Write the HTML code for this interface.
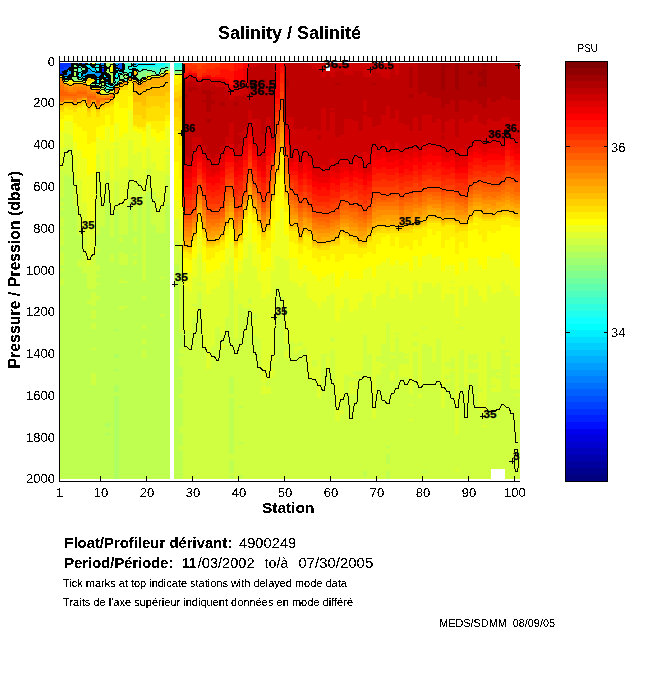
<!DOCTYPE html>
<html><head><meta charset="utf-8"><style>
html,body{margin:0;padding:0;background:#fff;width:650px;height:680px;overflow:hidden}
svg{display:block}
text{font-family:"Liberation Sans",sans-serif}
</style></head><body>
<svg width="650" height="680" viewBox="0 0 650 680">
<defs><filter id="cr" filterUnits="userSpaceOnUse" x="0" y="0" width="650" height="680"><feComponentTransfer><feFuncA type="discrete" tableValues="0 0 0 0 0 0 0 0 0 1 1 1 1 1 1 1 1 1 1 1"/></feComponentTransfer></filter></defs>
<rect width="650" height="680" fill="#fff"/>
<g shape-rendering="crispEdges"><path fill="#0010ff" d="M100.4 68.75h4.6v2.08h-4.6z"/><path fill="#0020ff" d="M59.0 72.91h4.6v2.08h-4.6z"/><path fill="#0030ff" d="M59.0 62.50h4.6v6.25h-4.6zM63.6 62.50h4.6v4.17h-4.6zM68.2 62.50h4.6v2.08h-4.6zM100.4 70.83h4.6v2.08h-4.6z"/><path fill="#0040ff" d="M59.0 68.75h4.6v4.16h-4.6zM63.6 66.67h4.6v4.16h-4.6zM68.2 64.58h4.6v4.17h-4.6zM100.4 66.67h4.6v2.08h-4.6z"/><path fill="#0050ff" d="M82.0 62.50h4.6v2.08h-4.6zM118.8 64.58h4.6v4.17h-4.6z"/><path fill="#0060ff" d="M118.8 62.50h4.6v2.08h-4.6z"/><path fill="#0070ff" d="M114.2 64.58h4.6v4.17h-4.6z"/><path fill="#0080ff" d="M63.6 72.91h4.6v2.08h-4.6zM77.4 62.50h4.6v2.08h-4.6zM100.4 64.58h4.6v2.08h-4.6zM105.0 79.16h4.6v2.08h-4.6z"/><path fill="#008fff" d="M63.6 75.00h4.6v2.08h-4.6zM68.2 70.83h4.6v2.08h-4.6zM86.6 70.83h4.6v2.08h-4.6zM95.8 72.91h4.6v4.17h-4.6zM100.4 62.50h4.6v2.08h-4.6zM100.4 72.91h4.6v2.08h-4.6zM105.0 77.08h4.6v2.08h-4.6z"/><path fill="#009fff" d="M68.2 72.91h4.6v2.08h-4.6zM91.2 72.91h4.6v2.08h-4.6zM118.8 68.75h4.6v2.08h-4.6zM132.6 62.50h4.6v2.08h-4.6z"/><path fill="#00afff" d="M82.0 72.91h4.6v4.17h-4.6zM86.6 68.75h4.6v2.08h-4.6zM86.6 72.91h4.6v2.08h-4.6zM114.2 62.50h4.6v2.08h-4.6z"/><path fill="#00bfff" d="M63.6 70.83h4.6v2.08h-4.6zM91.2 70.83h4.6v2.08h-4.6z"/><path fill="#00cfff" d="M68.2 68.75h4.6v2.08h-4.6zM86.6 66.67h4.6v2.08h-4.6zM91.2 68.75h4.6v2.08h-4.6zM105.0 81.24h4.6v2.08h-4.6zM132.6 64.58h4.6v2.08h-4.6z"/><path fill="#00dfff" d="M82.0 64.58h4.6v2.08h-4.6zM91.2 66.67h4.6v2.08h-4.6zM95.8 62.50h4.6v2.08h-4.6zM95.8 77.08h4.6v2.08h-4.6zM114.2 68.75h4.6v2.08h-4.6zM137.2 62.50h4.6v2.08h-4.6zM141.8 62.50h4.6v2.08h-4.6zM151.0 62.50h4.6v2.08h-4.6z"/><path fill="#00efff" d="M63.6 77.08h4.6v2.08h-4.6zM77.4 64.58h4.6v2.08h-4.6zM82.0 77.08h4.6v2.08h-4.6zM86.6 64.58h4.6v2.08h-4.6zM95.8 70.83h4.6v2.08h-4.6zM128.0 75.00h4.6v2.08h-4.6zM146.4 62.50h4.6v2.08h-4.6z"/><path fill="#00ffff" d="M68.2 75.00h4.6v2.08h-4.6zM77.4 72.91h4.6v4.17h-4.6zM82.0 70.83h4.6v2.08h-4.6zM91.2 75.00h4.6v2.08h-4.6zM114.2 75.00h4.6v2.08h-4.6zM118.8 70.83h4.6v2.08h-4.6zM137.2 64.58h4.6v2.08h-4.6zM160.2 62.50h4.6v2.08h-4.6z"/><path fill="#10ffff" d="M86.6 62.50h4.6v2.08h-4.6zM95.8 64.58h4.6v2.08h-4.6zM95.8 79.16h4.6v4.17h-4.6zM100.4 75.00h4.6v2.08h-4.6zM105.0 75.00h4.6v2.08h-4.6zM105.0 83.33h4.6v2.08h-4.6zM109.6 85.41h4.6v2.08h-4.6zM114.2 72.91h4.6v2.08h-4.6zM128.0 72.91h4.6v2.08h-4.6zM141.8 64.58h4.6v2.08h-4.6zM146.4 64.58h4.6v2.08h-4.6zM151.0 64.58h4.6v2.08h-4.6z"/><path fill="#20ffef" d="M72.8 62.50h4.6v2.08h-4.6zM95.8 68.75h4.6v2.08h-4.6zM105.0 85.41h4.6v2.08h-4.6zM114.2 77.08h4.6v2.08h-4.6zM128.0 66.67h4.6v2.08h-4.6zM132.6 66.67h4.6v2.08h-4.6zM137.2 66.67h4.6v2.08h-4.6zM155.6 62.50h4.6v4.17h-4.6zM160.2 64.58h4.6v2.08h-4.6zM174.0 62.50h4.6v2.08h-4.6z"/><path fill="#30ffdf" d="M77.4 70.83h4.6v2.08h-4.6zM95.8 66.67h4.6v2.08h-4.6zM114.2 70.83h4.6v2.08h-4.6zM128.0 64.58h4.6v2.08h-4.6zM128.0 68.75h4.6v4.16h-4.6zM146.4 66.67h4.6v2.08h-4.6zM155.6 66.67h4.6v2.08h-4.6zM164.8 62.50h5.4v2.08h-5.4zM174.0 64.58h4.6v2.08h-4.6zM178.6 62.50h4.6v4.17h-4.6z"/><path fill="#40ffcf" d="M77.4 77.08h4.6v2.08h-4.6zM86.6 75.00h4.6v2.08h-4.6zM95.8 83.33h4.6v2.08h-4.6zM105.0 87.49h4.6v2.08h-4.6zM109.6 87.49h4.6v2.08h-4.6zM114.2 79.16h4.6v2.08h-4.6zM123.4 62.50h4.6v2.08h-4.6zM123.4 68.75h4.6v2.08h-4.6zM132.6 77.08h4.6v2.08h-4.6zM141.8 66.67h4.6v2.08h-4.6zM151.0 66.67h4.6v2.08h-4.6zM155.6 68.75h4.6v4.16h-4.6zM164.8 64.58h5.4v2.08h-5.4zM174.0 66.67h4.6v2.08h-4.6zM178.6 66.67h4.6v2.08h-4.6z"/><path fill="#50ffbf" d="M77.4 66.67h4.6v4.16h-4.6zM82.0 79.16h4.6v2.08h-4.6zM114.2 81.24h4.6v4.16h-4.6zM118.8 72.91h4.6v2.08h-4.6zM118.8 79.16h4.6v2.08h-4.6zM123.4 64.58h4.6v4.17h-4.6zM123.4 70.83h4.6v2.08h-4.6zM128.0 62.50h4.6v2.08h-4.6zM137.2 68.75h4.6v2.08h-4.6zM141.8 77.08h4.6v2.08h-4.6zM151.0 68.75h4.6v2.08h-4.6zM155.6 72.91h4.6v2.08h-4.6zM160.2 66.67h4.6v2.08h-4.6zM174.0 68.75h4.6v2.08h-4.6zM178.6 68.75h4.6v2.08h-4.6z"/><path fill="#60ffaf" d="M91.2 64.58h4.6v2.08h-4.6zM91.2 85.41h4.6v2.08h-4.6zM109.6 83.33h4.6v2.08h-4.6zM123.4 79.16h4.6v2.08h-4.6zM137.2 79.16h4.6v2.08h-4.6zM141.8 68.75h4.6v2.08h-4.6zM146.4 68.75h4.6v2.08h-4.6zM164.8 66.67h5.4v2.08h-5.4z"/><path fill="#70ff9f" d="M137.2 70.83h4.6v2.08h-4.6zM151.0 70.83h4.6v2.08h-4.6z"/><path fill="#80ff8f" d="M72.8 64.58h4.6v2.08h-4.6zM82.0 66.67h4.6v4.16h-4.6zM100.4 77.08h4.6v2.08h-4.6zM105.0 89.57h4.6v2.08h-4.6zM118.8 75.00h4.6v2.08h-4.6zM137.2 77.08h4.6v2.08h-4.6zM141.8 75.00h4.6v2.08h-4.6zM146.4 70.83h4.6v2.08h-4.6zM160.2 68.75h4.6v2.08h-4.6zM174.0 70.83h4.6v2.08h-4.6z"/><path fill="#8fff80" d="M63.6 79.16h4.6v2.08h-4.6zM68.2 77.08h4.6v2.08h-4.6zM72.8 68.75h4.6v2.08h-4.6zM72.8 77.08h4.6v4.17h-4.6zM91.2 83.33h4.6v2.08h-4.6zM100.4 85.41h4.6v2.08h-4.6zM105.0 66.67h4.6v2.08h-4.6zM105.0 72.91h4.6v2.08h-4.6zM118.8 77.08h4.6v2.08h-4.6zM123.4 72.91h4.6v2.08h-4.6zM132.6 68.75h4.6v2.08h-4.6zM137.2 72.91h4.6v4.17h-4.6zM141.8 70.83h4.6v4.17h-4.6zM151.0 72.91h4.6v2.08h-4.6zM164.8 68.75h5.4v2.08h-5.4zM178.6 70.83h4.6v2.08h-4.6z"/><path fill="#9fff70" d="M72.8 66.67h4.6v2.08h-4.6zM72.8 70.83h4.6v2.08h-4.6zM77.4 79.16h4.6v2.08h-4.6zM105.0 64.58h4.6v2.08h-4.6zM105.0 68.75h4.6v2.08h-4.6zM123.4 77.08h4.6v2.08h-4.6zM160.2 70.83h4.6v2.08h-4.6z"/><path fill="#afff60" d="M72.8 75.00h4.6v2.08h-4.6zM91.2 77.08h4.6v2.08h-4.6zM100.4 83.33h4.6v2.08h-4.6zM100.4 87.49h4.6v2.08h-4.6zM105.0 62.50h4.6v2.08h-4.6zM105.0 70.83h4.6v2.08h-4.6zM105.0 422.77h4.6v4.17h-4.6zM105.0 433.19h4.6v2.08h-4.6zM109.6 75.00h4.6v4.16h-4.6zM114.2 329.06h4.6v2.08h-4.6zM114.2 354.05h4.6v4.16h-4.6zM114.2 368.63h4.6v2.08h-4.6zM114.2 385.29h4.6v6.25h-4.6zM114.2 395.70h4.6v83.30h-4.6zM123.4 75.00h4.6v2.08h-4.6zM132.6 75.00h4.6v2.08h-4.6zM146.4 72.91h4.6v2.08h-4.6z"/><path fill="#bfff50" d="M59.0 197.86h4.6v4.16h-4.6zM59.0 206.19h4.6v2.08h-4.6zM59.0 210.36h4.6v6.25h-4.6zM59.0 227.02h4.6v2.08h-4.6zM59.0 245.76h4.6v6.25h-4.6zM59.0 264.50h4.6v4.17h-4.6zM59.0 270.75h4.6v8.33h-4.6zM59.0 285.33h4.6v193.67h-4.6zM63.6 174.95h4.6v304.05h-4.6zM68.2 177.04h4.6v301.96h-4.6zM72.8 72.91h4.6v2.08h-4.6zM72.8 206.19h4.6v272.81h-4.6zM77.4 235.35h4.6v24.99h-4.6zM77.4 266.59h4.6v212.41h-4.6zM82.0 272.83h4.6v206.17h-4.6zM86.6 289.49h4.6v10.41h-4.6zM86.6 304.07h4.6v174.93h-4.6zM91.2 289.49h4.6v2.08h-4.6zM91.2 306.15h4.6v4.16h-4.6zM91.2 318.65h4.6v4.17h-4.6zM91.2 329.06h4.6v18.74h-4.6zM91.2 349.88h4.6v22.91h-4.6zM91.2 385.29h4.6v93.71h-4.6zM95.8 85.41h4.6v2.08h-4.6zM95.8 235.35h4.6v12.50h-4.6zM95.8 252.01h4.6v12.50h-4.6zM95.8 270.75h4.6v4.16h-4.6zM95.8 277.00h4.6v6.25h-4.6zM95.8 285.33h4.6v10.41h-4.6zM95.8 299.90h4.6v179.10h-4.6zM100.4 227.02h4.6v251.98h-4.6zM105.0 199.94h4.6v222.83h-4.6zM105.0 426.94h4.6v6.25h-4.6zM105.0 435.27h4.6v43.73h-4.6zM109.6 62.50h4.6v2.08h-4.6zM109.6 72.91h4.6v2.08h-4.6zM109.6 81.24h4.6v2.08h-4.6zM109.6 237.43h4.6v16.66h-4.6zM109.6 262.42h4.6v216.58h-4.6zM114.2 212.44h4.6v116.62h-4.6zM114.2 331.14h4.6v22.91h-4.6zM114.2 358.21h4.6v10.41h-4.6zM114.2 370.71h4.6v14.58h-4.6zM114.2 391.54h4.6v4.16h-4.6zM118.8 235.35h4.6v2.08h-4.6zM118.8 241.59h4.6v10.41h-4.6zM118.8 264.50h4.6v14.58h-4.6zM118.8 283.25h4.6v22.91h-4.6zM118.8 310.32h4.6v168.68h-4.6zM123.4 235.35h4.6v18.74h-4.6zM123.4 264.50h4.6v16.66h-4.6zM123.4 283.25h4.6v22.91h-4.6zM123.4 308.24h4.6v170.76h-4.6zM128.0 199.94h4.6v279.06h-4.6zM132.6 231.18h4.6v6.25h-4.6zM132.6 243.68h4.6v10.41h-4.6zM132.6 256.17h4.6v4.16h-4.6zM132.6 264.50h4.6v214.50h-4.6zM137.2 206.19h4.6v272.81h-4.6zM141.8 281.16h4.6v14.58h-4.6zM141.8 299.90h4.6v24.99h-4.6zM141.8 329.06h4.6v10.41h-4.6zM141.8 343.64h4.6v6.25h-4.6zM141.8 358.21h4.6v120.79h-4.6zM146.4 75.00h4.6v2.08h-4.6zM146.4 191.62h4.6v287.38h-4.6zM151.0 224.94h4.6v254.06h-4.6zM155.6 233.27h4.6v245.73h-4.6zM160.2 233.27h4.6v43.73h-4.6zM160.2 279.08h4.6v35.40h-4.6zM160.2 316.56h4.6v162.44h-4.6zM164.8 204.11h5.4v274.89h-5.4zM174.0 72.91h4.6v2.08h-4.6zM174.0 264.50h4.6v214.50h-4.6zM178.6 333.23h4.6v14.58h-4.6zM178.6 354.05h4.6v2.08h-4.6zM178.6 366.55h4.6v10.41h-4.6zM178.6 379.04h4.6v14.58h-4.6zM178.6 397.78h4.6v29.15h-4.6zM178.6 433.19h4.6v12.50h-4.6zM178.6 449.85h4.6v29.15h-4.6zM229.2 376.96h4.6v16.66h-4.6zM229.2 397.78h4.6v56.23h-4.6zM229.2 460.26h4.6v12.50h-4.6zM229.2 474.83h4.6v4.17h-4.6zM238.4 406.11h4.6v2.08h-4.6zM238.4 441.51h4.6v2.08h-4.6zM238.4 474.83h4.6v4.17h-4.6zM362.6 470.67h4.6v6.25h-4.6zM385.6 445.68h4.6v2.08h-4.6zM385.6 454.01h4.6v10.41h-4.6zM385.6 470.67h4.6v8.33h-4.6zM422.4 470.67h4.6v2.08h-4.6z"/><path fill="#cfff40" d="M59.0 168.71h4.6v29.16h-4.6zM59.0 202.03h4.6v4.16h-4.6zM59.0 208.28h4.6v2.08h-4.6zM59.0 216.60h4.6v10.41h-4.6zM59.0 229.10h4.6v16.66h-4.6zM59.0 252.01h4.6v12.50h-4.6zM59.0 268.67h4.6v2.08h-4.6zM59.0 279.08h4.6v6.25h-4.6zM63.6 147.88h4.6v27.07h-4.6zM68.2 147.88h4.6v29.16h-4.6zM72.8 181.20h4.6v24.99h-4.6zM77.4 210.36h4.6v24.99h-4.6zM77.4 260.34h4.6v6.25h-4.6zM82.0 237.43h4.6v8.33h-4.6zM82.0 247.84h4.6v24.99h-4.6zM86.6 264.50h4.6v24.99h-4.6zM86.6 299.90h4.6v4.17h-4.6zM91.2 256.17h4.6v33.32h-4.6zM91.2 291.57h4.6v14.58h-4.6zM91.2 310.32h4.6v8.33h-4.6zM91.2 322.81h4.6v6.25h-4.6zM91.2 347.80h4.6v2.08h-4.6zM91.2 372.79h4.6v12.50h-4.6zM95.8 172.87h4.6v62.47h-4.6zM95.8 247.84h4.6v4.16h-4.6zM95.8 264.50h4.6v6.25h-4.6zM95.8 274.91h4.6v2.08h-4.6zM95.8 283.25h4.6v2.08h-4.6zM95.8 295.74h4.6v4.16h-4.6zM100.4 79.16h4.6v2.08h-4.6zM100.4 202.03h4.6v24.99h-4.6zM105.0 170.79h4.6v29.15h-4.6zM109.6 79.16h4.6v2.08h-4.6zM109.6 208.28h4.6v29.16h-4.6zM109.6 254.09h4.6v8.33h-4.6zM114.2 181.20h4.6v31.24h-4.6zM118.8 206.19h4.6v29.16h-4.6zM118.8 237.43h4.6v4.16h-4.6zM118.8 252.01h4.6v12.50h-4.6zM118.8 279.08h4.6v4.16h-4.6zM118.8 306.15h4.6v4.16h-4.6zM123.4 204.11h4.6v31.24h-4.6zM123.4 254.09h4.6v10.41h-4.6zM123.4 281.16h4.6v2.08h-4.6zM123.4 306.15h4.6v2.08h-4.6zM128.0 168.71h4.6v31.24h-4.6zM132.6 183.28h4.6v47.90h-4.6zM132.6 237.43h4.6v6.25h-4.6zM132.6 254.09h4.6v2.08h-4.6zM132.6 260.34h4.6v4.17h-4.6zM137.2 179.12h4.6v27.07h-4.6zM141.8 193.70h4.6v87.47h-4.6zM141.8 295.74h4.6v4.16h-4.6zM141.8 324.89h4.6v4.17h-4.6zM141.8 339.47h4.6v4.16h-4.6zM141.8 349.88h4.6v8.33h-4.6zM146.4 168.71h4.6v22.91h-4.6zM151.0 191.62h4.6v33.32h-4.6zM155.6 197.86h4.6v4.16h-4.6zM155.6 208.28h4.6v24.99h-4.6zM160.2 208.28h4.6v24.99h-4.6zM160.2 277.00h4.6v2.08h-4.6zM160.2 314.48h4.6v2.08h-4.6zM164.8 174.95h5.4v29.16h-5.4zM174.0 241.59h4.6v22.91h-4.6zM178.6 72.91h4.6v2.08h-4.6zM178.6 252.01h4.6v81.22h-4.6zM178.6 347.80h4.6v6.25h-4.6zM178.6 356.13h4.6v10.41h-4.6zM178.6 376.96h4.6v2.08h-4.6zM178.6 393.62h4.6v4.17h-4.6zM178.6 426.94h4.6v6.25h-4.6zM178.6 445.68h4.6v4.17h-4.6zM183.2 331.14h4.6v147.86h-4.6zM187.8 331.14h4.6v147.86h-4.6zM192.4 304.07h4.6v2.08h-4.6zM192.4 316.56h4.6v162.44h-4.6zM197.0 283.25h4.6v2.08h-4.6zM197.0 291.57h4.6v187.43h-4.6zM201.6 347.80h4.6v131.20h-4.6zM206.2 368.63h4.6v110.37h-4.6zM210.8 345.72h4.6v133.28h-4.6zM215.4 326.98h4.6v152.02h-4.6zM220.0 335.31h4.6v8.33h-4.6zM220.0 347.80h4.6v131.20h-4.6zM224.6 316.56h4.6v162.44h-4.6zM229.2 281.16h4.6v95.79h-4.6zM229.2 393.62h4.6v4.17h-4.6zM229.2 454.01h4.6v6.25h-4.6zM229.2 472.75h4.6v2.08h-4.6zM233.8 339.47h4.6v139.53h-4.6zM238.4 304.07h4.6v102.04h-4.6zM238.4 408.19h4.6v33.32h-4.6zM238.4 443.60h4.6v31.24h-4.6zM243.0 308.24h4.6v22.91h-4.6zM243.0 333.23h4.6v145.77h-4.6zM247.6 297.82h4.6v6.25h-4.6zM247.6 308.24h4.6v170.76h-4.6zM252.2 314.48h4.6v4.16h-4.6zM252.2 335.31h4.6v143.69h-4.6zM256.8 339.47h4.6v139.53h-4.6zM261.4 383.20h4.6v2.08h-4.6zM261.4 393.62h4.6v85.38h-4.6zM266.0 379.04h4.6v8.33h-4.6zM266.0 393.62h4.6v85.38h-4.6zM270.6 362.38h4.6v6.25h-4.6zM270.6 376.96h4.6v102.04h-4.6zM275.2 287.41h4.6v191.59h-4.6zM279.8 295.74h4.6v183.26h-4.6zM284.4 343.64h4.6v6.25h-4.6zM284.4 358.21h4.6v120.79h-4.6zM289.0 341.56h4.6v137.44h-4.6zM293.6 343.64h4.6v2.08h-4.6zM293.6 354.05h4.6v124.95h-4.6zM298.2 341.56h4.6v4.17h-4.6zM298.2 349.88h4.6v129.12h-4.6zM302.8 347.80h4.6v131.20h-4.6zM307.4 379.04h4.6v99.96h-4.6zM312.0 360.30h4.6v6.25h-4.6zM312.0 379.04h4.6v99.96h-4.6zM316.6 397.78h4.6v81.22h-4.6zM321.2 354.05h4.6v124.95h-4.6zM325.8 354.05h4.6v2.08h-4.6zM325.8 370.71h4.6v108.29h-4.6zM330.4 337.39h4.6v4.17h-4.6zM330.4 349.88h4.6v129.12h-4.6zM335.0 420.69h4.6v58.31h-4.6zM339.6 399.87h4.6v10.41h-4.6zM339.6 414.44h4.6v64.56h-4.6zM344.2 374.88h4.6v104.12h-4.6zM348.8 376.96h4.6v4.17h-4.6zM348.8 393.62h4.6v85.38h-4.6zM353.4 370.71h4.6v4.17h-4.6zM353.4 376.96h4.6v4.17h-4.6zM353.4 385.29h4.6v2.08h-4.6zM353.4 393.62h4.6v85.38h-4.6zM358.0 370.71h4.6v108.29h-4.6zM362.6 335.31h4.6v135.36h-4.6zM362.6 476.92h4.6v2.08h-4.6zM367.2 354.05h4.6v124.95h-4.6zM371.8 397.78h4.6v4.16h-4.6zM371.8 418.61h4.6v60.39h-4.6zM376.4 356.13h4.6v6.25h-4.6zM376.4 374.88h4.6v104.12h-4.6zM381.0 343.64h4.6v20.82h-4.6zM381.0 366.55h4.6v112.45h-4.6zM385.6 322.81h4.6v122.87h-4.6zM385.6 447.76h4.6v6.25h-4.6zM385.6 464.42h4.6v6.25h-4.6zM390.2 351.97h4.6v4.16h-4.6zM390.2 358.21h4.6v12.50h-4.6zM390.2 381.12h4.6v97.88h-4.6zM394.8 333.23h4.6v2.08h-4.6zM394.8 337.39h4.6v141.61h-4.6zM399.4 351.97h4.6v12.49h-4.6zM399.4 376.96h4.6v102.04h-4.6zM404.0 354.05h4.6v2.08h-4.6zM404.0 358.21h4.6v6.25h-4.6zM404.0 376.96h4.6v102.04h-4.6zM408.6 393.62h4.6v10.41h-4.6zM408.6 406.11h4.6v12.50h-4.6zM408.6 420.69h4.6v58.31h-4.6zM413.2 333.23h4.6v2.08h-4.6zM413.2 341.56h4.6v4.17h-4.6zM413.2 351.97h4.6v127.03h-4.6zM417.8 385.29h4.6v8.33h-4.6zM417.8 397.78h4.6v81.22h-4.6zM422.4 326.98h4.6v2.08h-4.6zM422.4 343.64h4.6v127.03h-4.6zM422.4 472.75h4.6v6.25h-4.6zM427.0 345.72h4.6v133.28h-4.6zM431.6 362.38h4.6v116.62h-4.6zM436.2 339.47h4.6v139.53h-4.6zM440.8 408.19h4.6v70.81h-4.6zM445.4 362.38h4.6v4.17h-4.6zM445.4 374.88h4.6v4.17h-4.6zM445.4 383.20h4.6v95.80h-4.6zM450.0 358.21h4.6v10.41h-4.6zM450.0 370.71h4.6v108.29h-4.6zM454.6 435.27h4.6v33.32h-4.6zM454.6 470.67h4.6v8.33h-4.6zM459.2 326.98h4.6v2.08h-4.6zM459.2 349.88h4.6v129.12h-4.6zM463.8 387.37h4.6v10.41h-4.6zM463.8 401.95h4.6v77.05h-4.6zM468.4 354.05h4.6v14.58h-4.6zM468.4 372.79h4.6v106.21h-4.6zM473.0 354.05h4.6v6.25h-4.6zM473.0 362.38h4.6v6.25h-4.6zM473.0 372.79h4.6v106.21h-4.6zM477.6 389.45h4.6v2.08h-4.6zM477.6 410.28h4.6v68.72h-4.6zM482.2 412.36h4.6v12.50h-4.6zM482.2 426.94h4.6v52.06h-4.6zM486.8 351.97h4.6v127.03h-4.6zM491.4 368.63h4.6v8.33h-4.6zM491.4 385.29h4.6v2.08h-4.6zM491.4 391.54h4.6v77.05h-4.6zM496.0 368.63h4.6v4.17h-4.6zM496.0 374.88h4.6v4.17h-4.6zM496.0 391.54h4.6v77.05h-4.6zM500.6 337.39h4.6v6.25h-4.6zM500.6 349.88h4.6v118.70h-4.6zM505.2 349.88h4.6v2.08h-4.6zM505.2 356.13h4.6v122.87h-4.6zM509.8 389.45h4.6v89.55h-4.6zM514.4 364.46h5.4v2.08h-5.4zM514.4 374.88h5.4v2.08h-5.4zM514.4 389.45h5.4v4.17h-5.4zM514.4 395.70h5.4v83.30h-5.4z"/><path fill="#dfff30" d="M59.0 147.88h4.6v20.82h-4.6zM63.6 133.31h4.6v14.58h-4.6zM68.2 135.39h4.6v12.50h-4.6zM72.8 160.38h4.6v20.82h-4.6zM77.4 179.12h4.6v31.24h-4.6zM82.0 81.24h4.6v2.08h-4.6zM82.0 202.03h4.6v35.40h-4.6zM82.0 245.76h4.6v2.08h-4.6zM86.6 220.77h4.6v43.73h-4.6zM91.2 62.50h4.6v2.08h-4.6zM91.2 220.77h4.6v35.40h-4.6zM95.8 154.13h4.6v18.74h-4.6zM100.4 81.24h4.6v2.08h-4.6zM100.4 91.66h4.6v2.08h-4.6zM100.4 170.79h4.6v31.24h-4.6zM105.0 91.66h4.6v2.08h-4.6zM105.0 149.97h4.6v20.83h-4.6zM109.6 64.58h4.6v2.08h-4.6zM109.6 89.57h4.6v2.08h-4.6zM109.6 179.12h4.6v29.16h-4.6zM114.2 141.63h4.6v4.17h-4.6zM114.2 147.88h4.6v33.32h-4.6zM118.8 168.71h4.6v37.49h-4.6zM123.4 166.62h4.6v37.49h-4.6zM128.0 139.55h4.6v29.15h-4.6zM132.6 154.13h4.6v29.16h-4.6zM137.2 152.05h4.6v27.07h-4.6zM141.8 168.71h4.6v24.99h-4.6zM146.4 147.88h4.6v20.82h-4.6zM151.0 162.46h4.6v29.16h-4.6zM155.6 170.79h4.6v27.07h-4.6zM155.6 202.03h4.6v6.25h-4.6zM160.2 72.91h4.6v2.08h-4.6zM160.2 170.79h4.6v37.48h-4.6zM164.8 147.88h5.4v4.17h-5.4zM164.8 154.13h5.4v20.82h-5.4zM174.0 218.69h4.6v22.91h-4.6zM178.6 231.18h4.6v20.82h-4.6zM183.2 287.41h4.6v43.73h-4.6zM187.8 291.57h4.6v39.57h-4.6zM192.4 277.00h4.6v27.07h-4.6zM192.4 306.15h4.6v10.41h-4.6zM197.0 254.09h4.6v29.16h-4.6zM197.0 285.33h4.6v6.25h-4.6zM201.6 281.16h4.6v66.64h-4.6zM206.2 293.66h4.6v74.97h-4.6zM210.8 289.49h4.6v56.23h-4.6zM215.4 287.41h4.6v39.57h-4.6zM220.0 279.08h4.6v56.23h-4.6zM220.0 343.64h4.6v4.17h-4.6zM224.6 264.50h4.6v52.06h-4.6zM229.2 258.25h4.6v22.91h-4.6zM233.8 289.49h4.6v49.98h-4.6zM238.4 272.83h4.6v31.24h-4.6zM243.0 258.25h4.6v49.98h-4.6zM243.0 331.14h4.6v2.08h-4.6zM247.6 243.68h4.6v54.14h-4.6zM247.6 304.07h4.6v4.17h-4.6zM252.2 266.59h4.6v47.90h-4.6zM252.2 318.65h4.6v16.66h-4.6zM256.8 281.16h4.6v58.31h-4.6zM261.4 297.82h4.6v85.38h-4.6zM261.4 385.29h4.6v8.33h-4.6zM266.0 293.66h4.6v85.38h-4.6zM266.0 387.37h4.6v6.25h-4.6zM270.6 270.75h4.6v91.63h-4.6zM270.6 368.63h4.6v8.33h-4.6zM275.2 256.17h4.6v31.24h-4.6zM279.8 258.25h4.6v37.49h-4.6zM284.4 260.34h4.6v83.30h-4.6zM284.4 349.88h4.6v8.33h-4.6zM289.0 281.16h4.6v60.39h-4.6zM293.6 283.25h4.6v60.39h-4.6zM293.6 345.72h4.6v8.33h-4.6zM298.2 287.41h4.6v54.15h-4.6zM298.2 345.72h4.6v4.16h-4.6zM302.8 283.25h4.6v64.56h-4.6zM307.4 297.82h4.6v81.22h-4.6zM312.0 301.99h4.6v58.31h-4.6zM312.0 366.55h4.6v12.50h-4.6zM316.6 308.24h4.6v89.55h-4.6zM321.2 301.99h4.6v52.06h-4.6zM325.8 295.74h4.6v58.31h-4.6zM325.8 356.13h4.6v14.58h-4.6zM330.4 293.66h4.6v43.73h-4.6zM330.4 341.56h4.6v8.33h-4.6zM335.0 320.73h4.6v99.96h-4.6zM339.6 308.24h4.6v91.63h-4.6zM339.6 410.28h4.6v4.17h-4.6zM344.2 297.82h4.6v77.05h-4.6zM348.8 312.40h4.6v64.56h-4.6zM348.8 381.12h4.6v12.50h-4.6zM353.4 310.32h4.6v60.39h-4.6zM353.4 374.88h4.6v2.08h-4.6zM353.4 381.12h4.6v4.17h-4.6zM353.4 387.37h4.6v6.25h-4.6zM358.0 301.99h4.6v68.72h-4.6zM362.6 293.66h4.6v41.65h-4.6zM367.2 291.57h4.6v62.48h-4.6zM371.8 308.24h4.6v89.55h-4.6zM371.8 401.95h4.6v16.66h-4.6zM376.4 295.74h4.6v60.39h-4.6zM376.4 362.38h4.6v12.50h-4.6zM381.0 293.66h4.6v49.98h-4.6zM381.0 364.46h4.6v2.08h-4.6zM385.6 281.16h4.6v41.65h-4.6zM390.2 297.82h4.6v54.15h-4.6zM390.2 356.13h4.6v2.08h-4.6zM390.2 370.71h4.6v10.41h-4.6zM394.8 287.41h4.6v45.82h-4.6zM394.8 335.31h4.6v2.08h-4.6zM399.4 293.66h4.6v58.31h-4.6zM399.4 364.46h4.6v12.50h-4.6zM404.0 293.66h4.6v60.39h-4.6zM404.0 356.13h4.6v2.08h-4.6zM404.0 364.46h4.6v12.50h-4.6zM408.6 299.90h4.6v93.71h-4.6zM408.6 404.03h4.6v2.08h-4.6zM408.6 418.61h4.6v2.08h-4.6zM413.2 281.16h4.6v52.06h-4.6zM413.2 335.31h4.6v6.25h-4.6zM413.2 345.72h4.6v6.25h-4.6zM417.8 293.66h4.6v91.63h-4.6zM417.8 393.62h4.6v4.17h-4.6zM422.4 283.25h4.6v43.73h-4.6zM422.4 329.06h4.6v14.58h-4.6zM427.0 283.25h4.6v62.48h-4.6zM431.6 287.41h4.6v74.97h-4.6zM436.2 283.25h4.6v56.23h-4.6zM440.8 299.90h4.6v108.29h-4.6zM445.4 293.66h4.6v68.72h-4.6zM445.4 366.55h4.6v8.33h-4.6zM445.4 379.04h4.6v4.16h-4.6zM450.0 281.16h4.6v2.08h-4.6zM450.0 287.41h4.6v2.08h-4.6zM450.0 293.66h4.6v64.56h-4.6zM450.0 368.63h4.6v2.08h-4.6zM454.6 316.56h4.6v4.17h-4.6zM454.6 322.81h4.6v112.45h-4.6zM454.6 468.59h4.6v2.08h-4.6zM459.2 287.41h4.6v39.57h-4.6zM459.2 329.06h4.6v20.82h-4.6zM463.8 306.15h4.6v81.22h-4.6zM463.8 397.78h4.6v4.16h-4.6zM468.4 285.33h4.6v68.72h-4.6zM468.4 368.63h4.6v4.17h-4.6zM473.0 289.49h4.6v64.56h-4.6zM473.0 360.30h4.6v2.08h-4.6zM473.0 368.63h4.6v4.17h-4.6zM477.6 295.74h4.6v93.71h-4.6zM477.6 391.54h4.6v18.74h-4.6zM482.2 301.99h4.6v110.37h-4.6zM482.2 424.86h4.6v2.08h-4.6zM486.8 285.33h4.6v66.64h-4.6zM491.4 293.66h4.6v74.97h-4.6zM491.4 376.96h4.6v8.33h-4.6zM491.4 387.37h4.6v4.17h-4.6zM496.0 291.57h4.6v77.05h-4.6zM496.0 372.79h4.6v2.08h-4.6zM496.0 379.04h4.6v12.50h-4.6zM500.6 281.16h4.6v56.23h-4.6zM500.6 343.64h4.6v6.25h-4.6zM505.2 285.33h4.6v64.56h-4.6zM505.2 351.97h4.6v4.16h-4.6zM509.8 289.49h4.6v99.96h-4.6zM514.4 295.74h5.4v68.72h-5.4zM514.4 366.55h5.4v8.33h-5.4zM514.4 376.96h5.4v12.50h-5.4zM514.4 393.62h5.4v2.08h-5.4z"/><path fill="#efff20" d="M59.0 75.00h4.6v2.08h-4.6zM59.0 131.22h4.6v16.66h-4.6zM63.6 81.24h4.6v2.08h-4.6zM63.6 120.81h4.6v12.50h-4.6zM68.2 79.16h4.6v2.08h-4.6zM68.2 120.81h4.6v14.58h-4.6zM72.8 141.63h4.6v18.74h-4.6zM77.4 149.97h4.6v29.16h-4.6zM82.0 158.30h4.6v43.73h-4.6zM86.6 174.95h4.6v45.82h-4.6zM91.2 81.24h4.6v2.08h-4.6zM91.2 172.87h4.6v47.90h-4.6zM95.8 137.47h4.6v16.66h-4.6zM100.4 89.57h4.6v2.08h-4.6zM100.4 139.55h4.6v31.24h-4.6zM105.0 127.06h4.6v22.91h-4.6zM109.6 70.83h4.6v2.08h-4.6zM109.6 141.63h4.6v37.49h-4.6zM114.2 122.89h4.6v18.74h-4.6zM114.2 145.80h4.6v2.08h-4.6zM118.8 81.24h4.6v2.08h-4.6zM118.8 137.47h4.6v31.24h-4.6zM123.4 133.31h4.6v33.32h-4.6zM128.0 110.40h4.6v29.16h-4.6zM132.6 131.22h4.6v22.91h-4.6zM137.2 81.24h4.6v2.08h-4.6zM137.2 133.31h4.6v18.74h-4.6zM141.8 79.16h4.6v2.08h-4.6zM141.8 145.80h4.6v22.91h-4.6zM146.4 124.97h4.6v22.91h-4.6zM151.0 75.00h4.6v2.08h-4.6zM151.0 137.47h4.6v24.99h-4.6zM155.6 75.00h4.6v2.08h-4.6zM155.6 141.63h4.6v29.16h-4.6zM160.2 139.55h4.6v31.24h-4.6zM164.8 127.06h5.4v20.82h-5.4zM164.8 152.05h5.4v2.08h-5.4zM174.0 199.94h4.6v18.74h-4.6zM178.6 208.28h4.6v22.91h-4.6zM183.2 270.75h4.6v16.66h-4.6zM187.8 272.83h4.6v18.74h-4.6zM192.4 258.25h4.6v18.74h-4.6zM197.0 237.43h4.6v16.66h-4.6zM201.6 262.42h4.6v18.74h-4.6zM206.2 272.83h4.6v20.83h-4.6zM210.8 270.75h4.6v18.74h-4.6zM215.4 268.67h4.6v18.74h-4.6zM220.0 262.42h4.6v16.66h-4.6zM224.6 247.84h4.6v16.66h-4.6zM229.2 241.59h4.6v16.66h-4.6zM233.8 270.75h4.6v18.74h-4.6zM238.4 260.34h4.6v12.50h-4.6zM243.0 237.43h4.6v20.82h-4.6zM247.6 222.85h4.6v20.83h-4.6zM252.2 241.59h4.6v24.99h-4.6zM256.8 254.09h4.6v27.07h-4.6zM261.4 270.75h4.6v27.07h-4.6zM266.0 266.59h4.6v27.07h-4.6zM270.6 241.59h4.6v29.16h-4.6zM275.2 220.77h4.6v35.40h-4.6zM279.8 208.28h4.6v49.98h-4.6zM284.4 235.35h4.6v24.99h-4.6zM289.0 258.25h4.6v22.91h-4.6zM293.6 258.25h4.6v24.99h-4.6zM298.2 268.67h4.6v18.74h-4.6zM302.8 264.50h4.6v18.74h-4.6zM307.4 270.75h4.6v27.07h-4.6zM312.0 274.91h4.6v27.07h-4.6zM316.6 281.16h4.6v27.07h-4.6zM321.2 277.00h4.6v24.99h-4.6zM325.8 274.91h4.6v20.83h-4.6zM330.4 272.83h4.6v20.83h-4.6zM335.0 287.41h4.6v33.32h-4.6zM339.6 277.00h4.6v31.24h-4.6zM344.2 270.75h4.6v27.07h-4.6zM348.8 279.08h4.6v33.32h-4.6zM353.4 279.08h4.6v31.24h-4.6zM358.0 279.08h4.6v22.91h-4.6zM362.6 268.67h4.6v24.99h-4.6zM367.2 266.59h4.6v24.99h-4.6zM371.8 277.00h4.6v31.24h-4.6zM376.4 264.50h4.6v31.24h-4.6zM381.0 262.42h4.6v31.24h-4.6zM385.6 258.25h4.6v22.91h-4.6zM390.2 264.50h4.6v33.32h-4.6zM394.8 260.34h4.6v27.07h-4.6zM399.4 264.50h4.6v29.16h-4.6zM404.0 262.42h4.6v31.24h-4.6zM408.6 270.75h4.6v29.15h-4.6zM413.2 256.17h4.6v24.99h-4.6zM417.8 266.59h4.6v27.07h-4.6zM422.4 256.17h4.6v27.07h-4.6zM427.0 254.09h4.6v29.16h-4.6zM431.6 258.25h4.6v29.15h-4.6zM436.2 256.17h4.6v27.07h-4.6zM440.8 270.75h4.6v29.15h-4.6zM445.4 264.50h4.6v29.16h-4.6zM450.0 264.50h4.6v16.66h-4.6zM450.0 283.25h4.6v4.16h-4.6zM450.0 289.49h4.6v4.17h-4.6zM454.6 274.91h4.6v41.65h-4.6zM454.6 320.73h4.6v2.08h-4.6zM459.2 262.42h4.6v24.99h-4.6zM463.8 270.75h4.6v35.40h-4.6zM468.4 258.25h4.6v27.07h-4.6zM473.0 258.25h4.6v31.24h-4.6zM477.6 264.50h4.6v31.24h-4.6zM482.2 268.67h4.6v33.32h-4.6zM486.8 256.17h4.6v29.15h-4.6zM491.4 258.25h4.6v35.40h-4.6zM496.0 258.25h4.6v33.32h-4.6zM500.6 252.01h4.6v29.16h-4.6zM505.2 254.09h4.6v31.24h-4.6zM509.8 260.34h4.6v29.16h-4.6zM514.4 266.59h5.4v29.15h-5.4z"/><path fill="#ffff00" d="M59.0 118.73h4.6v12.50h-4.6zM63.6 114.56h4.6v6.25h-4.6zM68.2 81.24h4.6v2.08h-4.6zM68.2 114.56h4.6v6.25h-4.6zM72.8 122.89h4.6v18.74h-4.6zM77.4 127.06h4.6v22.91h-4.6zM82.0 131.22h4.6v27.07h-4.6zM86.6 77.08h4.6v2.08h-4.6zM86.6 83.33h4.6v2.08h-4.6zM86.6 143.72h4.6v31.24h-4.6zM91.2 141.63h4.6v31.24h-4.6zM95.8 127.06h4.6v10.41h-4.6zM100.4 124.97h4.6v14.58h-4.6zM105.0 114.56h4.6v12.50h-4.6zM109.6 66.67h4.6v2.08h-4.6zM109.6 124.97h4.6v16.66h-4.6zM114.2 102.07h4.6v20.83h-4.6zM118.8 108.31h4.6v29.16h-4.6zM123.4 108.31h4.6v24.99h-4.6zM128.0 95.82h4.6v14.58h-4.6zM132.6 79.16h4.6v2.08h-4.6zM132.6 127.06h4.6v4.16h-4.6zM137.2 129.14h4.6v4.17h-4.6zM141.8 131.22h4.6v14.58h-4.6zM146.4 122.89h4.6v2.08h-4.6zM151.0 129.14h4.6v8.33h-4.6zM155.6 133.31h4.6v8.33h-4.6zM160.2 131.22h4.6v8.33h-4.6zM164.8 120.81h5.4v6.25h-5.4zM174.0 75.00h4.6v4.16h-4.6zM174.0 162.46h4.6v37.48h-4.6zM178.6 179.12h4.6v29.16h-4.6zM183.2 258.25h4.6v12.50h-4.6zM187.8 260.34h4.6v12.50h-4.6zM192.4 245.76h4.6v12.50h-4.6zM197.0 227.02h4.6v10.41h-4.6zM201.6 245.76h4.6v16.66h-4.6zM206.2 260.34h4.6v12.50h-4.6zM210.8 258.25h4.6v12.50h-4.6zM215.4 252.01h4.6v16.66h-4.6zM220.0 249.93h4.6v12.50h-4.6zM224.6 235.35h4.6v12.50h-4.6zM229.2 227.02h4.6v14.58h-4.6zM233.8 258.25h4.6v12.50h-4.6zM238.4 243.68h4.6v16.66h-4.6zM243.0 222.85h4.6v14.58h-4.6zM247.6 212.44h4.6v10.41h-4.6zM252.2 222.85h4.6v18.74h-4.6zM256.8 235.35h4.6v18.74h-4.6zM261.4 252.01h4.6v18.74h-4.6zM266.0 247.84h4.6v18.74h-4.6zM270.6 218.69h4.6v22.91h-4.6zM275.2 195.78h4.6v24.99h-4.6zM279.8 174.95h4.6v33.32h-4.6zM284.4 212.44h4.6v22.91h-4.6zM289.0 241.59h4.6v16.66h-4.6zM293.6 243.68h4.6v14.58h-4.6zM298.2 254.09h4.6v14.58h-4.6zM302.8 245.76h4.6v18.74h-4.6zM307.4 249.93h4.6v20.82h-4.6zM312.0 258.25h4.6v16.66h-4.6zM316.6 262.42h4.6v18.74h-4.6zM321.2 256.17h4.6v20.82h-4.6zM325.8 260.34h4.6v14.58h-4.6zM330.4 254.09h4.6v18.74h-4.6zM335.0 262.42h4.6v24.99h-4.6zM339.6 260.34h4.6v16.66h-4.6zM344.2 254.09h4.6v16.66h-4.6zM348.8 254.09h4.6v24.99h-4.6zM353.4 254.09h4.6v24.99h-4.6zM358.0 258.25h4.6v20.83h-4.6zM362.6 254.09h4.6v14.58h-4.6zM367.2 252.01h4.6v14.58h-4.6zM371.8 254.09h4.6v22.91h-4.6zM376.4 243.68h4.6v20.82h-4.6zM381.0 237.43h4.6v24.99h-4.6zM385.6 235.35h4.6v22.91h-4.6zM390.2 245.76h4.6v18.74h-4.6zM394.8 237.43h4.6v22.91h-4.6zM399.4 247.84h4.6v16.66h-4.6zM404.0 245.76h4.6v16.66h-4.6zM408.6 249.93h4.6v20.82h-4.6zM413.2 239.51h4.6v16.66h-4.6zM417.8 245.76h4.6v20.83h-4.6zM422.4 237.43h4.6v18.74h-4.6zM427.0 229.10h4.6v24.99h-4.6zM431.6 235.35h4.6v22.91h-4.6zM436.2 231.18h4.6v24.99h-4.6zM440.8 247.84h4.6v22.91h-4.6zM445.4 239.51h4.6v24.99h-4.6zM450.0 237.43h4.6v27.07h-4.6zM454.6 254.09h4.6v20.82h-4.6zM459.2 241.59h4.6v20.83h-4.6zM463.8 247.84h4.6v22.91h-4.6zM468.4 231.18h4.6v27.07h-4.6zM473.0 222.85h4.6v2.08h-4.6zM473.0 229.10h4.6v29.16h-4.6zM477.6 235.35h4.6v29.16h-4.6zM482.2 241.59h4.6v27.07h-4.6zM486.8 231.18h4.6v24.99h-4.6zM491.4 233.27h4.6v24.99h-4.6zM496.0 231.18h4.6v27.07h-4.6zM500.6 224.94h4.6v27.07h-4.6zM505.2 224.94h4.6v29.16h-4.6zM509.8 227.02h4.6v33.32h-4.6zM514.4 227.02h5.4v39.57h-5.4z"/><path fill="#ffef00" d="M59.0 112.48h4.6v6.25h-4.6zM63.6 108.31h4.6v6.25h-4.6zM68.2 110.40h4.6v4.16h-4.6zM72.8 112.48h4.6v10.41h-4.6zM77.4 81.24h4.6v2.08h-4.6zM77.4 108.31h4.6v18.74h-4.6zM82.0 106.23h4.6v24.99h-4.6zM86.6 116.65h4.6v27.07h-4.6zM91.2 87.49h4.6v2.08h-4.6zM91.2 110.40h4.6v31.24h-4.6zM95.8 116.65h4.6v10.41h-4.6zM100.4 110.40h4.6v14.58h-4.6zM105.0 108.31h4.6v6.25h-4.6zM109.6 68.75h4.6v2.08h-4.6zM109.6 106.23h4.6v18.74h-4.6zM114.2 95.82h4.6v6.25h-4.6zM118.8 89.57h4.6v18.74h-4.6zM123.4 89.57h4.6v18.74h-4.6zM128.0 83.33h4.6v12.49h-4.6zM132.6 124.97h4.6v2.08h-4.6zM137.2 127.06h4.6v2.08h-4.6zM141.8 127.06h4.6v4.16h-4.6zM146.4 77.08h4.6v2.08h-4.6zM146.4 120.81h4.6v2.08h-4.6zM151.0 120.81h4.6v8.33h-4.6zM155.6 120.81h4.6v12.50h-4.6zM160.2 120.81h4.6v10.41h-4.6zM164.8 70.83h5.4v2.08h-5.4zM164.8 114.56h5.4v6.25h-5.4zM174.0 79.16h4.6v6.25h-4.6zM174.0 131.22h4.6v31.24h-4.6zM178.6 75.00h4.6v8.33h-4.6zM178.6 145.80h4.6v33.32h-4.6zM183.2 252.01h4.6v6.25h-4.6zM187.8 254.09h4.6v6.25h-4.6zM192.4 239.51h4.6v6.25h-4.6zM197.0 220.77h4.6v6.25h-4.6zM201.6 237.43h4.6v8.33h-4.6zM206.2 247.84h4.6v12.49h-4.6zM210.8 247.84h4.6v10.41h-4.6zM215.4 245.76h4.6v6.25h-4.6zM220.0 241.59h4.6v8.33h-4.6zM224.6 229.10h4.6v6.25h-4.6zM229.2 224.94h4.6v2.08h-4.6zM233.8 247.84h4.6v10.41h-4.6zM238.4 241.59h4.6v2.08h-4.6zM243.0 216.60h4.6v6.25h-4.6zM247.6 202.03h4.6v10.41h-4.6zM252.2 214.52h4.6v8.33h-4.6zM256.8 227.02h4.6v8.33h-4.6zM261.4 239.51h4.6v12.50h-4.6zM266.0 231.18h4.6v16.66h-4.6zM270.6 202.03h4.6v16.66h-4.6zM275.2 177.04h4.6v18.74h-4.6zM279.8 154.13h4.6v20.82h-4.6zM284.4 199.94h4.6v12.50h-4.6zM289.0 231.18h4.6v10.41h-4.6zM293.6 231.18h4.6v12.50h-4.6zM298.2 243.68h4.6v10.41h-4.6zM302.8 235.35h4.6v10.41h-4.6zM307.4 237.43h4.6v12.50h-4.6zM312.0 247.84h4.6v10.41h-4.6zM316.6 249.93h4.6v12.50h-4.6zM321.2 249.93h4.6v6.25h-4.6zM325.8 249.93h4.6v10.41h-4.6zM330.4 245.76h4.6v8.33h-4.6zM335.0 245.76h4.6v16.66h-4.6zM339.6 237.43h4.6v22.91h-4.6zM344.2 239.51h4.6v14.58h-4.6zM348.8 243.68h4.6v10.41h-4.6zM353.4 243.68h4.6v10.41h-4.6zM358.0 247.84h4.6v10.41h-4.6zM362.6 247.84h4.6v6.25h-4.6zM367.2 241.59h4.6v10.41h-4.6zM371.8 235.35h4.6v18.74h-4.6zM376.4 233.27h4.6v10.41h-4.6zM381.0 233.27h4.6v4.16h-4.6zM385.6 233.27h4.6v2.08h-4.6zM390.2 233.27h4.6v12.49h-4.6zM394.8 233.27h4.6v4.16h-4.6zM399.4 233.27h4.6v14.58h-4.6zM404.0 233.27h4.6v12.49h-4.6zM408.6 233.27h4.6v16.66h-4.6zM413.2 229.10h4.6v10.41h-4.6zM417.8 229.10h4.6v16.66h-4.6zM422.4 227.02h4.6v10.41h-4.6zM427.0 222.85h4.6v6.25h-4.6zM431.6 222.85h4.6v12.50h-4.6zM436.2 222.85h4.6v8.33h-4.6zM440.8 227.02h4.6v20.82h-4.6zM445.4 224.94h4.6v14.58h-4.6zM450.0 224.94h4.6v12.50h-4.6zM454.6 233.27h4.6v20.82h-4.6zM459.2 231.18h4.6v10.41h-4.6zM463.8 231.18h4.6v16.66h-4.6zM468.4 222.85h4.6v8.33h-4.6zM473.0 216.60h4.6v6.25h-4.6zM473.0 224.94h4.6v4.16h-4.6zM477.6 218.69h4.6v16.66h-4.6zM482.2 220.77h4.6v20.82h-4.6zM486.8 220.77h4.6v10.41h-4.6zM491.4 220.77h4.6v12.50h-4.6zM496.0 218.69h4.6v12.50h-4.6zM500.6 216.60h4.6v8.33h-4.6zM505.2 216.60h4.6v8.33h-4.6zM509.8 218.69h4.6v8.33h-4.6zM514.4 220.77h5.4v6.25h-5.4z"/><path fill="#ffdf00" d="M59.0 110.40h4.6v2.08h-4.6zM63.6 106.23h4.6v2.08h-4.6zM68.2 106.23h4.6v4.17h-4.6zM72.8 81.24h4.6v2.08h-4.6zM72.8 108.31h4.6v4.17h-4.6zM77.4 106.23h4.6v2.08h-4.6zM82.0 104.15h4.6v2.08h-4.6zM86.6 81.24h4.6v2.08h-4.6zM86.6 112.48h4.6v4.17h-4.6zM91.2 79.16h4.6v2.08h-4.6zM91.2 108.31h4.6v2.08h-4.6zM95.8 112.48h4.6v4.17h-4.6zM100.4 108.31h4.6v2.08h-4.6zM105.0 106.23h4.6v2.08h-4.6zM109.6 104.15h4.6v2.08h-4.6zM114.2 85.41h4.6v2.08h-4.6zM114.2 93.74h4.6v2.08h-4.6zM123.4 87.49h4.6v2.08h-4.6zM128.0 81.24h4.6v2.08h-4.6zM132.6 114.56h4.6v10.41h-4.6zM137.2 114.56h4.6v12.50h-4.6zM141.8 118.73h4.6v8.33h-4.6zM146.4 108.31h4.6v12.50h-4.6zM151.0 106.23h4.6v14.58h-4.6zM155.6 106.23h4.6v14.58h-4.6zM160.2 108.31h4.6v12.50h-4.6zM164.8 102.07h5.4v12.50h-5.4zM174.0 85.41h4.6v6.25h-4.6zM174.0 116.65h4.6v14.58h-4.6zM178.6 83.33h4.6v6.25h-4.6zM178.6 120.81h4.6v24.99h-4.6zM183.2 249.93h4.6v2.08h-4.6zM187.8 252.01h4.6v2.08h-4.6zM192.4 237.43h4.6v2.08h-4.6zM197.0 216.60h4.6v4.17h-4.6zM201.6 233.27h4.6v4.16h-4.6zM206.2 245.76h4.6v2.08h-4.6zM210.8 245.76h4.6v2.08h-4.6zM215.4 243.68h4.6v2.08h-4.6zM220.0 239.51h4.6v2.08h-4.6zM224.6 227.02h4.6v2.08h-4.6zM229.2 220.77h4.6v4.16h-4.6zM233.8 245.76h4.6v2.08h-4.6zM238.4 239.51h4.6v2.08h-4.6zM243.0 214.52h4.6v2.08h-4.6zM247.6 199.94h4.6v2.08h-4.6zM252.2 212.44h4.6v2.08h-4.6zM256.8 224.94h4.6v2.08h-4.6zM261.4 237.43h4.6v2.08h-4.6zM266.0 229.10h4.6v2.08h-4.6zM270.6 199.94h4.6v2.08h-4.6zM275.2 174.95h4.6v2.08h-4.6zM279.8 152.05h4.6v2.08h-4.6zM284.4 197.86h4.6v2.08h-4.6zM289.0 229.10h4.6v2.08h-4.6zM293.6 229.10h4.6v2.08h-4.6zM298.2 241.59h4.6v2.08h-4.6zM302.8 233.27h4.6v2.08h-4.6zM307.4 235.35h4.6v2.08h-4.6zM312.0 245.76h4.6v2.08h-4.6zM316.6 247.84h4.6v2.08h-4.6zM321.2 245.76h4.6v4.17h-4.6zM325.8 245.76h4.6v4.17h-4.6zM330.4 243.68h4.6v2.08h-4.6zM335.0 243.68h4.6v2.08h-4.6zM339.6 235.35h4.6v2.08h-4.6zM344.2 237.43h4.6v2.08h-4.6zM348.8 239.51h4.6v4.17h-4.6zM353.4 241.59h4.6v2.08h-4.6zM358.0 245.76h4.6v2.08h-4.6zM362.6 245.76h4.6v2.08h-4.6zM367.2 239.51h4.6v2.08h-4.6zM371.8 233.27h4.6v2.08h-4.6zM376.4 231.18h4.6v2.08h-4.6zM381.0 229.10h4.6v4.17h-4.6zM385.6 231.18h4.6v2.08h-4.6zM390.2 229.10h4.6v4.17h-4.6zM394.8 231.18h4.6v2.08h-4.6zM399.4 231.18h4.6v2.08h-4.6zM404.0 231.18h4.6v2.08h-4.6zM408.6 229.10h4.6v4.17h-4.6zM413.2 227.02h4.6v2.08h-4.6zM417.8 227.02h4.6v2.08h-4.6zM422.4 224.94h4.6v2.08h-4.6zM427.0 220.77h4.6v2.08h-4.6zM431.6 220.77h4.6v2.08h-4.6zM436.2 220.77h4.6v2.08h-4.6zM440.8 224.94h4.6v2.08h-4.6zM445.4 222.85h4.6v2.08h-4.6zM450.0 222.85h4.6v2.08h-4.6zM454.6 224.94h4.6v8.33h-4.6zM459.2 227.02h4.6v4.16h-4.6zM463.8 227.02h4.6v4.16h-4.6zM468.4 220.77h4.6v2.08h-4.6zM473.0 214.52h4.6v2.08h-4.6zM477.6 216.60h4.6v2.08h-4.6zM482.2 218.69h4.6v2.08h-4.6zM486.8 218.69h4.6v2.08h-4.6zM491.4 218.69h4.6v2.08h-4.6zM496.0 216.60h4.6v2.08h-4.6zM500.6 214.52h4.6v2.08h-4.6zM505.2 214.52h4.6v2.08h-4.6zM509.8 216.60h4.6v2.08h-4.6zM514.4 218.69h5.4v2.08h-5.4z"/><path fill="#ffcf00" d="M59.0 106.23h4.6v4.17h-4.6zM63.6 104.15h4.6v2.08h-4.6zM68.2 83.33h4.6v2.08h-4.6zM68.2 104.15h4.6v2.08h-4.6zM72.8 106.23h4.6v2.08h-4.6zM77.4 104.15h4.6v2.08h-4.6zM82.0 102.07h4.6v2.08h-4.6zM86.6 110.40h4.6v2.08h-4.6zM91.2 106.23h4.6v2.08h-4.6zM95.8 87.49h4.6v2.08h-4.6zM95.8 110.40h4.6v2.08h-4.6zM100.4 106.23h4.6v2.08h-4.6zM105.0 102.07h4.6v4.17h-4.6zM109.6 91.66h4.6v2.08h-4.6zM109.6 102.07h4.6v2.08h-4.6zM118.8 87.49h4.6v2.08h-4.6zM123.4 85.41h4.6v2.08h-4.6zM132.6 70.83h4.6v2.08h-4.6zM132.6 102.07h4.6v12.50h-4.6zM137.2 102.07h4.6v12.50h-4.6zM141.8 106.23h4.6v12.49h-4.6zM146.4 95.82h4.6v12.50h-4.6zM151.0 95.82h4.6v10.41h-4.6zM155.6 95.82h4.6v10.41h-4.6zM160.2 95.82h4.6v12.50h-4.6zM164.8 91.66h5.4v10.41h-5.4zM174.0 91.66h4.6v6.25h-4.6zM174.0 102.07h4.6v14.58h-4.6zM178.6 89.57h4.6v6.25h-4.6zM178.6 108.31h4.6v12.50h-4.6zM183.2 247.84h4.6v2.08h-4.6zM187.8 247.84h4.6v4.16h-4.6zM192.4 235.35h4.6v2.08h-4.6zM197.0 214.52h4.6v2.08h-4.6zM201.6 231.18h4.6v2.08h-4.6zM206.2 243.68h4.6v2.08h-4.6zM210.8 243.68h4.6v2.08h-4.6zM215.4 241.59h4.6v2.08h-4.6zM220.0 237.43h4.6v2.08h-4.6zM224.6 224.94h4.6v2.08h-4.6zM229.2 218.69h4.6v2.08h-4.6zM233.8 243.68h4.6v2.08h-4.6zM238.4 235.35h4.6v4.16h-4.6zM243.0 210.36h4.6v4.17h-4.6zM247.6 197.86h4.6v2.08h-4.6zM252.2 210.36h4.6v2.08h-4.6zM256.8 222.85h4.6v2.08h-4.6zM261.4 233.27h4.6v4.16h-4.6zM266.0 227.02h4.6v2.08h-4.6zM270.6 197.86h4.6v2.08h-4.6zM275.2 172.87h4.6v2.08h-4.6zM279.8 149.97h4.6v2.08h-4.6zM284.4 195.78h4.6v2.08h-4.6zM289.0 227.02h4.6v2.08h-4.6zM293.6 227.02h4.6v2.08h-4.6zM298.2 239.51h4.6v2.08h-4.6zM302.8 231.18h4.6v2.08h-4.6zM307.4 233.27h4.6v2.08h-4.6zM312.0 243.68h4.6v2.08h-4.6zM316.6 245.76h4.6v2.08h-4.6zM321.2 243.68h4.6v2.08h-4.6zM325.8 243.68h4.6v2.08h-4.6zM330.4 241.59h4.6v2.08h-4.6zM335.0 239.51h4.6v4.17h-4.6zM339.6 233.27h4.6v2.08h-4.6zM344.2 235.35h4.6v2.08h-4.6zM348.8 237.43h4.6v2.08h-4.6zM353.4 239.51h4.6v2.08h-4.6zM358.0 243.68h4.6v2.08h-4.6zM362.6 243.68h4.6v2.08h-4.6zM367.2 237.43h4.6v2.08h-4.6zM371.8 229.10h4.6v4.17h-4.6zM376.4 227.02h4.6v4.16h-4.6zM381.0 227.02h4.6v2.08h-4.6zM385.6 227.02h4.6v4.16h-4.6zM390.2 227.02h4.6v2.08h-4.6zM394.8 227.02h4.6v4.16h-4.6zM399.4 229.10h4.6v2.08h-4.6zM404.0 227.02h4.6v4.16h-4.6zM408.6 227.02h4.6v2.08h-4.6zM413.2 224.94h4.6v2.08h-4.6zM417.8 224.94h4.6v2.08h-4.6zM422.4 222.85h4.6v2.08h-4.6zM427.0 218.69h4.6v2.08h-4.6zM431.6 218.69h4.6v2.08h-4.6zM436.2 218.69h4.6v2.08h-4.6zM440.8 222.85h4.6v2.08h-4.6zM445.4 220.77h4.6v2.08h-4.6zM450.0 220.77h4.6v2.08h-4.6zM454.6 222.85h4.6v2.08h-4.6zM459.2 224.94h4.6v2.08h-4.6zM463.8 224.94h4.6v2.08h-4.6zM468.4 218.69h4.6v2.08h-4.6zM473.0 212.44h4.6v2.08h-4.6zM477.6 212.44h4.6v4.16h-4.6zM482.2 216.60h4.6v2.08h-4.6zM486.8 216.60h4.6v2.08h-4.6zM491.4 216.60h4.6v2.08h-4.6zM496.0 214.52h4.6v2.08h-4.6zM500.6 212.44h4.6v2.08h-4.6zM505.2 212.44h4.6v2.08h-4.6zM509.8 214.52h4.6v2.08h-4.6zM514.4 216.60h5.4v2.08h-5.4z"/><path fill="#ffbf00" d="M59.0 104.15h4.6v2.08h-4.6zM63.6 102.07h4.6v2.08h-4.6zM68.2 102.07h4.6v2.08h-4.6zM72.8 104.15h4.6v2.08h-4.6zM77.4 102.07h4.6v2.08h-4.6zM82.0 99.98h4.6v2.08h-4.6zM86.6 79.16h4.6v2.08h-4.6zM86.6 106.23h4.6v4.17h-4.6zM91.2 102.07h4.6v4.17h-4.6zM95.8 91.66h4.6v2.08h-4.6zM95.8 108.31h4.6v2.08h-4.6zM100.4 104.15h4.6v2.08h-4.6zM109.6 99.98h4.6v2.08h-4.6zM114.2 91.66h4.6v2.08h-4.6zM118.8 85.41h4.6v2.08h-4.6zM132.6 72.91h4.6v2.08h-4.6zM132.6 91.66h4.6v10.41h-4.6zM137.2 91.66h4.6v10.41h-4.6zM141.8 91.66h4.6v14.58h-4.6zM146.4 87.49h4.6v8.33h-4.6zM151.0 85.41h4.6v10.41h-4.6zM155.6 85.41h4.6v10.41h-4.6zM160.2 85.41h4.6v10.41h-4.6zM164.8 81.24h5.4v10.41h-5.4zM174.0 97.90h4.6v4.16h-4.6zM178.6 95.82h4.6v12.50h-4.6zM183.2 245.76h4.6v2.08h-4.6zM187.8 245.76h4.6v2.08h-4.6zM192.4 233.27h4.6v2.08h-4.6zM197.0 212.44h4.6v2.08h-4.6zM201.6 229.10h4.6v2.08h-4.6zM206.2 241.59h4.6v2.08h-4.6zM210.8 239.51h4.6v4.17h-4.6zM215.4 237.43h4.6v4.16h-4.6zM220.0 235.35h4.6v2.08h-4.6zM224.6 222.85h4.6v2.08h-4.6zM229.2 216.60h4.6v2.08h-4.6zM233.8 239.51h4.6v4.17h-4.6zM238.4 233.27h4.6v2.08h-4.6zM243.0 208.28h4.6v2.08h-4.6zM247.6 195.78h4.6v2.08h-4.6zM252.2 208.28h4.6v2.08h-4.6zM256.8 218.69h4.6v4.16h-4.6zM261.4 231.18h4.6v2.08h-4.6zM266.0 224.94h4.6v2.08h-4.6zM270.6 195.78h4.6v2.08h-4.6zM275.2 168.71h4.6v4.17h-4.6zM279.8 147.88h4.6v2.08h-4.6zM284.4 193.70h4.6v2.08h-4.6zM289.0 224.94h4.6v2.08h-4.6zM293.6 222.85h4.6v4.17h-4.6zM298.2 235.35h4.6v4.16h-4.6zM302.8 229.10h4.6v2.08h-4.6zM307.4 231.18h4.6v2.08h-4.6zM312.0 239.51h4.6v4.17h-4.6zM316.6 243.68h4.6v2.08h-4.6zM321.2 241.59h4.6v2.08h-4.6zM325.8 241.59h4.6v2.08h-4.6zM330.4 239.51h4.6v2.08h-4.6zM335.0 237.43h4.6v2.08h-4.6zM339.6 231.18h4.6v2.08h-4.6zM344.2 231.18h4.6v4.16h-4.6zM348.8 235.35h4.6v2.08h-4.6zM353.4 237.43h4.6v2.08h-4.6zM358.0 241.59h4.6v2.08h-4.6zM362.6 239.51h4.6v4.17h-4.6zM367.2 233.27h4.6v4.16h-4.6zM371.8 227.02h4.6v2.08h-4.6zM376.4 224.94h4.6v2.08h-4.6zM381.0 224.94h4.6v2.08h-4.6zM385.6 224.94h4.6v2.08h-4.6zM390.2 224.94h4.6v2.08h-4.6zM394.8 224.94h4.6v2.08h-4.6zM399.4 227.02h4.6v2.08h-4.6zM404.0 224.94h4.6v2.08h-4.6zM408.6 224.94h4.6v2.08h-4.6zM413.2 222.85h4.6v2.08h-4.6zM417.8 222.85h4.6v2.08h-4.6zM422.4 218.69h4.6v4.16h-4.6zM427.0 214.52h4.6v4.16h-4.6zM431.6 216.60h4.6v2.08h-4.6zM436.2 216.60h4.6v2.08h-4.6zM440.8 220.77h4.6v2.08h-4.6zM445.4 218.69h4.6v2.08h-4.6zM450.0 218.69h4.6v2.08h-4.6zM454.6 220.77h4.6v2.08h-4.6zM459.2 222.85h4.6v2.08h-4.6zM463.8 222.85h4.6v2.08h-4.6zM468.4 216.60h4.6v2.08h-4.6zM473.0 210.36h4.6v2.08h-4.6zM477.6 210.36h4.6v2.08h-4.6zM482.2 214.52h4.6v2.08h-4.6zM486.8 212.44h4.6v4.16h-4.6zM491.4 212.44h4.6v4.16h-4.6zM496.0 210.36h4.6v4.17h-4.6zM500.6 210.36h4.6v2.08h-4.6zM505.2 210.36h4.6v2.08h-4.6zM509.8 212.44h4.6v2.08h-4.6zM514.4 212.44h5.4v4.16h-5.4z"/><path fill="#ffaf00" d="M59.0 102.07h4.6v2.08h-4.6zM63.6 99.98h4.6v2.08h-4.6zM68.2 99.98h4.6v2.08h-4.6zM72.8 102.07h4.6v2.08h-4.6zM77.4 99.98h4.6v2.08h-4.6zM82.0 97.90h4.6v2.08h-4.6zM95.8 106.23h4.6v2.08h-4.6zM100.4 93.74h4.6v2.08h-4.6zM100.4 102.07h4.6v2.08h-4.6zM105.0 93.74h4.6v2.08h-4.6zM105.0 99.98h4.6v2.08h-4.6zM109.6 97.90h4.6v2.08h-4.6zM123.4 83.33h4.6v2.08h-4.6zM128.0 79.16h4.6v2.08h-4.6zM132.6 85.41h4.6v6.25h-4.6zM137.2 87.49h4.6v4.16h-4.6zM141.8 87.49h4.6v4.16h-4.6zM146.4 79.16h4.6v8.33h-4.6zM151.0 79.16h4.6v6.25h-4.6zM155.6 79.16h4.6v6.25h-4.6zM160.2 75.00h4.6v2.08h-4.6zM160.2 79.16h4.6v6.25h-4.6zM164.8 75.00h5.4v6.25h-5.4zM183.2 241.59h4.6v4.16h-4.6zM187.8 241.59h4.6v4.16h-4.6zM192.4 229.10h4.6v4.17h-4.6zM197.0 208.28h4.6v4.16h-4.6zM201.6 224.94h4.6v4.16h-4.6zM206.2 237.43h4.6v4.16h-4.6zM210.8 237.43h4.6v2.08h-4.6zM215.4 235.35h4.6v2.08h-4.6zM220.0 231.18h4.6v4.16h-4.6zM224.6 216.60h4.6v6.25h-4.6zM229.2 212.44h4.6v4.16h-4.6zM233.8 235.35h4.6v4.16h-4.6zM238.4 229.10h4.6v4.17h-4.6zM243.0 206.19h4.6v2.08h-4.6zM247.6 191.62h4.6v4.16h-4.6zM252.2 204.11h4.6v4.16h-4.6zM256.8 216.60h4.6v2.08h-4.6zM261.4 229.10h4.6v2.08h-4.6zM266.0 220.77h4.6v4.16h-4.6zM270.6 191.62h4.6v4.16h-4.6zM275.2 162.46h4.6v6.25h-4.6zM279.8 141.63h4.6v6.25h-4.6zM284.4 187.45h4.6v6.25h-4.6zM289.0 218.69h4.6v6.25h-4.6zM293.6 218.69h4.6v4.16h-4.6zM298.2 231.18h4.6v4.16h-4.6zM302.8 224.94h4.6v4.16h-4.6zM307.4 227.02h4.6v4.16h-4.6zM312.0 235.35h4.6v4.16h-4.6zM316.6 239.51h4.6v4.17h-4.6zM321.2 237.43h4.6v4.16h-4.6zM325.8 237.43h4.6v4.16h-4.6zM330.4 235.35h4.6v4.16h-4.6zM335.0 233.27h4.6v4.16h-4.6zM339.6 227.02h4.6v4.16h-4.6zM344.2 227.02h4.6v4.16h-4.6zM348.8 231.18h4.6v4.16h-4.6zM353.4 231.18h4.6v6.25h-4.6zM358.0 237.43h4.6v4.16h-4.6zM362.6 235.35h4.6v4.16h-4.6zM367.2 229.10h4.6v4.17h-4.6zM371.8 222.85h4.6v4.17h-4.6zM376.4 220.77h4.6v4.16h-4.6zM381.0 220.77h4.6v4.16h-4.6zM385.6 218.69h4.6v6.25h-4.6zM390.2 220.77h4.6v4.16h-4.6zM394.8 220.77h4.6v4.16h-4.6zM399.4 222.85h4.6v4.17h-4.6zM404.0 220.77h4.6v4.16h-4.6zM408.6 220.77h4.6v4.16h-4.6zM413.2 216.60h4.6v6.25h-4.6zM417.8 218.69h4.6v4.16h-4.6zM422.4 214.52h4.6v4.16h-4.6zM427.0 210.36h4.6v4.17h-4.6zM431.6 210.36h4.6v6.25h-4.6zM436.2 212.44h4.6v4.16h-4.6zM440.8 216.60h4.6v4.17h-4.6zM445.4 214.52h4.6v4.16h-4.6zM450.0 214.52h4.6v4.16h-4.6zM454.6 218.69h4.6v2.08h-4.6zM459.2 218.69h4.6v4.16h-4.6zM463.8 218.69h4.6v4.16h-4.6zM468.4 210.36h4.6v6.25h-4.6zM473.0 206.19h4.6v4.16h-4.6zM477.6 206.19h4.6v4.16h-4.6zM482.2 210.36h4.6v4.17h-4.6zM486.8 208.28h4.6v4.16h-4.6zM491.4 210.36h4.6v2.08h-4.6zM496.0 208.28h4.6v2.08h-4.6zM500.6 206.19h4.6v4.16h-4.6zM505.2 204.11h4.6v6.25h-4.6zM509.8 206.19h4.6v6.25h-4.6zM514.4 208.28h5.4v4.16h-5.4z"/><path fill="#ff9f00" d="M59.0 77.08h4.6v2.08h-4.6zM63.6 83.33h4.6v2.08h-4.6zM68.2 85.41h4.6v2.08h-4.6zM72.8 83.33h4.6v2.08h-4.6zM77.4 83.33h4.6v2.08h-4.6zM82.0 83.33h4.6v2.08h-4.6zM86.6 85.41h4.6v2.08h-4.6zM86.6 104.15h4.6v2.08h-4.6zM91.2 89.57h4.6v2.08h-4.6zM91.2 99.98h4.6v2.08h-4.6zM132.6 81.24h4.6v4.16h-4.6zM137.2 83.33h4.6v4.17h-4.6zM141.8 81.24h4.6v6.25h-4.6zM151.0 77.08h4.6v2.08h-4.6zM155.6 77.08h4.6v2.08h-4.6zM160.2 77.08h4.6v2.08h-4.6zM164.8 72.91h5.4v2.08h-5.4zM183.2 237.43h4.6v4.16h-4.6zM187.8 237.43h4.6v4.16h-4.6zM192.4 227.02h4.6v2.08h-4.6zM197.0 204.11h4.6v4.16h-4.6zM201.6 218.69h4.6v6.25h-4.6zM206.2 233.27h4.6v4.16h-4.6zM210.8 231.18h4.6v6.25h-4.6zM215.4 231.18h4.6v4.16h-4.6zM220.0 227.02h4.6v4.16h-4.6zM224.6 212.44h4.6v4.16h-4.6zM229.2 206.19h4.6v6.25h-4.6zM233.8 231.18h4.6v4.16h-4.6zM238.4 224.94h4.6v4.16h-4.6zM243.0 204.11h4.6v2.08h-4.6zM247.6 187.45h4.6v4.17h-4.6zM252.2 199.94h4.6v4.17h-4.6zM256.8 212.44h4.6v4.16h-4.6zM261.4 222.85h4.6v6.25h-4.6zM266.0 216.60h4.6v4.17h-4.6zM270.6 187.45h4.6v4.17h-4.6zM275.2 156.21h4.6v6.25h-4.6zM279.8 133.31h4.6v8.33h-4.6zM284.4 183.28h4.6v4.16h-4.6zM289.0 214.52h4.6v4.16h-4.6zM293.6 214.52h4.6v4.16h-4.6zM298.2 227.02h4.6v4.16h-4.6zM302.8 218.69h4.6v6.25h-4.6zM307.4 222.85h4.6v4.17h-4.6zM312.0 231.18h4.6v4.16h-4.6zM316.6 233.27h4.6v6.25h-4.6zM321.2 233.27h4.6v4.16h-4.6zM325.8 233.27h4.6v4.16h-4.6zM330.4 231.18h4.6v4.16h-4.6zM335.0 229.10h4.6v4.17h-4.6zM339.6 222.85h4.6v4.17h-4.6zM344.2 222.85h4.6v4.17h-4.6zM348.8 227.02h4.6v4.16h-4.6zM353.4 227.02h4.6v4.16h-4.6zM358.0 231.18h4.6v6.25h-4.6zM362.6 231.18h4.6v4.16h-4.6zM367.2 227.02h4.6v2.08h-4.6zM371.8 218.69h4.6v4.16h-4.6zM376.4 216.60h4.6v4.17h-4.6zM381.0 214.52h4.6v6.25h-4.6zM385.6 214.52h4.6v4.16h-4.6zM390.2 214.52h4.6v6.25h-4.6zM394.8 214.52h4.6v6.25h-4.6zM399.4 218.69h4.6v4.16h-4.6zM404.0 216.60h4.6v4.17h-4.6zM408.6 216.60h4.6v4.17h-4.6zM413.2 212.44h4.6v4.16h-4.6zM417.8 214.52h4.6v4.16h-4.6zM422.4 210.36h4.6v4.17h-4.6zM427.0 206.19h4.6v4.16h-4.6zM431.6 208.28h4.6v2.08h-4.6zM436.2 208.28h4.6v4.16h-4.6zM440.8 212.44h4.6v4.16h-4.6zM445.4 210.36h4.6v4.17h-4.6zM450.0 210.36h4.6v4.17h-4.6zM454.6 214.52h4.6v4.16h-4.6zM459.2 214.52h4.6v4.16h-4.6zM463.8 214.52h4.6v4.16h-4.6zM468.4 206.19h4.6v4.16h-4.6zM473.0 202.03h4.6v4.16h-4.6zM477.6 202.03h4.6v4.16h-4.6zM482.2 204.11h4.6v6.25h-4.6zM486.8 204.11h4.6v4.16h-4.6zM491.4 206.19h4.6v4.16h-4.6zM496.0 202.03h4.6v6.25h-4.6zM500.6 202.03h4.6v4.16h-4.6zM505.2 199.94h4.6v4.17h-4.6zM509.8 202.03h4.6v4.16h-4.6zM514.4 204.11h5.4v4.16h-5.4z"/><path fill="#ff8f00" d="M59.0 79.16h4.6v2.08h-4.6zM63.6 85.41h4.6v2.08h-4.6zM68.2 87.49h4.6v2.08h-4.6zM72.8 85.41h4.6v2.08h-4.6zM77.4 85.41h4.6v2.08h-4.6zM77.4 97.90h4.6v2.08h-4.6zM82.0 85.41h4.6v2.08h-4.6zM86.6 87.49h4.6v2.08h-4.6zM95.8 93.74h4.6v2.08h-4.6zM100.4 95.82h4.6v2.08h-4.6zM100.4 99.98h4.6v2.08h-4.6zM105.0 95.82h4.6v2.08h-4.6zM109.6 93.74h4.6v2.08h-4.6zM114.2 89.57h4.6v2.08h-4.6zM183.2 231.18h4.6v6.25h-4.6zM187.8 233.27h4.6v4.16h-4.6zM192.4 222.85h4.6v4.17h-4.6zM197.0 199.94h4.6v4.17h-4.6zM201.6 214.52h4.6v4.16h-4.6zM206.2 229.10h4.6v4.17h-4.6zM210.8 227.02h4.6v4.16h-4.6zM215.4 227.02h4.6v4.16h-4.6zM220.0 222.85h4.6v4.17h-4.6zM224.6 206.19h4.6v6.25h-4.6zM229.2 202.03h4.6v4.16h-4.6zM233.8 227.02h4.6v4.16h-4.6zM238.4 220.77h4.6v4.16h-4.6zM243.0 202.03h4.6v2.08h-4.6zM247.6 183.28h4.6v4.16h-4.6zM252.2 197.86h4.6v2.08h-4.6zM256.8 208.28h4.6v4.16h-4.6zM261.4 220.77h4.6v2.08h-4.6zM266.0 212.44h4.6v4.16h-4.6zM270.6 183.28h4.6v4.16h-4.6zM275.2 152.05h4.6v4.16h-4.6zM279.8 127.06h4.6v6.25h-4.6zM284.4 177.04h4.6v6.25h-4.6zM289.0 208.28h4.6v6.25h-4.6zM293.6 212.44h4.6v2.08h-4.6zM298.2 220.77h4.6v6.25h-4.6zM302.8 216.60h4.6v2.08h-4.6zM307.4 218.69h4.6v4.16h-4.6zM312.0 229.10h4.6v2.08h-4.6zM316.6 229.10h4.6v4.17h-4.6zM321.2 229.10h4.6v4.17h-4.6zM325.8 229.10h4.6v4.17h-4.6zM330.4 227.02h4.6v4.16h-4.6zM335.0 224.94h4.6v4.16h-4.6zM339.6 218.69h4.6v4.16h-4.6zM344.2 218.69h4.6v4.16h-4.6zM348.8 220.77h4.6v6.25h-4.6zM353.4 222.85h4.6v4.17h-4.6zM358.0 227.02h4.6v4.16h-4.6zM362.6 227.02h4.6v4.16h-4.6zM367.2 222.85h4.6v4.17h-4.6zM371.8 212.44h4.6v6.25h-4.6zM376.4 210.36h4.6v6.25h-4.6zM381.0 210.36h4.6v4.17h-4.6zM385.6 210.36h4.6v4.17h-4.6zM390.2 210.36h4.6v4.17h-4.6zM394.8 210.36h4.6v4.17h-4.6zM399.4 214.52h4.6v4.16h-4.6zM404.0 210.36h4.6v6.25h-4.6zM408.6 212.44h4.6v4.16h-4.6zM413.2 208.28h4.6v4.16h-4.6zM417.8 208.28h4.6v6.25h-4.6zM422.4 206.19h4.6v4.16h-4.6zM427.0 204.11h4.6v2.08h-4.6zM431.6 204.11h4.6v4.16h-4.6zM436.2 204.11h4.6v4.16h-4.6zM440.8 208.28h4.6v4.16h-4.6zM445.4 206.19h4.6v4.16h-4.6zM450.0 206.19h4.6v4.16h-4.6zM454.6 210.36h4.6v4.17h-4.6zM459.2 210.36h4.6v4.17h-4.6zM463.8 212.44h4.6v2.08h-4.6zM468.4 202.03h4.6v4.16h-4.6zM473.0 197.86h4.6v4.16h-4.6zM477.6 197.86h4.6v4.16h-4.6zM482.2 199.94h4.6v4.17h-4.6zM486.8 199.94h4.6v4.17h-4.6zM491.4 199.94h4.6v6.25h-4.6zM496.0 199.94h4.6v2.08h-4.6zM500.6 197.86h4.6v4.16h-4.6zM505.2 195.78h4.6v4.16h-4.6zM509.8 197.86h4.6v4.16h-4.6zM514.4 199.94h5.4v4.17h-5.4z"/><path fill="#ff8000" d="M59.0 81.24h4.6v4.16h-4.6zM59.0 99.98h4.6v2.08h-4.6zM63.6 87.49h4.6v2.08h-4.6zM63.6 97.90h4.6v2.08h-4.6zM68.2 89.57h4.6v2.08h-4.6zM68.2 97.90h4.6v2.08h-4.6zM72.8 87.49h4.6v4.16h-4.6zM72.8 99.98h4.6v2.08h-4.6zM77.4 87.49h4.6v2.08h-4.6zM82.0 87.49h4.6v2.08h-4.6zM82.0 95.82h4.6v2.08h-4.6zM86.6 89.57h4.6v4.16h-4.6zM86.6 102.07h4.6v2.08h-4.6zM91.2 91.66h4.6v2.08h-4.6zM95.8 95.82h4.6v2.08h-4.6zM95.8 104.15h4.6v2.08h-4.6zM118.8 83.33h4.6v2.08h-4.6zM183.2 227.02h4.6v4.16h-4.6zM187.8 227.02h4.6v6.25h-4.6zM192.4 218.69h4.6v4.16h-4.6zM197.0 195.78h4.6v4.16h-4.6zM201.6 210.36h4.6v4.17h-4.6zM206.2 222.85h4.6v6.25h-4.6zM210.8 224.94h4.6v2.08h-4.6zM215.4 222.85h4.6v4.17h-4.6zM220.0 218.69h4.6v4.16h-4.6zM224.6 202.03h4.6v4.16h-4.6zM229.2 197.86h4.6v4.16h-4.6zM233.8 222.85h4.6v4.17h-4.6zM238.4 216.60h4.6v4.17h-4.6zM243.0 197.86h4.6v4.16h-4.6zM247.6 181.20h4.6v2.08h-4.6zM252.2 193.70h4.6v4.17h-4.6zM256.8 204.11h4.6v4.16h-4.6zM261.4 214.52h4.6v6.25h-4.6zM266.0 208.28h4.6v4.16h-4.6zM270.6 179.12h4.6v4.16h-4.6zM275.2 143.72h4.6v8.33h-4.6zM279.8 118.73h4.6v8.33h-4.6zM284.4 172.87h4.6v4.16h-4.6zM289.0 204.11h4.6v4.16h-4.6zM293.6 208.28h4.6v4.16h-4.6zM298.2 216.60h4.6v4.17h-4.6zM302.8 212.44h4.6v4.16h-4.6zM307.4 216.60h4.6v2.08h-4.6zM312.0 222.85h4.6v6.25h-4.6zM316.6 224.94h4.6v4.16h-4.6zM321.2 224.94h4.6v4.16h-4.6zM325.8 227.02h4.6v2.08h-4.6zM330.4 222.85h4.6v4.17h-4.6zM335.0 220.77h4.6v4.16h-4.6zM339.6 214.52h4.6v4.16h-4.6zM344.2 214.52h4.6v4.16h-4.6zM348.8 216.60h4.6v4.17h-4.6zM353.4 218.69h4.6v4.16h-4.6zM358.0 220.77h4.6v6.25h-4.6zM362.6 222.85h4.6v4.17h-4.6zM367.2 218.69h4.6v4.16h-4.6zM371.8 208.28h4.6v4.16h-4.6zM376.4 206.19h4.6v4.16h-4.6zM381.0 206.19h4.6v4.16h-4.6zM385.6 206.19h4.6v4.16h-4.6zM390.2 206.19h4.6v4.16h-4.6zM394.8 206.19h4.6v4.16h-4.6zM399.4 210.36h4.6v4.17h-4.6zM404.0 206.19h4.6v4.16h-4.6zM408.6 206.19h4.6v6.25h-4.6zM413.2 204.11h4.6v4.16h-4.6zM417.8 206.19h4.6v2.08h-4.6zM422.4 202.03h4.6v4.16h-4.6zM427.0 197.86h4.6v6.25h-4.6zM431.6 199.94h4.6v4.17h-4.6zM436.2 199.94h4.6v4.17h-4.6zM440.8 204.11h4.6v4.16h-4.6zM445.4 202.03h4.6v4.16h-4.6zM450.0 202.03h4.6v4.16h-4.6zM454.6 204.11h4.6v6.25h-4.6zM459.2 206.19h4.6v4.16h-4.6zM463.8 208.28h4.6v4.16h-4.6zM468.4 197.86h4.6v4.16h-4.6zM473.0 193.70h4.6v4.17h-4.6zM477.6 193.70h4.6v4.17h-4.6zM482.2 197.86h4.6v2.08h-4.6zM486.8 195.78h4.6v4.16h-4.6zM491.4 197.86h4.6v2.08h-4.6zM496.0 195.78h4.6v4.16h-4.6zM500.6 193.70h4.6v4.17h-4.6zM505.2 191.62h4.6v4.16h-4.6zM509.8 193.70h4.6v4.17h-4.6zM514.4 195.78h5.4v4.16h-5.4z"/><path fill="#ff7000" d="M59.0 85.41h4.6v4.17h-4.6zM59.0 95.82h4.6v4.17h-4.6zM63.6 89.57h4.6v2.08h-4.6zM63.6 95.82h4.6v2.08h-4.6zM68.2 91.66h4.6v2.08h-4.6zM68.2 95.82h4.6v2.08h-4.6zM72.8 91.66h4.6v2.08h-4.6zM72.8 95.82h4.6v4.17h-4.6zM77.4 89.57h4.6v2.08h-4.6zM77.4 93.74h4.6v4.17h-4.6zM82.0 89.57h4.6v2.08h-4.6zM82.0 93.74h4.6v2.08h-4.6zM86.6 93.74h4.6v2.08h-4.6zM86.6 97.90h4.6v4.16h-4.6zM91.2 93.74h4.6v2.08h-4.6zM91.2 97.90h4.6v2.08h-4.6zM95.8 97.90h4.6v2.08h-4.6zM95.8 102.07h4.6v2.08h-4.6zM100.4 97.90h4.6v2.08h-4.6zM114.2 87.49h4.6v2.08h-4.6zM123.4 81.24h4.6v2.08h-4.6zM128.0 77.08h4.6v2.08h-4.6zM183.2 222.85h4.6v4.17h-4.6zM187.8 222.85h4.6v4.17h-4.6zM192.4 216.60h4.6v2.08h-4.6zM197.0 193.70h4.6v2.08h-4.6zM201.6 206.19h4.6v4.16h-4.6zM206.2 218.69h4.6v4.16h-4.6zM210.8 218.69h4.6v6.25h-4.6zM215.4 218.69h4.6v4.16h-4.6zM220.0 216.60h4.6v2.08h-4.6zM224.6 195.78h4.6v6.25h-4.6zM229.2 193.70h4.6v4.17h-4.6zM233.8 216.60h4.6v6.25h-4.6zM238.4 212.44h4.6v4.16h-4.6zM243.0 195.78h4.6v2.08h-4.6zM247.6 177.04h4.6v4.16h-4.6zM252.2 189.53h4.6v4.16h-4.6zM256.8 199.94h4.6v4.17h-4.6zM261.4 212.44h4.6v2.08h-4.6zM266.0 202.03h4.6v6.25h-4.6zM270.6 174.95h4.6v4.17h-4.6zM275.2 137.47h4.6v6.25h-4.6zM279.8 112.48h4.6v6.25h-4.6zM284.4 166.62h4.6v6.25h-4.6zM289.0 199.94h4.6v4.17h-4.6zM293.6 202.03h4.6v6.25h-4.6zM298.2 212.44h4.6v4.16h-4.6zM302.8 208.28h4.6v4.16h-4.6zM307.4 212.44h4.6v4.16h-4.6zM312.0 218.69h4.6v4.16h-4.6zM316.6 220.77h4.6v4.16h-4.6zM321.2 220.77h4.6v4.16h-4.6zM325.8 222.85h4.6v4.17h-4.6zM330.4 218.69h4.6v4.16h-4.6zM335.0 218.69h4.6v2.08h-4.6zM339.6 210.36h4.6v4.17h-4.6zM344.2 210.36h4.6v4.17h-4.6zM348.8 212.44h4.6v4.16h-4.6zM353.4 212.44h4.6v6.25h-4.6zM358.0 216.60h4.6v4.17h-4.6zM362.6 218.69h4.6v4.16h-4.6zM367.2 214.52h4.6v4.16h-4.6zM371.8 204.11h4.6v4.16h-4.6zM376.4 202.03h4.6v4.16h-4.6zM381.0 202.03h4.6v4.16h-4.6zM385.6 202.03h4.6v4.16h-4.6zM390.2 202.03h4.6v4.16h-4.6zM394.8 199.94h4.6v6.25h-4.6zM399.4 206.19h4.6v4.16h-4.6zM404.0 202.03h4.6v4.16h-4.6zM408.6 202.03h4.6v4.16h-4.6zM413.2 197.86h4.6v6.25h-4.6zM417.8 202.03h4.6v4.16h-4.6zM422.4 195.78h4.6v6.25h-4.6zM427.0 193.70h4.6v4.17h-4.6zM431.6 195.78h4.6v4.16h-4.6zM436.2 195.78h4.6v4.16h-4.6zM440.8 199.94h4.6v4.17h-4.6zM445.4 197.86h4.6v4.16h-4.6zM450.0 197.86h4.6v4.16h-4.6zM454.6 202.03h4.6v2.08h-4.6zM459.2 202.03h4.6v4.16h-4.6zM463.8 204.11h4.6v4.16h-4.6zM468.4 193.70h4.6v4.17h-4.6zM473.0 189.53h4.6v4.16h-4.6zM477.6 189.53h4.6v4.16h-4.6zM482.2 191.62h4.6v6.25h-4.6zM486.8 191.62h4.6v4.16h-4.6zM491.4 191.62h4.6v6.25h-4.6zM496.0 191.62h4.6v4.16h-4.6zM500.6 189.53h4.6v4.16h-4.6zM505.2 185.37h4.6v6.25h-4.6zM509.8 187.45h4.6v6.25h-4.6zM514.4 191.62h5.4v4.16h-5.4z"/><path fill="#ff6000" d="M59.0 89.57h4.6v6.25h-4.6zM63.6 91.66h4.6v4.16h-4.6zM68.2 93.74h4.6v2.08h-4.6zM72.8 93.74h4.6v2.08h-4.6zM77.4 91.66h4.6v2.08h-4.6zM82.0 91.66h4.6v2.08h-4.6zM86.6 95.82h4.6v2.08h-4.6zM91.2 95.82h4.6v2.08h-4.6zM95.8 89.57h4.6v2.08h-4.6zM95.8 99.98h4.6v2.08h-4.6zM105.0 97.90h4.6v2.08h-4.6zM109.6 95.82h4.6v2.08h-4.6zM183.2 218.69h4.6v4.16h-4.6zM187.8 218.69h4.6v4.16h-4.6zM192.4 212.44h4.6v4.16h-4.6zM197.0 189.53h4.6v4.16h-4.6zM201.6 199.94h4.6v6.25h-4.6zM206.2 214.52h4.6v4.16h-4.6zM210.8 214.52h4.6v4.16h-4.6zM215.4 214.52h4.6v4.16h-4.6zM220.0 212.44h4.6v4.16h-4.6zM224.6 191.62h4.6v4.16h-4.6zM229.2 189.53h4.6v4.16h-4.6zM233.8 212.44h4.6v4.16h-4.6zM238.4 210.36h4.6v2.08h-4.6zM243.0 193.70h4.6v2.08h-4.6zM247.6 172.87h4.6v4.16h-4.6zM252.2 187.45h4.6v2.08h-4.6zM256.8 195.78h4.6v4.16h-4.6zM261.4 208.28h4.6v4.16h-4.6zM266.0 197.86h4.6v4.16h-4.6zM270.6 170.79h4.6v4.16h-4.6zM275.2 131.22h4.6v6.25h-4.6zM279.8 108.31h4.6v4.17h-4.6zM284.4 162.46h4.6v4.16h-4.6zM289.0 193.70h4.6v6.25h-4.6zM293.6 199.94h4.6v2.08h-4.6zM298.2 208.28h4.6v4.16h-4.6zM302.8 204.11h4.6v4.16h-4.6zM307.4 208.28h4.6v4.16h-4.6zM312.0 216.60h4.6v2.08h-4.6zM316.6 216.60h4.6v4.17h-4.6zM321.2 216.60h4.6v4.17h-4.6zM325.8 216.60h4.6v6.25h-4.6zM330.4 214.52h4.6v4.16h-4.6zM335.0 214.52h4.6v4.16h-4.6zM339.6 206.19h4.6v4.16h-4.6zM344.2 204.11h4.6v6.25h-4.6zM348.8 208.28h4.6v4.16h-4.6zM353.4 208.28h4.6v4.16h-4.6zM358.0 212.44h4.6v4.16h-4.6zM362.6 214.52h4.6v4.16h-4.6zM367.2 210.36h4.6v4.17h-4.6zM371.8 199.94h4.6v4.17h-4.6zM376.4 197.86h4.6v4.16h-4.6zM381.0 199.94h4.6v2.08h-4.6zM385.6 197.86h4.6v4.16h-4.6zM390.2 197.86h4.6v4.16h-4.6zM394.8 195.78h4.6v4.16h-4.6zM399.4 199.94h4.6v6.25h-4.6zM404.0 197.86h4.6v4.16h-4.6zM408.6 197.86h4.6v4.16h-4.6zM413.2 193.70h4.6v4.17h-4.6zM417.8 195.78h4.6v6.25h-4.6zM422.4 191.62h4.6v4.16h-4.6zM427.0 191.62h4.6v2.08h-4.6zM431.6 191.62h4.6v4.16h-4.6zM436.2 191.62h4.6v4.16h-4.6zM440.8 195.78h4.6v4.16h-4.6zM445.4 193.70h4.6v4.17h-4.6zM450.0 193.70h4.6v4.17h-4.6zM454.6 197.86h4.6v4.16h-4.6zM459.2 197.86h4.6v4.16h-4.6zM463.8 199.94h4.6v4.17h-4.6zM468.4 189.53h4.6v4.16h-4.6zM473.0 185.37h4.6v4.16h-4.6zM477.6 185.37h4.6v4.16h-4.6zM482.2 187.45h4.6v4.17h-4.6zM486.8 187.45h4.6v4.17h-4.6zM491.4 187.45h4.6v4.17h-4.6zM496.0 187.45h4.6v4.17h-4.6zM500.6 185.37h4.6v4.16h-4.6zM505.2 181.20h4.6v4.17h-4.6zM509.8 183.28h4.6v4.16h-4.6zM514.4 183.28h5.4v8.33h-5.4z"/><path fill="#ff5000" d="M183.2 214.52h4.6v4.16h-4.6zM187.8 214.52h4.6v4.16h-4.6zM192.4 210.36h4.6v2.08h-4.6zM197.0 185.37h4.6v4.16h-4.6zM201.6 195.78h4.6v4.16h-4.6zM206.2 210.36h4.6v4.17h-4.6zM210.8 210.36h4.6v4.17h-4.6zM215.4 208.28h4.6v6.25h-4.6zM220.0 208.28h4.6v4.16h-4.6zM224.6 185.37h4.6v6.25h-4.6zM229.2 183.28h4.6v6.25h-4.6zM233.8 208.28h4.6v4.16h-4.6zM238.4 202.03h4.6v8.33h-4.6zM243.0 191.62h4.6v2.08h-4.6zM247.6 168.71h4.6v4.17h-4.6zM252.2 183.28h4.6v4.16h-4.6zM256.8 193.70h4.6v2.08h-4.6zM261.4 204.11h4.6v4.16h-4.6zM266.0 193.70h4.6v4.17h-4.6zM270.6 166.62h4.6v4.17h-4.6zM275.2 124.97h4.6v6.25h-4.6zM279.8 99.98h4.6v8.33h-4.6zM284.4 158.30h4.6v4.16h-4.6zM289.0 189.53h4.6v4.16h-4.6zM293.6 193.70h4.6v6.25h-4.6zM298.2 202.03h4.6v6.25h-4.6zM302.8 197.86h4.6v6.25h-4.6zM307.4 204.11h4.6v4.16h-4.6zM312.0 212.44h4.6v4.16h-4.6zM316.6 212.44h4.6v4.16h-4.6zM321.2 212.44h4.6v4.16h-4.6zM325.8 214.52h4.6v2.08h-4.6zM330.4 210.36h4.6v4.17h-4.6zM335.0 210.36h4.6v4.17h-4.6zM339.6 199.94h4.6v6.25h-4.6zM344.2 199.94h4.6v4.17h-4.6zM348.8 204.11h4.6v4.16h-4.6zM353.4 202.03h4.6v6.25h-4.6zM358.0 206.19h4.6v6.25h-4.6zM362.6 210.36h4.6v4.17h-4.6zM367.2 206.19h4.6v4.16h-4.6zM371.8 193.70h4.6v6.25h-4.6zM376.4 193.70h4.6v4.17h-4.6zM381.0 193.70h4.6v6.25h-4.6zM385.6 193.70h4.6v4.17h-4.6zM390.2 193.70h4.6v4.17h-4.6zM394.8 191.62h4.6v4.16h-4.6zM399.4 197.86h4.6v2.08h-4.6zM404.0 193.70h4.6v4.17h-4.6zM408.6 193.70h4.6v4.17h-4.6zM413.2 189.53h4.6v4.16h-4.6zM417.8 191.62h4.6v4.16h-4.6zM422.4 187.45h4.6v4.17h-4.6zM427.0 187.45h4.6v4.17h-4.6zM431.6 187.45h4.6v4.17h-4.6zM436.2 187.45h4.6v4.17h-4.6zM440.8 191.62h4.6v4.16h-4.6zM445.4 189.53h4.6v4.16h-4.6zM450.0 189.53h4.6v4.16h-4.6zM454.6 193.70h4.6v4.17h-4.6zM459.2 193.70h4.6v4.17h-4.6zM463.8 195.78h4.6v4.16h-4.6zM468.4 185.37h4.6v4.16h-4.6zM473.0 181.20h4.6v4.17h-4.6zM477.6 181.20h4.6v4.17h-4.6zM482.2 183.28h4.6v4.16h-4.6zM486.8 181.20h4.6v6.25h-4.6zM491.4 183.28h4.6v4.16h-4.6zM496.0 183.28h4.6v4.16h-4.6zM500.6 181.20h4.6v4.17h-4.6zM505.2 174.95h4.6v6.25h-4.6zM509.8 179.12h4.6v4.16h-4.6zM514.4 181.20h5.4v2.08h-5.4z"/><path fill="#ff4000" d="M183.2 208.28h4.6v6.25h-4.6zM187.8 208.28h4.6v6.25h-4.6zM192.4 62.50h4.6v2.08h-4.6zM192.4 199.94h4.6v10.41h-4.6zM197.0 62.50h4.6v6.25h-4.6zM197.0 179.12h4.6v6.25h-4.6zM201.6 62.50h4.6v2.08h-4.6zM201.6 189.53h4.6v6.25h-4.6zM206.2 204.11h4.6v6.25h-4.6zM210.8 204.11h4.6v6.25h-4.6zM215.4 204.11h4.6v4.16h-4.6zM220.0 199.94h4.6v8.33h-4.6zM224.6 179.12h4.6v6.25h-4.6zM229.2 179.12h4.6v4.16h-4.6zM233.8 199.94h4.6v8.33h-4.6zM238.4 195.78h4.6v6.25h-4.6zM243.0 183.28h4.6v8.33h-4.6zM247.6 162.46h4.6v6.25h-4.6zM252.2 177.04h4.6v6.25h-4.6zM256.8 187.45h4.6v6.25h-4.6zM261.4 197.86h4.6v6.25h-4.6zM266.0 185.37h4.6v8.33h-4.6zM270.6 162.46h4.6v4.16h-4.6zM275.2 116.65h4.6v8.33h-4.6zM279.8 91.66h4.6v8.33h-4.6zM284.4 152.05h4.6v6.25h-4.6zM289.0 183.28h4.6v6.25h-4.6zM293.6 189.53h4.6v4.16h-4.6zM298.2 195.78h4.6v6.25h-4.6zM302.8 191.62h4.6v6.25h-4.6zM307.4 197.86h4.6v6.25h-4.6zM312.0 206.19h4.6v6.25h-4.6zM316.6 206.19h4.6v6.25h-4.6zM321.2 206.19h4.6v6.25h-4.6zM325.8 208.28h4.6v6.25h-4.6zM330.4 204.11h4.6v6.25h-4.6zM335.0 202.03h4.6v8.33h-4.6zM339.6 195.78h4.6v4.16h-4.6zM344.2 193.70h4.6v6.25h-4.6zM348.8 197.86h4.6v6.25h-4.6zM353.4 195.78h4.6v6.25h-4.6zM358.0 199.94h4.6v6.25h-4.6zM362.6 204.11h4.6v6.25h-4.6zM367.2 199.94h4.6v6.25h-4.6zM371.8 187.45h4.6v6.25h-4.6zM376.4 187.45h4.6v6.25h-4.6zM381.0 187.45h4.6v6.25h-4.6zM385.6 187.45h4.6v6.25h-4.6zM390.2 187.45h4.6v6.25h-4.6zM394.8 185.37h4.6v6.25h-4.6zM399.4 189.53h4.6v8.33h-4.6zM404.0 187.45h4.6v6.25h-4.6zM408.6 187.45h4.6v6.25h-4.6zM413.2 183.28h4.6v6.25h-4.6zM417.8 187.45h4.6v4.17h-4.6zM422.4 181.20h4.6v6.25h-4.6zM427.0 179.12h4.6v8.33h-4.6zM431.6 181.20h4.6v6.25h-4.6zM436.2 181.20h4.6v6.25h-4.6zM440.8 187.45h4.6v4.17h-4.6zM445.4 185.37h4.6v4.16h-4.6zM450.0 185.37h4.6v4.16h-4.6zM454.6 189.53h4.6v4.16h-4.6zM459.2 189.53h4.6v4.16h-4.6zM463.8 189.53h4.6v6.25h-4.6zM468.4 179.12h4.6v6.25h-4.6zM473.0 177.04h4.6v4.16h-4.6zM477.6 177.04h4.6v4.16h-4.6zM482.2 177.04h4.6v6.25h-4.6zM486.8 174.95h4.6v6.25h-4.6zM491.4 177.04h4.6v6.25h-4.6zM496.0 177.04h4.6v6.25h-4.6zM500.6 174.95h4.6v6.25h-4.6zM505.2 170.79h4.6v4.16h-4.6zM509.8 172.87h4.6v6.25h-4.6zM514.4 174.95h5.4v6.25h-5.4z"/><path fill="#ff3000" d="M183.2 62.50h4.6v4.17h-4.6zM183.2 199.94h4.6v8.33h-4.6zM187.8 62.50h4.6v6.25h-4.6zM187.8 199.94h4.6v8.33h-4.6zM192.4 64.58h4.6v6.25h-4.6zM192.4 193.70h4.6v6.25h-4.6zM197.0 68.75h4.6v8.33h-4.6zM197.0 174.95h4.6v4.17h-4.6zM201.6 64.58h4.6v8.33h-4.6zM201.6 183.28h4.6v6.25h-4.6zM206.2 62.50h4.6v6.25h-4.6zM206.2 195.78h4.6v8.33h-4.6zM210.8 62.50h4.6v6.25h-4.6zM210.8 197.86h4.6v6.25h-4.6zM215.4 62.50h4.6v4.17h-4.6zM215.4 195.78h4.6v8.33h-4.6zM220.0 193.70h4.6v6.25h-4.6zM224.6 174.95h4.6v4.17h-4.6zM229.2 172.87h4.6v6.25h-4.6zM233.8 193.70h4.6v6.25h-4.6zM238.4 189.53h4.6v6.25h-4.6zM243.0 174.95h4.6v8.33h-4.6zM247.6 156.21h4.6v6.25h-4.6zM252.2 170.79h4.6v6.25h-4.6zM256.8 181.20h4.6v6.25h-4.6zM261.4 189.53h4.6v8.33h-4.6zM266.0 177.04h4.6v8.33h-4.6zM270.6 158.30h4.6v4.16h-4.6zM275.2 112.48h4.6v4.17h-4.6zM279.8 83.33h4.6v8.33h-4.6zM284.4 147.88h4.6v4.17h-4.6zM289.0 179.12h4.6v4.16h-4.6zM293.6 181.20h4.6v8.33h-4.6zM298.2 191.62h4.6v4.16h-4.6zM302.8 185.37h4.6v6.25h-4.6zM307.4 191.62h4.6v6.25h-4.6zM312.0 199.94h4.6v6.25h-4.6zM316.6 202.03h4.6v4.16h-4.6zM321.2 202.03h4.6v4.16h-4.6zM325.8 202.03h4.6v6.25h-4.6zM330.4 197.86h4.6v6.25h-4.6zM335.0 197.86h4.6v4.16h-4.6zM339.6 189.53h4.6v6.25h-4.6zM344.2 189.53h4.6v4.16h-4.6zM348.8 191.62h4.6v6.25h-4.6zM353.4 189.53h4.6v6.25h-4.6zM358.0 193.70h4.6v6.25h-4.6zM362.6 195.78h4.6v8.33h-4.6zM367.2 193.70h4.6v6.25h-4.6zM371.8 181.20h4.6v6.25h-4.6zM376.4 181.20h4.6v6.25h-4.6zM381.0 179.12h4.6v8.33h-4.6zM385.6 181.20h4.6v6.25h-4.6zM390.2 181.20h4.6v6.25h-4.6zM394.8 179.12h4.6v6.25h-4.6zM399.4 183.28h4.6v6.25h-4.6zM404.0 181.20h4.6v6.25h-4.6zM408.6 181.20h4.6v6.25h-4.6zM413.2 177.04h4.6v6.25h-4.6zM417.8 181.20h4.6v6.25h-4.6zM422.4 174.95h4.6v6.25h-4.6zM427.0 174.95h4.6v4.17h-4.6zM431.6 177.04h4.6v4.16h-4.6zM436.2 177.04h4.6v4.16h-4.6zM440.8 181.20h4.6v6.25h-4.6zM445.4 179.12h4.6v6.25h-4.6zM450.0 179.12h4.6v6.25h-4.6zM454.6 183.28h4.6v6.25h-4.6zM459.2 183.28h4.6v6.25h-4.6zM463.8 185.37h4.6v4.16h-4.6zM468.4 174.95h4.6v4.17h-4.6zM473.0 170.79h4.6v6.25h-4.6zM477.6 170.79h4.6v6.25h-4.6zM482.2 172.87h4.6v4.16h-4.6zM486.8 170.79h4.6v4.16h-4.6zM491.4 170.79h4.6v6.25h-4.6zM496.0 172.87h4.6v4.16h-4.6zM500.6 170.79h4.6v4.16h-4.6zM505.2 162.46h4.6v8.33h-4.6zM509.8 166.62h4.6v6.25h-4.6zM514.4 170.79h5.4v4.16h-5.4z"/><path fill="#ff2000" d="M183.2 66.67h4.6v6.25h-4.6zM183.2 193.70h4.6v6.25h-4.6zM187.8 68.75h4.6v2.08h-4.6zM187.8 193.70h4.6v6.25h-4.6zM192.4 70.83h4.6v2.08h-4.6zM192.4 183.28h4.6v10.41h-4.6zM197.0 168.71h4.6v6.25h-4.6zM201.6 72.91h4.6v2.08h-4.6zM201.6 179.12h4.6v4.16h-4.6zM206.2 68.75h4.6v6.25h-4.6zM206.2 189.53h4.6v6.25h-4.6zM210.8 68.75h4.6v8.33h-4.6zM210.8 191.62h4.6v6.25h-4.6zM215.4 66.67h4.6v8.33h-4.6zM215.4 189.53h4.6v6.25h-4.6zM220.0 62.50h4.6v6.25h-4.6zM220.0 185.37h4.6v8.33h-4.6zM224.6 62.50h4.6v6.25h-4.6zM224.6 168.71h4.6v6.25h-4.6zM229.2 62.50h4.6v8.33h-4.6zM229.2 166.62h4.6v6.25h-4.6zM233.8 185.37h4.6v8.33h-4.6zM238.4 181.20h4.6v8.33h-4.6zM243.0 166.62h4.6v8.33h-4.6zM247.6 149.97h4.6v6.25h-4.6zM252.2 166.62h4.6v4.17h-4.6zM256.8 177.04h4.6v4.16h-4.6zM261.4 183.28h4.6v6.25h-4.6zM266.0 164.54h4.6v12.49h-4.6zM270.6 154.13h4.6v4.17h-4.6zM275.2 104.15h4.6v8.33h-4.6zM279.8 72.91h4.6v10.41h-4.6zM284.4 143.72h4.6v4.16h-4.6zM289.0 174.95h4.6v4.17h-4.6zM293.6 174.95h4.6v6.25h-4.6zM298.2 185.37h4.6v6.25h-4.6zM302.8 179.12h4.6v6.25h-4.6zM307.4 185.37h4.6v6.25h-4.6zM312.0 193.70h4.6v6.25h-4.6zM316.6 195.78h4.6v6.25h-4.6zM321.2 195.78h4.6v6.25h-4.6zM325.8 195.78h4.6v6.25h-4.6zM330.4 189.53h4.6v8.33h-4.6zM335.0 191.62h4.6v6.25h-4.6zM339.6 183.28h4.6v6.25h-4.6zM344.2 183.28h4.6v6.25h-4.6zM348.8 187.45h4.6v4.17h-4.6zM353.4 183.28h4.6v6.25h-4.6zM358.0 185.37h4.6v8.33h-4.6zM362.6 189.53h4.6v6.25h-4.6zM367.2 187.45h4.6v6.25h-4.6zM371.8 174.95h4.6v6.25h-4.6zM376.4 172.87h4.6v8.33h-4.6zM381.0 172.87h4.6v6.25h-4.6zM385.6 174.95h4.6v6.25h-4.6zM390.2 174.95h4.6v6.25h-4.6zM394.8 172.87h4.6v6.25h-4.6zM399.4 177.04h4.6v6.25h-4.6zM404.0 174.95h4.6v6.25h-4.6zM408.6 174.95h4.6v6.25h-4.6zM413.2 170.79h4.6v6.25h-4.6zM417.8 174.95h4.6v6.25h-4.6zM422.4 170.79h4.6v4.16h-4.6zM427.0 168.71h4.6v6.25h-4.6zM431.6 170.79h4.6v6.25h-4.6zM436.2 168.71h4.6v8.33h-4.6zM440.8 174.95h4.6v6.25h-4.6zM445.4 174.95h4.6v4.17h-4.6zM450.0 172.87h4.6v6.25h-4.6zM454.6 179.12h4.6v4.16h-4.6zM459.2 179.12h4.6v4.16h-4.6zM463.8 179.12h4.6v6.25h-4.6zM468.4 168.71h4.6v6.25h-4.6zM473.0 164.54h4.6v6.25h-4.6zM477.6 164.54h4.6v6.25h-4.6zM482.2 166.62h4.6v6.25h-4.6zM486.8 164.54h4.6v6.25h-4.6zM491.4 164.54h4.6v6.25h-4.6zM496.0 164.54h4.6v8.33h-4.6zM500.6 164.54h4.6v6.25h-4.6zM505.2 156.21h4.6v6.25h-4.6zM509.8 160.38h4.6v6.25h-4.6zM514.4 164.54h5.4v6.25h-5.4z"/><path fill="#ff1000" d="M183.2 72.91h4.6v2.08h-4.6zM183.2 187.45h4.6v6.25h-4.6zM187.8 70.83h4.6v2.08h-4.6zM187.8 187.45h4.6v6.25h-4.6zM192.4 177.04h4.6v6.25h-4.6zM197.0 77.08h4.6v2.08h-4.6zM197.0 162.46h4.6v6.25h-4.6zM201.6 75.00h4.6v2.08h-4.6zM201.6 172.87h4.6v6.25h-4.6zM206.2 183.28h4.6v6.25h-4.6zM210.8 185.37h4.6v6.25h-4.6zM215.4 75.00h4.6v2.08h-4.6zM215.4 183.28h4.6v6.25h-4.6zM220.0 68.75h4.6v8.33h-4.6zM220.0 177.04h4.6v8.33h-4.6zM224.6 68.75h4.6v10.41h-4.6zM224.6 162.46h4.6v6.25h-4.6zM229.2 70.83h4.6v14.58h-4.6zM229.2 162.46h4.6v4.16h-4.6zM233.8 62.50h4.6v8.33h-4.6zM233.8 177.04h4.6v8.33h-4.6zM238.4 62.50h4.6v6.25h-4.6zM238.4 174.95h4.6v6.25h-4.6zM243.0 160.38h4.6v6.25h-4.6zM247.6 143.72h4.6v6.25h-4.6zM252.2 160.38h4.6v6.25h-4.6zM256.8 170.79h4.6v6.25h-4.6zM261.4 177.04h4.6v6.25h-4.6zM266.0 156.21h4.6v8.33h-4.6zM270.6 152.05h4.6v2.08h-4.6zM275.2 97.90h4.6v6.25h-4.6zM279.8 66.67h4.6v6.25h-4.6zM284.4 139.55h4.6v4.16h-4.6zM289.0 170.79h4.6v4.16h-4.6zM293.6 170.79h4.6v4.16h-4.6zM298.2 179.12h4.6v6.25h-4.6zM302.8 172.87h4.6v6.25h-4.6zM307.4 179.12h4.6v6.25h-4.6zM312.0 187.45h4.6v6.25h-4.6zM316.6 189.53h4.6v6.25h-4.6zM321.2 187.45h4.6v8.33h-4.6zM325.8 189.53h4.6v6.25h-4.6zM330.4 183.28h4.6v6.25h-4.6zM335.0 185.37h4.6v6.25h-4.6zM339.6 179.12h4.6v4.16h-4.6zM344.2 177.04h4.6v6.25h-4.6zM348.8 181.20h4.6v6.25h-4.6zM353.4 177.04h4.6v6.25h-4.6zM358.0 179.12h4.6v6.25h-4.6zM362.6 185.37h4.6v4.16h-4.6zM367.2 181.20h4.6v6.25h-4.6zM371.8 166.62h4.6v8.33h-4.6zM376.4 168.71h4.6v4.17h-4.6zM381.0 166.62h4.6v6.25h-4.6zM385.6 168.71h4.6v6.25h-4.6zM390.2 168.71h4.6v6.25h-4.6zM394.8 166.62h4.6v6.25h-4.6zM399.4 172.87h4.6v4.16h-4.6zM404.0 168.71h4.6v6.25h-4.6zM408.6 170.79h4.6v4.16h-4.6zM413.2 164.54h4.6v6.25h-4.6zM417.8 168.71h4.6v6.25h-4.6zM422.4 164.54h4.6v6.25h-4.6zM427.0 162.46h4.6v6.25h-4.6zM431.6 164.54h4.6v6.25h-4.6zM436.2 162.46h4.6v6.25h-4.6zM440.8 166.62h4.6v8.33h-4.6zM445.4 168.71h4.6v6.25h-4.6zM450.0 166.62h4.6v6.25h-4.6zM454.6 172.87h4.6v6.25h-4.6zM459.2 172.87h4.6v6.25h-4.6zM463.8 172.87h4.6v6.25h-4.6zM468.4 162.46h4.6v6.25h-4.6zM473.0 158.30h4.6v6.25h-4.6zM477.6 158.30h4.6v6.25h-4.6zM482.2 162.46h4.6v4.16h-4.6zM486.8 160.38h4.6v4.17h-4.6zM491.4 160.38h4.6v4.17h-4.6zM496.0 160.38h4.6v4.17h-4.6zM500.6 160.38h4.6v4.17h-4.6zM505.2 149.97h4.6v6.25h-4.6zM509.8 156.21h4.6v4.16h-4.6zM514.4 160.38h5.4v4.17h-5.4z"/><path fill="#ff0000" d="M183.2 179.12h4.6v8.33h-4.6zM187.8 179.12h4.6v8.33h-4.6zM192.4 72.91h4.6v2.08h-4.6zM192.4 166.62h4.6v10.41h-4.6zM197.0 158.30h4.6v4.16h-4.6zM201.6 166.62h4.6v6.25h-4.6zM206.2 75.00h4.6v2.08h-4.6zM206.2 177.04h4.6v6.25h-4.6zM210.8 77.08h4.6v2.08h-4.6zM210.8 177.04h4.6v8.33h-4.6zM215.4 77.08h4.6v2.08h-4.6zM215.4 174.95h4.6v8.33h-4.6zM220.0 77.08h4.6v2.08h-4.6zM220.0 170.79h4.6v6.25h-4.6zM224.6 79.16h4.6v2.08h-4.6zM224.6 156.21h4.6v6.25h-4.6zM229.2 85.41h4.6v2.08h-4.6zM229.2 156.21h4.6v6.25h-4.6zM233.8 70.83h4.6v14.58h-4.6zM233.8 170.79h4.6v6.25h-4.6zM238.4 68.75h4.6v12.50h-4.6zM238.4 166.62h4.6v8.33h-4.6zM243.0 62.50h4.6v6.25h-4.6zM243.0 154.13h4.6v6.25h-4.6zM247.6 137.47h4.6v6.25h-4.6zM252.2 154.13h4.6v6.25h-4.6zM256.8 166.62h4.6v4.17h-4.6zM261.4 170.79h4.6v6.25h-4.6zM266.0 147.88h4.6v8.33h-4.6zM270.6 147.88h4.6v4.17h-4.6zM275.2 81.24h4.6v16.66h-4.6zM279.8 62.50h4.6v4.17h-4.6zM284.4 135.39h4.6v4.17h-4.6zM289.0 166.62h4.6v4.17h-4.6zM293.6 162.46h4.6v8.33h-4.6zM298.2 172.87h4.6v6.25h-4.6zM302.8 164.54h4.6v8.33h-4.6zM307.4 170.79h4.6v8.33h-4.6zM312.0 181.20h4.6v6.25h-4.6zM316.6 183.28h4.6v6.25h-4.6zM321.2 183.28h4.6v4.16h-4.6zM325.8 183.28h4.6v6.25h-4.6zM330.4 177.04h4.6v6.25h-4.6zM335.0 179.12h4.6v6.25h-4.6zM339.6 172.87h4.6v6.25h-4.6zM344.2 170.79h4.6v6.25h-4.6zM348.8 174.95h4.6v6.25h-4.6zM353.4 170.79h4.6v6.25h-4.6zM358.0 172.87h4.6v6.25h-4.6zM362.6 179.12h4.6v6.25h-4.6zM367.2 174.95h4.6v6.25h-4.6zM371.8 160.38h4.6v6.25h-4.6zM376.4 160.38h4.6v8.33h-4.6zM381.0 158.30h4.6v8.33h-4.6zM385.6 162.46h4.6v6.25h-4.6zM390.2 162.46h4.6v6.25h-4.6zM394.8 160.38h4.6v6.25h-4.6zM399.4 164.54h4.6v8.33h-4.6zM404.0 160.38h4.6v8.33h-4.6zM408.6 162.46h4.6v8.33h-4.6zM413.2 158.30h4.6v6.25h-4.6zM417.8 162.46h4.6v6.25h-4.6zM422.4 156.21h4.6v8.33h-4.6zM427.0 154.13h4.6v8.33h-4.6zM431.6 156.21h4.6v8.33h-4.6zM436.2 156.21h4.6v6.25h-4.6zM440.8 162.46h4.6v4.16h-4.6zM445.4 162.46h4.6v6.25h-4.6zM450.0 160.38h4.6v6.25h-4.6zM454.6 168.71h4.6v4.17h-4.6zM459.2 166.62h4.6v6.25h-4.6zM463.8 166.62h4.6v6.25h-4.6zM468.4 156.21h4.6v6.25h-4.6zM473.0 152.05h4.6v6.25h-4.6zM477.6 154.13h4.6v4.17h-4.6zM482.2 156.21h4.6v6.25h-4.6zM486.8 154.13h4.6v6.25h-4.6zM491.4 154.13h4.6v6.25h-4.6zM496.0 154.13h4.6v6.25h-4.6zM500.6 156.21h4.6v4.16h-4.6zM505.2 143.72h4.6v6.25h-4.6zM509.8 149.97h4.6v6.25h-4.6zM514.4 154.13h5.4v6.25h-5.4z"/><path fill="#ef0000" d="M183.2 75.00h4.6v2.08h-4.6zM183.2 170.79h4.6v8.33h-4.6zM187.8 72.91h4.6v2.08h-4.6zM187.8 172.87h4.6v6.25h-4.6zM192.4 158.30h4.6v8.33h-4.6zM197.0 152.05h4.6v6.25h-4.6zM201.6 160.38h4.6v6.25h-4.6zM206.2 168.71h4.6v8.33h-4.6zM210.8 172.87h4.6v4.16h-4.6zM215.4 170.79h4.6v4.16h-4.6zM220.0 162.46h4.6v8.33h-4.6zM224.6 81.24h4.6v2.08h-4.6zM224.6 152.05h4.6v4.16h-4.6zM229.2 87.49h4.6v2.08h-4.6zM229.2 149.97h4.6v6.25h-4.6zM233.8 85.41h4.6v2.08h-4.6zM233.8 162.46h4.6v8.33h-4.6zM238.4 81.24h4.6v4.16h-4.6zM238.4 160.38h4.6v6.25h-4.6zM243.0 68.75h4.6v12.50h-4.6zM243.0 145.80h4.6v8.33h-4.6zM247.6 131.22h4.6v6.25h-4.6zM252.2 147.88h4.6v6.25h-4.6zM256.8 160.38h4.6v6.25h-4.6zM261.4 162.46h4.6v8.33h-4.6zM266.0 137.47h4.6v10.41h-4.6zM270.6 143.72h4.6v4.16h-4.6zM275.2 62.50h4.6v18.74h-4.6zM284.4 131.22h4.6v4.16h-4.6zM289.0 162.46h4.6v4.16h-4.6zM293.6 156.21h4.6v6.25h-4.6zM298.2 168.71h4.6v4.17h-4.6zM302.8 158.30h4.6v6.25h-4.6zM307.4 162.46h4.6v8.33h-4.6zM312.0 174.95h4.6v6.25h-4.6zM316.6 177.04h4.6v6.25h-4.6zM321.2 177.04h4.6v6.25h-4.6zM325.8 177.04h4.6v6.25h-4.6zM330.4 170.79h4.6v6.25h-4.6zM335.0 172.87h4.6v6.25h-4.6zM339.6 166.62h4.6v6.25h-4.6zM344.2 166.62h4.6v4.17h-4.6zM348.8 170.79h4.6v4.16h-4.6zM353.4 162.46h4.6v8.33h-4.6zM358.0 166.62h4.6v6.25h-4.6zM362.6 172.87h4.6v6.25h-4.6zM367.2 170.79h4.6v4.16h-4.6zM371.8 152.05h4.6v8.33h-4.6zM376.4 156.21h4.6v4.16h-4.6zM381.0 152.05h4.6v6.25h-4.6zM385.6 156.21h4.6v6.25h-4.6zM390.2 156.21h4.6v6.25h-4.6zM394.8 154.13h4.6v6.25h-4.6zM399.4 158.30h4.6v6.25h-4.6zM404.0 154.13h4.6v6.25h-4.6zM408.6 156.21h4.6v6.25h-4.6zM413.2 152.05h4.6v6.25h-4.6zM417.8 156.21h4.6v6.25h-4.6zM422.4 149.97h4.6v6.25h-4.6zM427.0 147.88h4.6v6.25h-4.6zM431.6 149.97h4.6v6.25h-4.6zM436.2 149.97h4.6v6.25h-4.6zM440.8 156.21h4.6v6.25h-4.6zM445.4 158.30h4.6v4.16h-4.6zM450.0 156.21h4.6v4.16h-4.6zM454.6 162.46h4.6v6.25h-4.6zM459.2 160.38h4.6v6.25h-4.6zM463.8 160.38h4.6v6.25h-4.6zM468.4 152.05h4.6v4.16h-4.6zM473.0 145.80h4.6v6.25h-4.6zM477.6 147.88h4.6v6.25h-4.6zM482.2 152.05h4.6v4.16h-4.6zM486.8 147.88h4.6v6.25h-4.6zM491.4 147.88h4.6v6.25h-4.6zM496.0 147.88h4.6v6.25h-4.6zM500.6 149.97h4.6v6.25h-4.6zM505.2 139.55h4.6v4.16h-4.6zM509.8 143.72h4.6v6.25h-4.6zM514.4 147.88h5.4v6.25h-5.4z"/><path fill="#df0000" d="M183.2 77.08h4.6v2.08h-4.6zM183.2 164.54h4.6v6.25h-4.6zM187.8 75.00h4.6v2.08h-4.6zM187.8 164.54h4.6v8.33h-4.6zM192.4 75.00h4.6v2.08h-4.6zM192.4 152.05h4.6v6.25h-4.6zM197.0 79.16h4.6v2.08h-4.6zM197.0 145.80h4.6v6.25h-4.6zM201.6 77.08h4.6v2.08h-4.6zM201.6 154.13h4.6v6.25h-4.6zM206.2 77.08h4.6v2.08h-4.6zM206.2 162.46h4.6v6.25h-4.6zM210.8 79.16h4.6v2.08h-4.6zM210.8 166.62h4.6v6.25h-4.6zM215.4 79.16h4.6v2.08h-4.6zM215.4 162.46h4.6v8.33h-4.6zM220.0 79.16h4.6v2.08h-4.6zM220.0 154.13h4.6v8.33h-4.6zM224.6 83.33h4.6v2.08h-4.6zM224.6 145.80h4.6v6.25h-4.6zM229.2 89.57h4.6v4.16h-4.6zM229.2 143.72h4.6v6.25h-4.6zM233.8 87.49h4.6v2.08h-4.6zM233.8 156.21h4.6v6.25h-4.6zM238.4 85.41h4.6v4.17h-4.6zM238.4 154.13h4.6v6.25h-4.6zM243.0 81.24h4.6v4.16h-4.6zM243.0 137.47h4.6v8.33h-4.6zM247.6 122.89h4.6v8.33h-4.6zM252.2 141.63h4.6v6.25h-4.6zM256.8 154.13h4.6v6.25h-4.6zM261.4 156.21h4.6v6.25h-4.6zM266.0 129.14h4.6v8.33h-4.6zM270.6 139.55h4.6v4.16h-4.6zM284.4 127.06h4.6v4.16h-4.6zM289.0 158.30h4.6v4.16h-4.6zM293.6 149.97h4.6v6.25h-4.6zM298.2 160.38h4.6v8.33h-4.6zM302.8 152.05h4.6v6.25h-4.6zM307.4 158.30h4.6v4.16h-4.6zM312.0 168.71h4.6v6.25h-4.6zM316.6 168.71h4.6v8.33h-4.6zM321.2 164.54h4.6v12.49h-4.6zM325.8 170.79h4.6v6.25h-4.6zM330.4 62.50h4.6v2.08h-4.6zM330.4 158.30h4.6v12.50h-4.6zM335.0 166.62h4.6v6.25h-4.6zM339.6 160.38h4.6v6.25h-4.6zM344.2 160.38h4.6v6.25h-4.6zM348.8 164.54h4.6v6.25h-4.6zM353.4 156.21h4.6v6.25h-4.6zM358.0 158.30h4.6v8.33h-4.6zM362.6 152.05h4.6v20.82h-4.6zM367.2 154.13h4.6v16.66h-4.6zM371.8 145.80h4.6v6.25h-4.6zM376.4 147.88h4.6v8.33h-4.6zM381.0 139.55h4.6v12.50h-4.6zM385.6 139.55h4.6v16.66h-4.6zM390.2 147.88h4.6v8.33h-4.6zM394.8 141.63h4.6v12.50h-4.6zM399.4 152.05h4.6v6.25h-4.6zM404.0 149.97h4.6v4.16h-4.6zM408.6 149.97h4.6v6.25h-4.6zM413.2 143.72h4.6v8.33h-4.6zM417.8 149.97h4.6v6.25h-4.6zM422.4 141.63h4.6v8.33h-4.6zM427.0 141.63h4.6v6.25h-4.6zM431.6 143.72h4.6v6.25h-4.6zM436.2 143.72h4.6v6.25h-4.6zM440.8 149.97h4.6v6.25h-4.6zM445.4 152.05h4.6v6.25h-4.6zM450.0 147.88h4.6v8.33h-4.6zM454.6 158.30h4.6v4.16h-4.6zM459.2 147.88h4.6v12.50h-4.6zM463.8 149.97h4.6v10.41h-4.6zM468.4 145.80h4.6v6.25h-4.6zM473.0 139.55h4.6v6.25h-4.6zM477.6 141.63h4.6v6.25h-4.6zM482.2 143.72h4.6v8.33h-4.6zM486.8 137.47h4.6v10.41h-4.6zM491.4 139.55h4.6v8.33h-4.6zM496.0 141.63h4.6v6.25h-4.6zM500.6 141.63h4.6v8.33h-4.6zM505.2 129.14h4.6v10.41h-4.6zM509.8 139.55h4.6v4.16h-4.6zM514.4 139.55h5.4v8.33h-5.4z"/><path fill="#cf0000" d="M183.2 79.16h4.6v4.17h-4.6zM183.2 156.21h4.6v8.33h-4.6zM187.8 77.08h4.6v4.17h-4.6zM187.8 158.30h4.6v6.25h-4.6zM192.4 77.08h4.6v4.17h-4.6zM192.4 137.47h4.6v14.58h-4.6zM197.0 81.24h4.6v4.16h-4.6zM197.0 137.47h4.6v8.33h-4.6zM201.6 79.16h4.6v4.17h-4.6zM201.6 145.80h4.6v8.33h-4.6zM206.2 79.16h4.6v2.08h-4.6zM206.2 154.13h4.6v8.33h-4.6zM210.8 81.24h4.6v4.16h-4.6zM210.8 158.30h4.6v8.33h-4.6zM215.4 81.24h4.6v6.25h-4.6zM215.4 154.13h4.6v8.33h-4.6zM220.0 81.24h4.6v6.25h-4.6zM220.0 145.80h4.6v8.33h-4.6zM224.6 85.41h4.6v4.17h-4.6zM224.6 137.47h4.6v8.33h-4.6zM229.2 93.74h4.6v6.25h-4.6zM229.2 122.89h4.6v20.83h-4.6zM233.8 89.57h4.6v6.25h-4.6zM233.8 147.88h4.6v8.33h-4.6zM238.4 89.57h4.6v6.25h-4.6zM238.4 133.31h4.6v2.08h-4.6zM238.4 143.72h4.6v10.41h-4.6zM243.0 85.41h4.6v8.33h-4.6zM243.0 129.14h4.6v8.33h-4.6zM247.6 62.50h4.6v4.17h-4.6zM247.6 110.40h4.6v12.49h-4.6zM252.2 62.50h4.6v4.17h-4.6zM252.2 118.73h4.6v22.91h-4.6zM256.8 62.50h4.6v2.08h-4.6zM256.8 118.73h4.6v35.40h-4.6zM261.4 135.39h4.6v20.83h-4.6zM266.0 116.65h4.6v12.49h-4.6zM270.6 127.06h4.6v12.50h-4.6zM284.4 116.65h4.6v10.41h-4.6zM289.0 116.65h4.6v41.65h-4.6zM293.6 129.14h4.6v20.83h-4.6zM298.2 129.14h4.6v31.24h-4.6zM302.8 127.06h4.6v24.99h-4.6zM307.4 62.50h4.6v2.08h-4.6zM307.4 131.22h4.6v27.07h-4.6zM312.0 62.50h4.6v6.25h-4.6zM312.0 129.14h4.6v39.57h-4.6zM316.6 62.50h4.6v6.25h-4.6zM316.6 131.22h4.6v4.16h-4.6zM316.6 139.55h4.6v29.15h-4.6zM321.2 62.50h4.6v14.58h-4.6zM321.2 108.31h4.6v56.23h-4.6zM325.8 62.50h4.6v2.08h-4.6zM325.8 70.83h4.6v2.08h-4.6zM325.8 131.22h4.6v39.57h-4.6zM330.4 64.58h4.6v12.50h-4.6zM330.4 108.31h4.6v2.08h-4.6zM330.4 112.48h4.6v45.82h-4.6zM335.0 62.50h4.6v8.33h-4.6zM335.0 137.47h4.6v29.16h-4.6zM339.6 62.50h4.6v8.33h-4.6zM339.6 135.39h4.6v24.99h-4.6zM344.2 62.50h4.6v12.50h-4.6zM344.2 118.73h4.6v41.65h-4.6zM348.8 62.50h4.6v12.50h-4.6zM348.8 118.73h4.6v45.82h-4.6zM353.4 62.50h4.6v8.33h-4.6zM353.4 120.81h4.6v35.40h-4.6zM358.0 62.50h4.6v8.33h-4.6zM358.0 131.22h4.6v27.07h-4.6zM362.6 62.50h4.6v14.58h-4.6zM362.6 99.98h4.6v12.50h-4.6zM362.6 114.56h4.6v37.49h-4.6zM367.2 62.50h4.6v14.58h-4.6zM367.2 116.65h4.6v37.48h-4.6zM371.8 62.50h4.6v4.17h-4.6zM371.8 127.06h4.6v18.74h-4.6zM376.4 62.50h4.6v10.41h-4.6zM376.4 124.97h4.6v22.91h-4.6zM381.0 62.50h4.6v14.58h-4.6zM381.0 114.56h4.6v24.99h-4.6zM385.6 62.50h4.6v16.66h-4.6zM385.6 106.23h4.6v33.32h-4.6zM390.2 62.50h4.6v6.25h-4.6zM390.2 118.73h4.6v29.16h-4.6zM394.8 62.50h4.6v12.50h-4.6zM394.8 110.40h4.6v31.24h-4.6zM399.4 122.89h4.6v29.16h-4.6zM404.0 124.97h4.6v24.99h-4.6zM408.6 131.22h4.6v18.74h-4.6zM413.2 116.65h4.6v27.07h-4.6zM417.8 131.22h4.6v18.74h-4.6zM422.4 114.56h4.6v27.07h-4.6zM427.0 114.56h4.6v27.07h-4.6zM431.6 122.89h4.6v20.83h-4.6zM436.2 118.73h4.6v24.99h-4.6zM440.8 133.31h4.6v2.08h-4.6zM440.8 139.55h4.6v10.41h-4.6zM445.4 120.81h4.6v31.24h-4.6zM450.0 118.73h4.6v29.16h-4.6zM454.6 137.47h4.6v20.83h-4.6zM459.2 118.73h4.6v29.16h-4.6zM463.8 122.89h4.6v27.07h-4.6zM468.4 120.81h4.6v24.99h-4.6zM473.0 114.56h4.6v24.99h-4.6zM477.6 122.89h4.6v18.74h-4.6zM482.2 124.97h4.6v18.74h-4.6zM486.8 118.73h4.6v18.74h-4.6zM491.4 120.81h4.6v18.74h-4.6zM496.0 120.81h4.6v20.82h-4.6zM500.6 116.65h4.6v24.99h-4.6zM505.2 116.65h4.6v12.49h-4.6zM509.8 120.81h4.6v18.74h-4.6zM514.4 120.81h5.4v18.74h-5.4z"/><path fill="#bf0000" d="M183.2 83.33h4.6v10.41h-4.6zM183.2 97.90h4.6v58.31h-4.6zM187.8 81.24h4.6v6.25h-4.6zM187.8 91.66h4.6v66.64h-4.6zM192.4 81.24h4.6v6.25h-4.6zM192.4 89.57h4.6v47.90h-4.6zM197.0 85.41h4.6v52.06h-4.6zM201.6 83.33h4.6v6.25h-4.6zM201.6 93.74h4.6v6.25h-4.6zM201.6 102.07h4.6v43.73h-4.6zM206.2 81.24h4.6v8.33h-4.6zM206.2 112.48h4.6v6.25h-4.6zM206.2 122.89h4.6v31.24h-4.6zM210.8 85.41h4.6v6.25h-4.6zM210.8 93.74h4.6v6.25h-4.6zM210.8 104.15h4.6v54.15h-4.6zM215.4 87.49h4.6v66.64h-4.6zM220.0 87.49h4.6v14.58h-4.6zM220.0 106.23h4.6v39.57h-4.6zM224.6 89.57h4.6v47.90h-4.6zM229.2 99.98h4.6v22.91h-4.6zM233.8 95.82h4.6v6.25h-4.6zM233.8 106.23h4.6v41.65h-4.6zM238.4 95.82h4.6v37.49h-4.6zM238.4 135.39h4.6v8.33h-4.6zM243.0 93.74h4.6v35.40h-4.6zM247.6 66.67h4.6v43.73h-4.6zM252.2 66.67h4.6v52.06h-4.6zM256.8 64.58h4.6v54.14h-4.6zM261.4 62.50h4.6v16.66h-4.6zM261.4 83.33h4.6v52.06h-4.6zM266.0 62.50h4.6v54.15h-4.6zM270.6 62.50h4.6v20.83h-4.6zM270.6 85.41h4.6v4.17h-4.6zM270.6 93.74h4.6v33.32h-4.6zM284.4 62.50h4.6v16.66h-4.6zM284.4 87.49h4.6v29.16h-4.6zM289.0 62.50h4.6v54.15h-4.6zM293.6 62.50h4.6v66.64h-4.6zM298.2 62.50h4.6v66.64h-4.6zM302.8 62.50h4.6v64.56h-4.6zM307.4 64.58h4.6v66.64h-4.6zM312.0 68.75h4.6v60.39h-4.6zM316.6 68.75h4.6v62.47h-4.6zM316.6 135.39h4.6v4.17h-4.6zM321.2 77.08h4.6v31.24h-4.6zM325.8 72.91h4.6v58.31h-4.6zM330.4 77.08h4.6v31.24h-4.6zM330.4 110.40h4.6v2.08h-4.6zM335.0 70.83h4.6v12.50h-4.6zM335.0 85.41h4.6v52.06h-4.6zM339.6 70.83h4.6v64.56h-4.6zM344.2 75.00h4.6v43.73h-4.6zM348.8 75.00h4.6v43.73h-4.6zM353.4 70.83h4.6v49.98h-4.6zM358.0 70.83h4.6v60.39h-4.6zM362.6 77.08h4.6v22.91h-4.6zM362.6 112.48h4.6v2.08h-4.6zM367.2 77.08h4.6v39.57h-4.6zM371.8 66.67h4.6v16.66h-4.6zM371.8 85.41h4.6v41.65h-4.6zM376.4 72.91h4.6v52.06h-4.6zM381.0 77.08h4.6v37.48h-4.6zM385.6 79.16h4.6v27.07h-4.6zM390.2 68.75h4.6v49.98h-4.6zM394.8 75.00h4.6v35.40h-4.6zM399.4 62.50h4.6v60.39h-4.6zM404.0 62.50h4.6v62.47h-4.6zM408.6 62.50h4.6v4.17h-4.6zM408.6 87.49h4.6v6.25h-4.6zM408.6 97.90h4.6v33.32h-4.6zM413.2 62.50h4.6v54.15h-4.6zM417.8 93.74h4.6v37.48h-4.6zM422.4 91.66h4.6v22.91h-4.6zM427.0 95.82h4.6v18.74h-4.6zM431.6 97.90h4.6v24.99h-4.6zM436.2 97.90h4.6v20.82h-4.6zM440.8 108.31h4.6v24.99h-4.6zM440.8 135.39h4.6v4.17h-4.6zM445.4 104.15h4.6v16.66h-4.6zM450.0 99.98h4.6v18.74h-4.6zM454.6 112.48h4.6v24.99h-4.6zM459.2 99.98h4.6v18.74h-4.6zM463.8 99.98h4.6v22.91h-4.6zM468.4 102.07h4.6v18.74h-4.6zM473.0 99.98h4.6v14.58h-4.6zM477.6 104.15h4.6v18.74h-4.6zM482.2 108.31h4.6v16.66h-4.6zM486.8 97.90h4.6v20.82h-4.6zM491.4 102.07h4.6v18.74h-4.6zM496.0 99.98h4.6v20.83h-4.6zM500.6 95.82h4.6v20.83h-4.6zM505.2 97.90h4.6v18.74h-4.6zM509.8 99.98h4.6v20.83h-4.6zM514.4 99.98h5.4v20.83h-5.4z"/><path fill="#af0000" d="M183.2 93.74h4.6v4.17h-4.6zM187.8 87.49h4.6v4.16h-4.6zM192.4 87.49h4.6v2.08h-4.6zM201.6 89.57h4.6v4.16h-4.6zM201.6 99.98h4.6v2.08h-4.6zM206.2 89.57h4.6v22.91h-4.6zM206.2 118.73h4.6v4.17h-4.6zM210.8 91.66h4.6v2.08h-4.6zM210.8 99.98h4.6v4.17h-4.6zM220.0 102.07h4.6v4.17h-4.6zM233.8 102.07h4.6v4.17h-4.6zM261.4 79.16h4.6v4.17h-4.6zM270.6 83.33h4.6v2.08h-4.6zM270.6 89.57h4.6v4.16h-4.6zM284.4 79.16h4.6v8.33h-4.6zM335.0 83.33h4.6v2.08h-4.6zM371.8 83.33h4.6v2.08h-4.6zM408.6 66.67h4.6v20.83h-4.6zM408.6 93.74h4.6v4.17h-4.6zM417.8 62.50h4.6v31.24h-4.6zM422.4 62.50h4.6v29.16h-4.6zM427.0 62.50h4.6v33.32h-4.6zM431.6 62.50h4.6v35.40h-4.6zM436.2 62.50h4.6v35.40h-4.6zM440.8 89.57h4.6v18.74h-4.6zM445.4 62.50h4.6v2.08h-4.6zM445.4 66.67h4.6v37.48h-4.6zM450.0 62.50h4.6v37.48h-4.6zM454.6 89.57h4.6v22.91h-4.6zM459.2 62.50h4.6v37.48h-4.6zM463.8 62.50h4.6v37.48h-4.6zM468.4 62.50h4.6v8.33h-4.6zM468.4 75.00h4.6v27.07h-4.6zM473.0 62.50h4.6v37.48h-4.6zM477.6 62.50h4.6v8.33h-4.6zM477.6 77.08h4.6v4.17h-4.6zM477.6 87.49h4.6v16.66h-4.6zM482.2 66.67h4.6v2.08h-4.6zM482.2 87.49h4.6v20.82h-4.6zM486.8 62.50h4.6v35.40h-4.6zM491.4 62.50h4.6v39.57h-4.6zM496.0 62.50h4.6v37.48h-4.6zM500.6 62.50h4.6v33.32h-4.6zM505.2 62.50h4.6v35.40h-4.6zM509.8 62.50h4.6v37.48h-4.6zM514.4 62.50h5.4v37.48h-5.4z"/><path fill="#9f0000" d="M440.8 62.50h4.6v27.07h-4.6zM445.4 64.58h4.6v2.08h-4.6zM454.6 62.50h4.6v27.07h-4.6zM468.4 70.83h4.6v4.17h-4.6zM477.6 70.83h4.6v6.25h-4.6zM477.6 81.24h4.6v6.25h-4.6zM482.2 62.50h4.6v4.17h-4.6zM482.2 68.75h4.6v18.74h-4.6z"/></g>
<g shape-rendering="crispEdges"><path fill="none" stroke="#000" stroke-width="1" d="M60.1 74.4L62.5 74.4L64.8 74.2L67.0 74.2L67.3 74.0L67.0 73.8L64.8 73.8L63.7 71.9L64.8 70.9L67.0 70.9L68.2 69.8L69.3 68.7L71.7 68.7L72.1 67.7L72.2 65.6L72.4 63.5M78.5 63.5L78.5 63.6L80.8 63.6L83.2 64.2L85.5 64.2L86.1 63.5M104.3 71.9L104.5 69.8L104.3 67.7L103.9 65.6L103.8 65.0L101.5 65.0L101.4 65.6L100.9 67.7L100.6 69.8L100.5 71.9L101.5 73.6L103.8 73.6L104.3 71.9M119.2 63.5L117.7 65.5L115.3 65.5L115.3 65.6L115.3 67.7L115.3 67.7L117.7 67.7L119.9 69.1L122.2 69.1L122.7 67.7L122.7 65.6L122.5 63.5M108.5 80.2L108.4 79.8L106.2 79.8L106.1 80.2L106.2 80.3L108.4 80.3L108.5 80.2M60.1 74.9L62.5 74.9L64.1 76.0L64.8 78.0L67.0 78.0L69.0 76.0L69.3 75.7L71.7 75.7L72.3 74.0L72.5 71.9L72.1 69.8L72.8 67.7L72.9 65.6L73.5 63.5M76.9 63.5L78.4 65.6L78.5 65.8L80.8 65.8L83.2 65.8L85.5 65.8L87.2 67.7L87.0 69.8L85.7 71.9L85.5 72.2L83.2 72.2L81.3 74.0L81.0 76.0L83.2 78.1L85.5 78.1L86.5 76.0L87.8 75.0L90.0 75.0L92.3 75.9L94.7 75.9L94.8 76.0L96.7 78.1L96.9 79.0L99.2 79.0L99.6 78.1L101.0 76.0L101.5 75.5L103.8 75.5L104.7 74.0L105.0 71.9L105.1 69.8L105.0 67.7L104.8 65.6L104.6 63.5M96.8 63.5L96.9 64.5L99.2 64.5L99.6 65.6L99.8 67.7L99.6 69.8L99.2 71.4L96.9 71.4L95.7 69.8L95.2 67.7L94.7 67.4L92.3 67.4L90.3 65.6L90.0 64.8L87.8 64.8L87.5 63.5M114.9 63.5L114.6 65.6L114.7 67.7L115.3 69.8L115.3 70.1L117.7 70.1L119.9 71.7L122.2 71.7L123.5 69.8L123.7 67.7L123.7 65.6L123.7 63.5M132.6 63.5L133.0 65.6L133.8 66.5L136.1 66.5L137.5 65.6L138.3 64.4L140.6 64.4L142.9 64.3L145.2 64.3L147.6 64.2L149.8 64.2L152.1 64.5L154.4 64.5L155.3 63.5M131.5 76.0L131.4 76.0L129.1 76.0L129.1 76.0L129.1 76.0L131.4 76.0L131.5 76.0M108.8 82.3L109.3 80.2L109.2 78.1L108.4 76.6L106.2 76.6L105.2 78.1L105.3 80.2L105.9 82.3L106.2 83.2L108.4 83.2L108.8 82.3M60.1 75.4L62.5 75.4L63.4 76.0L64.1 78.1L64.8 79.6L67.0 79.6L68.7 78.1L69.3 77.5L71.7 77.5L73.0 76.0L73.2 74.0L73.4 71.9L73.5 69.8L73.5 67.7L73.7 65.6L74.0 64.9L76.2 64.9L76.7 65.6L77.9 67.7L77.9 69.8L77.5 71.9L77.4 74.0L77.2 76.0L77.3 78.1L78.5 79.0L80.8 79.0L82.6 80.2L83.2 80.4L85.5 80.4L85.6 80.2L86.4 78.1L87.8 76.4L90.0 76.4L92.3 77.2L94.7 77.2L95.5 78.1L96.2 80.2L96.0 82.3L95.7 84.4L94.7 85.7L92.3 85.7L92.2 86.4L92.3 86.6L94.7 86.6L95.1 86.4L96.9 85.0L99.2 85.0L100.0 84.4L100.2 82.3L100.3 80.2L101.1 78.1L101.5 77.6L103.8 77.6L104.1 78.1L104.5 80.2L104.9 82.3L105.0 84.4L104.8 86.4L105.5 88.5L106.2 89.7L108.4 89.7L110.8 89.0L113.0 89.0L113.3 88.5L113.7 86.4L115.3 84.5L117.7 84.5L117.7 84.4L117.8 82.3L119.9 80.5L122.2 80.5L124.5 80.2L122.2 79.5L119.9 79.5L119.1 78.1L119.4 76.0L119.9 74.9L122.2 74.9L123.2 74.0L124.5 72.5L126.8 72.5L127.6 74.0L127.8 76.0L129.1 76.6L131.4 76.6L133.5 78.1L133.8 78.5L136.1 78.5L138.3 80.2L138.3 80.2L140.6 80.2L140.7 80.2L142.9 78.4L145.2 78.4L145.5 78.1L145.2 77.1L142.9 77.1L141.7 78.1L140.6 80.0L138.3 80.0L137.5 78.1L136.1 77.5L133.8 77.5L132.8 76.0L132.1 74.0L131.9 71.9L132.7 69.8L133.8 69.0L136.1 69.0L137.6 69.8L138.3 71.1L140.6 71.1L142.9 69.8L145.2 69.8L147.6 70.1L149.8 70.1L152.1 71.0L154.4 71.0L155.0 71.9L156.2 74.0L156.8 74.1L159.1 74.1L159.3 74.0L160.0 71.9L160.3 69.8L161.3 68.6L163.6 68.6L165.6 67.7L165.9 67.5L168.2 67.5M95.7 63.5L94.7 65.4L92.3 65.4L91.1 63.5M113.9 63.5L113.9 65.6L114.0 67.7L114.4 69.8L114.7 71.9L114.3 74.0L114.0 76.0L114.3 78.1L114.9 80.2L115.2 82.3L113.5 84.4L113.0 84.4L110.8 84.4L110.7 84.4L109.9 82.3L110.1 80.2L110.1 78.1L109.6 76.0L108.4 74.7L106.2 74.7L105.7 74.0L105.7 71.9L105.8 69.8L105.8 67.7L105.6 65.6L105.5 63.5M175.1 70.7L177.4 70.7L179.8 70.7L182.1 70.7L182.2 69.8L182.3 67.7L182.3 65.6L182.4 63.5M85.5 70.3L83.2 70.3L81.8 69.8L82.0 67.7L83.2 67.3L85.5 67.3L85.8 67.7L85.8 69.8L85.5 70.3M113.0 72.8L110.8 72.8L109.8 71.9L109.6 69.8L109.8 67.7L110.2 65.6L110.8 64.6L113.0 64.6L113.1 65.6L113.3 67.7L113.5 69.8L113.3 71.9L113.0 72.8M175.1 74.5L177.4 74.5L179.8 74.5L182.1 74.5L182.2 74.0L182.6 71.9L182.8 69.8L182.9 67.7L182.9 65.6L183.0 63.5M136.1 75.5L133.8 75.5L133.0 74.0L133.0 71.9L133.8 70.7L136.1 70.7L137.1 71.9L137.4 74.0L136.1 75.5M60.1 75.9L62.5 75.9L62.6 76.0L63.3 78.1L64.0 80.2L64.8 81.8L67.0 81.8L68.8 80.2L69.3 79.8L71.7 79.8L72.1 80.2L74.0 81.3L76.2 81.3L78.5 81.3L80.8 81.3L83.2 82.0L85.5 82.0L86.7 80.2L87.4 78.1L87.8 77.7L90.0 77.7L91.3 78.1L92.3 78.8L94.7 78.8L95.2 80.2L94.8 82.3L94.7 82.7L92.3 82.7L90.8 84.4L91.2 86.4L92.3 87.9L94.7 87.9L96.9 87.0L99.2 87.0L100.9 88.5L101.5 89.7L103.8 89.7L104.4 90.6L106.2 92.2L108.4 92.2L110.4 90.6L110.8 90.4L113.0 90.4L114.0 88.5L114.7 86.4L115.3 85.6L117.7 85.6L118.6 84.4L119.7 82.3L119.9 82.0L122.2 82.0L124.5 81.0L126.8 81.0L127.9 80.2L127.4 78.1L129.1 77.2L131.4 77.2L132.7 78.1L133.8 79.8L136.1 79.8L136.6 80.2L138.3 82.0L140.6 82.0L142.5 80.2L142.9 79.9L145.2 79.9L146.8 78.1L147.6 76.5L149.8 76.5L150.9 76.0L152.1 75.5L154.4 75.5L156.8 75.7L159.1 75.7L161.3 74.0L161.3 73.9L163.6 73.9L164.7 71.9L165.9 70.8L168.2 70.8M103.8 82.5L101.5 82.5L101.5 82.3L101.5 81.8L103.8 81.8L103.9 82.3L103.8 82.5M168.2 186.0L165.9 186.0L165.9 186.4L165.6 188.5L165.3 190.6L165.0 192.7L164.8 194.7L164.5 196.8L164.3 198.9L164.1 201.0L163.8 203.1L163.6 205.0L161.3 205.0L161.3 205.2L160.5 207.2L159.8 209.3L159.2 211.4L159.1 211.9L156.8 211.9L156.7 211.4L156.3 209.3L155.9 207.2L155.5 205.2L155.0 203.1L154.4 201.0L152.1 201.0L152.1 201.0L152.0 198.9L151.8 196.8L151.7 194.7L151.5 192.7L151.3 190.6L151.1 188.5L150.9 186.4L150.8 184.3L150.6 182.2L150.4 180.2L150.2 178.1L150.0 176.0L149.8 175.0L147.6 175.0L147.4 176.0L147.1 178.1L146.7 180.2L146.4 182.2L146.1 184.3L145.8 186.4L145.5 188.5L145.2 190.0L142.9 190.0L142.3 188.5L141.3 186.4L140.6 185.0L138.3 185.0L138.0 184.3L136.7 182.2L136.1 181.0L133.8 181.0L131.4 180.9L129.1 180.9L129.0 182.2L128.6 184.3L128.4 186.4L128.1 188.5L127.8 190.6L127.6 192.7L127.4 194.7L127.2 196.8L127.0 198.9L126.8 199.9L124.5 199.9L123.8 201.0L122.7 203.1L122.2 203.8L119.9 203.8L117.7 205.0L115.3 205.0L115.3 205.2L114.7 207.2L114.2 209.3L113.7 211.4L113.3 213.5L113.0 214.9L110.8 214.9L110.6 213.5L110.5 211.4L110.4 209.3L110.3 207.2L110.2 205.2L110.0 203.1L109.9 201.0L109.7 198.9L109.6 196.8L109.4 194.7L109.3 192.7L109.1 190.6L108.9 188.5L108.8 186.4L108.6 184.3L108.4 183.0L106.2 183.0L106.0 184.3L105.8 186.4L105.5 188.5L105.3 190.6L105.1 192.7L104.9 194.7L104.6 196.8L104.4 198.9L104.2 201.0L104.0 203.1L103.8 205.0L101.5 205.0L101.4 203.1L101.3 201.0L101.1 198.9L101.0 196.8L100.9 194.7L100.8 192.7L100.6 190.6L100.5 188.5L100.3 186.4L100.2 184.3L100.0 182.2L99.9 180.2L99.7 178.1L99.6 176.0L99.4 173.9L99.2 172.1L96.9 172.1L96.9 173.9L96.8 176.0L96.7 178.1L96.6 180.2L96.5 182.2L96.4 184.3L96.3 186.4L96.3 188.5L96.2 190.6L96.1 192.7L96.0 194.7L96.0 196.8L96.0 198.9L95.9 201.0L95.9 203.1L95.9 205.2L95.9 207.2L95.8 209.3L95.8 211.4L95.8 213.5L95.7 215.6L95.7 217.6L95.7 219.7L95.6 221.8L95.6 223.9L95.6 226.0L95.5 228.1L95.5 230.1L95.4 232.2L95.4 234.3L95.3 236.4L95.3 238.5L95.2 240.6L95.1 242.6L95.1 244.7L95.0 246.8L94.9 248.9L94.8 251.0L94.7 253.0L94.7 254.9L92.3 254.9L92.2 255.1L91.0 257.2L90.3 259.3L90.0 259.8L87.8 259.8L87.6 259.3L87.2 257.2L86.7 255.1L85.9 253.0L85.5 251.7L83.2 251.7L83.1 251.0L83.0 248.9L82.9 246.8L82.8 244.7L82.7 242.6L82.7 240.6L82.6 238.5L82.5 236.4L82.3 234.3L82.2 232.2L82.1 230.1L82.0 228.1L81.8 226.0L81.7 223.9L81.5 221.8L81.3 219.7L81.1 217.6L80.9 215.6L80.8 214.9L78.5 214.9L78.4 213.5L78.3 211.4L78.2 209.3L78.1 207.2L77.9 205.2L77.8 203.1L77.6 201.0L77.5 198.9L77.3 196.8L77.1 194.7L76.9 192.7L76.8 190.6L76.6 188.5L76.4 186.4L76.2 185.0L74.0 185.0L73.9 184.3L73.7 182.2L73.5 180.2L73.4 178.1L73.3 176.0L73.2 173.9L73.0 171.8L72.9 169.7L72.8 167.7L72.6 165.6L72.5 163.5L72.4 161.4L72.2 159.3L72.1 157.3L72.0 155.2L71.8 153.1L71.7 151.0L71.7 150.3L69.3 150.3L68.5 151.0L67.0 152.3L64.8 152.3L64.6 153.1L64.3 155.2L64.0 157.3L63.7 159.3L63.3 161.4L62.8 163.5L62.5 165.1L60.1 165.1M517.8 442.9L515.5 442.9L515.5 442.6L515.4 440.5L515.3 438.4L515.2 436.3L515.1 434.2L515.0 432.1L514.9 430.1L514.7 428.0L514.6 425.9L514.4 423.8L514.2 421.7L514.0 419.6L513.7 417.6L513.5 415.5L513.2 413.8L510.9 413.8L510.8 413.4L510.3 411.3L509.6 409.2L508.6 407.3L506.3 407.3L506.2 407.2L504.3 405.1L504.0 404.8L501.7 404.8L501.6 405.1L500.3 407.2L499.5 409.2L499.4 409.4L497.1 409.4L495.2 411.3L494.8 411.7L492.5 411.7L490.2 411.3L487.9 411.3L487.9 411.3L487.0 409.2L485.6 407.3L483.3 407.3L481.0 407.8L478.7 407.8L476.4 407.8L474.1 407.8L474.1 407.2L474.0 405.1L473.8 403.0L473.6 400.9L473.5 398.8L473.3 396.7L473.1 394.7L472.8 392.6L472.6 390.5L472.3 388.4L472.0 386.3L471.8 385.6L469.5 385.6L469.5 386.3L469.2 388.4L469.0 390.5L468.8 392.6L468.7 394.7L468.5 396.7L468.3 398.8L468.2 400.9L468.0 403.0L467.9 405.1L467.8 407.2L467.7 409.2L467.5 411.3L467.4 413.4L467.3 415.5L467.2 417.2L464.9 417.2L464.8 415.5L464.7 413.4L464.6 411.3L464.4 409.2L464.3 407.2L464.1 405.1L464.0 403.0L463.8 400.9L463.6 398.8L463.4 396.7L463.1 394.7L462.8 392.6L462.6 391.0L460.3 391.0L460.1 392.6L459.7 394.7L459.3 396.7L459.0 398.8L458.8 400.9L458.5 403.0L458.3 405.1L458.1 407.2L458.0 407.6L455.7 407.6L455.7 407.2L455.3 405.1L454.8 403.0L454.3 400.9L453.6 398.8L453.4 398.1L451.1 398.1L450.8 396.7L450.2 394.7L449.5 392.6L448.8 391.0L446.5 391.0L446.2 390.5L444.9 388.4L444.2 387.5L441.9 387.5L441.6 386.3L440.9 384.2L440.1 382.2L439.6 381.0L437.3 381.0L436.5 382.2L435.3 384.2L435.0 384.7L432.7 384.7L430.4 384.5L428.1 384.5L426.8 384.2L425.8 384.0L423.5 384.0L423.4 384.2L422.1 386.3L421.2 387.9L418.9 387.9L418.5 386.3L417.8 384.2L416.9 382.2L416.6 381.4L414.3 381.4L412.3 380.1L412.0 379.9L409.8 379.9L409.6 380.1L408.5 382.2L407.7 384.2L407.4 384.7L405.1 384.7L404.9 384.2L404.0 382.2L402.8 380.3L400.5 380.3L399.9 382.2L399.2 384.2L398.7 386.3L398.2 388.2L395.9 388.2L395.9 388.4L394.8 390.5L394.0 392.6L393.6 393.7L391.3 393.7L391.1 394.7L390.5 396.7L390.0 398.8L389.5 400.9L389.2 403.0L389.0 403.5L386.8 403.5L386.4 403.0L384.8 400.9L384.4 400.5L382.1 400.5L381.9 398.8L381.5 396.7L381.0 394.7L380.5 392.6L379.9 390.5L379.8 390.4L377.5 390.4L377.5 390.5L377.2 392.6L376.8 394.7L376.5 396.7L376.2 398.8L376.0 400.9L375.7 403.0L375.5 405.1L375.3 407.2L375.2 407.8L372.9 407.8L372.9 407.2L372.8 405.1L372.7 403.0L372.6 400.9L372.4 398.8L372.3 396.7L372.2 394.7L372.0 392.6L371.9 390.5L371.7 388.4L371.5 386.3L371.3 384.2L371.1 382.2L370.9 380.1L370.7 378.0L370.6 377.5L368.3 377.5L366.0 376.6L363.8 376.6L362.6 378.0L361.4 379.6L359.1 379.6L359.1 380.1L358.8 382.2L358.6 384.2L358.4 386.3L358.1 388.4L357.9 390.5L357.7 392.6L357.6 394.7L357.4 396.7L357.2 398.8L357.1 400.9L356.9 403.0L356.8 403.6L354.5 403.6L354.3 405.1L353.8 407.2L353.4 409.2L353.1 411.3L352.8 413.4L352.6 415.5L352.3 417.6L352.2 418.0L349.9 418.0L349.9 417.6L349.8 415.5L349.6 413.4L349.5 411.3L349.3 409.2L349.2 407.2L349.0 405.1L348.8 403.0L348.6 400.9L348.3 398.8L348.1 396.7L347.8 394.7L347.6 393.4L345.3 393.4L344.8 394.7L344.0 396.7L343.4 398.8L343.0 399.8L340.8 399.8L340.4 400.9L339.8 403.0L339.3 405.1L338.9 407.2L338.5 409.2L338.4 409.4L336.1 409.4L336.1 409.2L336.0 407.2L335.9 405.1L335.7 403.0L335.6 400.9L335.4 398.8L335.2 396.7L335.0 394.7L334.8 392.6L334.6 390.5L334.4 388.4L334.2 386.3L333.9 384.2L333.8 383.5L331.5 383.5L331.4 382.2L331.1 380.1L330.8 378.0L330.5 375.9L330.2 373.8L329.8 371.8L329.5 369.7L329.2 368.5L326.9 368.5L326.8 369.7L326.5 371.8L326.3 373.8L326.1 375.9L325.8 378.0L325.6 380.1L325.4 382.2L325.2 384.2L325.0 386.3L324.8 388.4L324.6 390.4L322.3 390.4L321.6 388.4L320.6 386.3L320.0 385.3L317.8 385.3L317.4 384.2L316.5 382.2L315.6 380.1L315.4 379.7L313.1 379.7L310.9 378.3L308.5 378.3L308.5 378.0L308.3 375.9L308.2 373.8L308.0 371.8L307.8 369.7L307.6 367.6L307.4 365.5L307.2 363.4L306.9 361.3L306.7 359.3L306.5 357.2L306.2 355.3L303.9 355.3L301.8 357.2L301.6 357.3L299.4 357.3L297.7 359.3L297.0 360.0L294.8 360.0L292.4 360.7L290.1 360.7L290.1 359.3L289.9 357.2L289.8 355.1L289.7 353.0L289.5 350.9L289.4 348.8L289.2 346.8L289.1 344.7L288.9 342.6L288.8 340.5L288.6 338.4L288.5 336.3L288.3 334.3L288.2 332.2L288.0 330.1L287.9 328.1L285.5 328.1L285.5 328.0L285.4 325.9L285.2 323.9L285.1 321.8L284.9 319.7L284.8 317.6L284.6 315.5L284.4 313.4L284.2 311.4L284.1 309.3L283.9 307.2L283.7 305.1L283.5 303.0L283.3 300.9L283.2 300.3L280.9 300.3L280.5 298.9L279.9 296.8L279.5 294.7L279.1 292.6L278.8 290.5L278.6 289.5L276.4 289.5L276.3 290.5L276.2 292.6L276.1 294.7L276.0 296.8L275.9 298.9L275.8 300.9L275.8 303.0L275.7 305.1L275.6 307.2L275.5 309.3L275.4 311.4L275.4 313.4L275.3 315.5L275.2 317.6L275.1 319.7L275.1 321.8L275.1 323.9L275.0 325.9L275.0 328.0L274.9 330.1L274.9 332.2L274.8 334.3L274.8 336.3L274.7 338.4L274.6 340.5L274.6 342.6L274.5 344.7L274.4 346.8L274.4 348.8L274.3 350.9L274.2 353.0L274.1 355.1L274.0 355.3L271.8 355.3L271.5 357.2L271.2 359.3L271.0 361.3L270.8 363.4L270.5 365.5L270.3 367.6L270.1 369.7L269.9 371.8L269.7 373.8L269.6 375.9L269.4 377.1L267.1 377.1L266.8 375.9L266.2 373.8L265.5 371.8L264.9 370.1L262.5 370.1L262.1 369.7L260.2 367.8L257.9 367.8L257.9 367.6L257.7 365.5L257.4 363.4L257.1 361.3L256.8 359.3L256.5 357.2L256.1 355.1L255.8 353.0L255.6 352.2L253.3 352.2L253.3 350.9L253.2 348.8L253.0 346.8L253.0 344.7L252.9 342.6L252.8 340.5L252.7 338.4L252.5 336.3L252.4 334.3L252.3 332.2L252.2 330.1L252.1 328.0L252.0 325.9L251.8 323.9L251.7 321.8L251.6 319.7L251.4 317.6L251.3 315.5L251.2 313.4L251.0 311.8L248.7 311.8L248.5 313.4L248.3 315.5L248.0 317.6L247.7 319.7L247.5 321.8L247.2 323.9L246.9 325.9L246.7 328.0L246.4 329.7L244.1 329.7L244.1 330.1L243.8 332.2L243.5 334.3L243.2 336.3L242.9 338.4L242.5 340.5L242.2 342.6L241.9 344.7L241.8 344.9L239.5 344.9L239.1 346.8L238.5 348.8L237.9 350.9L237.3 353.0L237.2 353.3L234.9 353.3L234.9 353.0L234.2 350.9L233.6 348.8L233.0 346.8L232.6 345.3L230.3 345.3L230.2 344.7L229.9 342.6L229.6 340.5L229.2 338.4L228.9 336.3L228.5 334.3L228.2 332.2L228.0 331.5L225.8 331.5L225.6 332.2L225.1 334.3L224.5 336.3L223.9 338.4L223.4 340.1L221.1 340.1L221.1 340.5L220.9 342.6L220.6 344.7L220.4 346.8L220.1 348.8L219.9 350.9L219.7 353.0L219.4 355.1L219.2 357.2L218.9 359.3L218.8 360.0L216.5 360.0L216.1 359.3L214.8 357.2L214.2 356.3L211.9 356.3L211.2 355.1L210.0 353.0L209.6 352.3L207.3 352.3L206.7 350.9L205.7 348.8L205.0 347.4L202.8 347.4L202.7 346.8L202.6 344.7L202.4 342.6L202.3 340.5L202.2 338.4L202.1 336.3L202.0 334.3L201.8 332.2L201.7 330.1L201.6 328.0L201.4 325.9L201.3 323.9L201.2 321.8L201.1 319.7L200.9 317.6L200.8 315.5L200.7 313.4L200.6 311.4L200.4 309.3L198.1 309.3L198.0 311.4L197.8 313.4L197.6 315.5L197.5 317.6L197.3 319.7L197.1 321.8L196.9 323.9L196.7 325.9L196.5 328.0L196.2 330.1L196.0 332.2L195.8 333.6L193.5 333.6L193.5 334.3L193.2 336.3L192.9 338.4L192.6 340.5L192.3 342.6L192.0 344.7L191.6 346.8L191.3 348.8L191.2 349.1L188.9 349.1L188.7 348.8L186.8 346.8L186.6 346.6L184.3 346.6L184.3 344.7L184.2 342.6L184.2 340.5L184.1 338.4L184.1 336.3L184.0 334.3L184.0 332.2L184.0 330.1L183.9 328.0L183.9 325.9L183.8 323.9L183.8 321.8L183.8 319.7L183.7 317.6L183.7 315.5L183.7 313.4L183.6 311.4L183.6 309.3L183.6 307.2L183.5 305.1L183.5 303.0L183.5 300.9L183.5 298.9L183.4 296.8L183.4 294.7L183.3 292.6L183.2 290.5L183.1 288.5L183.1 286.4L183.0 284.3L183.0 282.2L182.9 280.1L182.9 278.0L182.9 276.0L182.8 273.9L182.8 271.8L182.7 269.7L182.7 267.6L182.6 265.5L182.5 263.5L182.5 261.4L182.4 259.3L182.3 257.2L182.3 255.1L182.2 253.0L182.2 251.0L182.1 248.9L182.1 246.8L182.1 245.0L179.8 245.0L177.4 245.0L175.1 245.0M517.8 213.7L515.5 213.7L515.2 213.5L513.2 211.9L510.9 211.9L509.7 211.4L508.6 210.9L506.3 210.9L504.0 210.9L501.7 210.9L500.6 211.4L499.4 211.8L497.1 211.8L495.4 213.5L494.8 214.0L492.5 214.0L490.2 213.9L487.9 213.9L485.9 213.5L485.6 213.4L483.3 213.4L482.0 211.4L481.0 210.4L478.7 210.4L476.4 210.6L474.1 210.6L473.7 211.4L472.6 213.5L471.9 215.6L471.8 215.7L469.5 215.7L468.8 217.6L468.1 219.7L467.6 221.8L467.2 223.5L464.9 223.5L462.6 223.6L460.3 223.6L459.4 221.8L458.0 220.0L455.7 220.0L455.4 219.7L453.4 218.1L451.1 218.1L448.8 218.6L446.5 218.6L444.2 219.0L441.9 219.0L440.2 217.6L439.6 217.2L437.3 217.2L435.0 215.7L432.7 215.7L430.4 215.9L428.1 215.9L427.0 217.6L426.2 219.7L425.8 220.6L423.5 220.6L421.5 221.8L421.2 221.9L418.9 221.9L416.6 222.8L414.3 222.8L412.5 223.9L412.0 224.1L409.8 224.1L407.4 225.1L405.1 225.1L404.0 226.0L402.8 226.6L400.5 226.6L398.2 226.4L395.9 226.4L394.9 226.0L393.6 225.3L391.3 225.3L390.1 226.0L389.0 226.4L386.8 226.4L385.4 226.0L384.4 225.6L382.1 225.6L379.8 225.8L377.5 225.8L377.3 226.0L375.2 227.0L372.9 227.0L372.6 228.1L371.9 230.1L371.3 232.2L370.8 234.3L370.6 235.1L368.3 235.1L367.7 236.4L366.9 238.5L366.3 240.6L366.0 241.6L363.8 241.6L361.4 240.9L359.1 240.9L359.0 240.6L358.0 238.5L356.8 236.8L354.5 236.8L353.7 236.4L352.2 235.5L349.9 235.5L349.2 234.3L347.6 232.6L345.3 232.6L345.0 232.2L343.0 230.4L340.8 230.4L340.0 232.2L339.3 234.3L338.7 236.4L338.4 237.5L336.1 237.5L335.3 238.5L333.9 240.6L333.8 240.6L331.5 240.6L329.2 241.7L326.9 241.7L324.6 242.4L322.3 242.4L320.0 242.4L317.8 242.4L315.5 240.6L315.4 240.5L313.1 240.5L312.8 238.5L312.4 236.4L312.0 234.3L311.3 232.2L310.9 230.7L308.5 230.7L308.0 230.1L306.2 228.4L303.9 228.4L303.2 230.1L302.5 232.2L302.0 234.3L301.7 236.4L301.6 236.6L299.4 236.6L299.3 236.4L299.1 234.3L298.9 232.2L298.6 230.1L298.2 228.1L297.8 226.0L297.1 223.9L297.0 223.5L294.8 223.5L294.2 223.9L292.4 225.4L290.1 225.4L290.0 223.9L289.8 221.8L289.7 219.7L289.5 217.6L289.4 215.6L289.3 213.5L289.2 211.4L289.1 209.3L289.0 207.2L289.0 205.2L288.9 203.1L288.8 201.0L288.7 198.9L288.5 196.8L288.2 194.7L287.9 192.7L287.9 191.6L285.5 191.6L285.4 190.6L285.2 188.5L285.1 186.4L285.0 184.3L284.8 182.2L284.7 180.2L284.6 178.1L284.6 176.0L284.5 173.9L284.4 171.8L284.3 169.7L284.3 167.7L284.2 165.6L284.2 163.5L284.1 161.4L284.1 159.3L284.0 157.3L284.0 155.2L283.8 153.1L283.6 151.0L283.4 148.9L283.2 147.4L280.9 147.4L280.7 148.9L280.2 151.0L279.8 153.1L279.6 155.2L279.5 157.3L279.4 159.3L279.3 161.4L279.2 163.5L279.0 165.6L278.9 167.7L278.7 169.7L278.6 169.8L276.4 169.8L276.1 171.8L275.8 173.9L275.5 176.0L275.3 178.1L275.2 180.2L275.1 182.2L275.0 184.3L274.9 186.4L274.7 188.5L274.5 190.6L274.3 192.7L274.1 194.7L274.0 194.9L271.8 194.9L271.5 196.8L271.2 198.9L271.0 201.0L270.8 203.1L270.7 205.2L270.6 207.2L270.5 209.3L270.4 211.4L270.3 213.5L270.2 215.6L270.1 217.6L269.9 219.7L269.7 221.8L269.5 223.9L269.4 224.3L267.1 224.3L266.4 226.0L265.7 228.1L265.1 230.1L264.9 231.1L262.5 231.1L262.4 230.1L262.1 228.1L261.7 226.0L261.3 223.9L260.8 221.8L260.2 220.1L257.9 220.1L257.9 219.7L257.6 217.6L257.3 215.6L257.0 213.5L256.6 211.4L256.0 209.3L255.6 207.8L253.3 207.8L253.2 207.2L252.9 205.2L252.7 203.1L252.3 201.0L251.9 198.9L251.4 196.8L251.0 195.2L248.7 195.2L248.5 196.8L248.2 198.9L247.8 201.0L247.5 203.1L247.2 205.2L246.9 207.2L246.4 209.2L244.1 209.2L244.1 209.3L243.8 211.4L243.6 213.5L243.3 215.6L243.1 217.6L243.0 219.7L242.9 221.8L242.8 223.9L242.7 226.0L242.5 228.1L242.3 230.1L242.1 232.2L241.9 234.3L241.8 234.6L239.5 234.6L238.6 236.4L237.8 238.5L237.3 240.6L237.2 240.6L234.9 240.6L234.9 240.6L234.7 238.5L234.5 236.4L234.4 234.3L234.2 232.2L234.1 230.1L233.9 228.1L233.8 226.0L233.5 223.9L233.3 221.8L232.9 219.7L232.6 218.1L230.3 218.1L229.3 219.7L228.4 221.8L228.0 222.7L225.8 222.7L225.5 223.9L224.9 226.0L224.5 228.1L224.1 230.1L223.8 232.2L223.5 234.3L223.4 234.5L221.1 234.5L220.1 236.4L219.2 238.5L218.8 239.3L216.5 239.3L214.6 240.6L214.2 240.7L211.9 240.7L210.8 240.6L209.6 240.3L207.3 240.3L207.1 238.5L206.8 236.4L206.4 234.3L206.0 232.2L205.4 230.1L205.0 228.9L202.8 228.9L202.6 228.1L202.4 226.0L202.2 223.9L202.0 221.8L201.8 219.7L201.4 217.6L201.0 215.6L200.4 213.6L198.1 213.6L197.8 215.6L197.6 217.6L197.3 219.7L197.0 221.8L196.9 223.9L196.7 226.0L196.5 228.1L196.3 230.1L196.1 232.2L195.8 233.7L193.5 233.7L193.4 234.3L192.8 236.4L192.4 238.5L192.0 240.6L191.7 242.6L191.5 244.7L191.3 246.8L191.2 246.9L188.9 246.9L188.8 246.8L186.6 245.4L184.3 245.4L184.3 244.7L184.1 242.6L184.0 240.6L183.9 238.5L183.8 236.4L183.7 234.3L183.6 232.2L183.5 230.1L183.5 228.1L183.4 226.0L183.3 223.9L183.3 221.8L183.2 219.7L183.2 217.6L183.1 215.6L183.1 213.5L183.0 211.4L183.0 209.3L183.0 207.2L182.9 205.2L182.9 203.1L182.9 201.0L182.8 198.9L182.8 196.8L182.8 194.7L182.8 192.7L182.8 190.6L182.7 188.5L182.7 186.4L182.7 184.3L182.7 182.2L182.7 180.2L182.6 178.1L182.6 176.0L182.6 173.9L182.6 171.8L182.6 169.7L182.6 167.7L182.6 165.6L182.5 163.5L182.5 161.4L182.5 159.3L182.5 157.3L182.5 155.2L182.5 153.1L182.5 151.0L182.5 148.9L182.5 146.8L182.5 144.8L182.4 142.7L182.4 140.6L182.4 138.5L182.4 136.4L182.4 134.3L182.4 132.3L182.4 130.2L182.4 128.1L182.4 126.0L182.4 123.9L182.3 121.9L182.3 119.8L182.3 117.7L182.3 115.6L182.3 113.5L182.2 111.4L182.2 109.4L182.2 107.3L182.2 105.2L182.2 103.1L182.2 101.0L182.2 98.9L182.2 96.9L182.2 94.8L182.3 92.7L182.3 90.6L182.4 88.5L182.4 86.4L182.4 84.4L182.5 82.3L182.5 80.2L182.5 78.1L182.6 76.0L183.0 74.0L183.3 71.9L183.5 69.8L183.5 67.7L183.6 65.6L183.6 63.5M168.2 82.7L165.9 82.7L164.8 84.4L163.6 86.0L161.3 86.0L160.8 86.4L159.1 87.7L156.8 87.7L154.4 87.7L152.1 87.7L150.7 88.5L149.8 89.0L147.6 89.0L146.2 90.6L145.2 91.9L142.9 91.9L142.1 92.7L140.6 94.0L138.3 94.0L137.1 92.7L136.1 91.6L133.8 91.6L133.7 90.6L133.5 88.5L133.3 86.4L133.2 84.4L132.8 82.3L133.8 81.8L136.1 81.8L136.5 82.3L138.3 84.0L140.6 84.0L142.5 82.3L142.9 81.9L145.2 81.9L147.1 80.2L147.6 79.5L149.8 79.5L151.4 78.1L152.1 77.7L154.4 77.7L156.8 77.7L159.1 77.7L161.3 76.0L161.3 76.0L163.6 76.0L165.6 74.0L165.9 73.3L168.2 73.3M60.1 77.7L62.5 77.7L62.6 78.1L62.8 80.2L63.2 82.3L64.8 83.9L67.0 83.9L68.1 84.4L69.3 85.4L71.7 85.4L72.8 84.4L74.0 83.6L76.2 83.6L78.5 83.7L80.8 83.7L83.2 84.0L85.5 84.0L85.9 84.4L87.8 85.9L90.0 85.9L90.3 86.4L91.0 88.5L92.3 89.9L94.7 89.9L96.9 89.1L99.2 89.1L100.4 90.6L99.2 92.5L96.9 92.5L96.6 92.7L96.9 93.1L99.2 93.1L101.5 94.6L103.8 94.6L106.2 94.3L108.4 94.3L110.8 93.4L113.0 93.4L114.3 94.8L114.5 96.9L113.1 98.9L113.0 99.2L110.8 99.2L109.9 101.0L108.4 102.5L106.2 102.5L105.2 103.1L103.8 104.3L101.5 104.3L101.2 105.2L100.0 107.3L99.2 108.3L96.9 108.3L96.4 107.3L95.2 105.2L94.8 103.1L94.7 102.8L92.3 102.8L92.2 103.1L91.5 105.2L90.0 107.0L87.8 107.0L86.7 105.2L86.1 103.1L85.7 101.0L85.5 100.2L83.2 100.2L82.0 101.0L80.8 102.0L78.5 102.0L77.7 103.1L76.2 104.5L74.0 104.5L72.5 103.1L71.7 102.3L69.3 102.3L67.0 102.4L64.8 102.4L63.9 103.1L62.5 104.4L60.1 104.4M131.4 80.8L129.1 80.8L129.0 80.2L128.4 78.1L129.1 77.7L131.4 77.7L132.0 78.1L131.8 80.2L131.4 80.8M126.8 84.8L124.5 84.8L122.2 86.4L119.9 86.4L119.5 84.4L119.9 83.6L122.2 83.6L123.6 82.3L124.5 81.8L126.8 81.8L128.4 82.3L127.1 84.4L126.8 84.8M117.7 93.0L115.3 93.0L114.8 92.7L114.6 90.6L114.8 88.5L115.3 87.0L117.7 87.0L119.4 88.5L118.8 90.6L117.9 92.7L117.7 93.0M517.8 181.3L515.5 181.3L514.8 180.2L513.2 178.1L510.9 178.1L510.9 178.1L508.6 177.2L506.3 177.2L505.9 178.1L504.9 180.2L504.0 181.9L501.7 181.9L501.4 182.2L499.4 184.3L497.1 184.3L497.0 184.3L494.8 184.7L492.5 184.7L491.8 184.3L490.2 183.5L487.9 183.5L485.6 182.3L483.3 182.3L483.3 182.2L481.0 180.8L478.7 180.8L476.8 182.2L476.4 182.5L474.1 182.5L472.5 184.3L471.8 185.1L469.5 185.1L469.2 186.4L468.7 188.5L468.3 190.6L467.9 192.7L467.5 194.7L467.2 196.0L464.9 196.0L462.6 195.2L460.3 195.2L460.1 194.7L458.8 192.7L458.0 191.5L455.7 191.5L453.4 190.7L451.1 190.7L450.6 190.6L448.8 190.1L446.5 190.1L444.2 189.0L441.9 189.0L440.9 188.5L439.6 187.7L437.3 187.7L435.0 187.4L432.7 187.4L430.4 187.4L428.1 187.4L426.5 188.5L425.8 188.9L423.5 188.9L422.2 190.6L421.2 191.8L418.9 191.8L416.6 191.1L414.3 191.1L412.0 192.2L409.8 192.2L409.2 192.7L407.4 193.9L405.1 193.9L404.5 194.7L402.8 196.8L400.5 196.8L399.4 194.7L398.2 193.2L395.9 193.2L393.6 193.2L391.3 193.2L389.6 194.7L389.0 195.1L386.8 195.1L384.4 194.9L382.1 194.9L381.9 194.7L379.8 192.9L377.5 192.9L375.2 192.9L372.9 192.9L372.6 194.7L372.2 196.8L371.8 198.9L371.5 201.0L371.2 203.1L370.9 205.2L370.6 206.8L368.3 206.8L368.1 207.2L366.8 209.3L366.0 210.8L363.8 210.8L363.1 209.3L362.2 207.2L361.4 205.6L359.1 205.6L358.7 205.2L356.8 203.3L354.5 203.3L352.2 204.8L349.9 204.8L348.9 203.1L347.6 201.2L345.3 201.2L344.6 201.0L343.0 200.4L340.8 200.4L340.6 201.0L339.9 203.1L339.3 205.2L338.8 207.2L338.4 208.7L336.1 208.7L335.6 209.3L334.1 211.4L333.8 211.7L331.5 211.7L329.2 213.1L326.9 213.1L324.6 213.2L322.3 213.2L320.0 212.4L317.8 212.4L315.4 211.8L313.1 211.8L313.0 211.4L312.6 209.3L312.0 207.2L311.2 205.2L310.9 204.2L308.5 204.2L308.2 203.1L307.5 201.0L306.5 198.9L306.2 198.4L303.9 198.4L303.6 198.9L302.2 201.0L301.6 202.0L299.4 202.0L299.1 201.0L298.6 198.9L297.9 196.8L297.2 194.7L297.0 194.3L294.8 194.3L294.0 192.7L293.0 190.6L292.4 189.7L290.1 189.7L290.1 188.5L289.9 186.4L289.8 184.3L289.6 182.2L289.5 180.2L289.3 178.1L289.2 176.0L289.0 173.9L288.9 171.8L288.8 169.7L288.6 167.7L288.5 165.6L288.4 163.5L288.2 161.4L288.1 159.3L288.0 157.3L287.9 155.2L287.9 155.0L285.5 155.0L285.4 153.1L285.3 151.0L285.2 148.9L285.0 146.8L284.9 144.8L284.8 142.7L284.7 140.6L284.6 138.5L284.5 136.4L284.4 134.3L284.3 132.3L284.2 130.2L284.2 128.1L284.1 126.0L284.0 123.9L284.0 121.9L283.9 119.8L283.8 117.7L283.8 115.6L283.7 113.5L283.6 111.4L283.6 109.4L283.5 107.3L283.4 105.2L283.4 103.1L283.3 101.0L283.2 99.9L280.9 99.9L280.9 101.0L280.7 103.1L280.5 105.2L280.3 107.3L280.1 109.4L279.9 111.4L279.7 113.5L279.5 115.6L279.3 117.7L279.1 119.8L278.9 121.9L278.7 123.9L278.6 124.9L276.4 124.9L276.3 126.0L276.2 128.1L276.1 130.2L276.0 132.3L276.0 134.3L275.9 136.4L275.8 138.5L275.7 140.6L275.6 142.7L275.5 144.8L275.4 146.8L275.3 148.9L275.1 151.0L275.0 153.1L274.9 155.2L274.7 157.3L274.5 159.3L274.4 161.4L274.2 163.5L274.0 165.0L271.8 165.0L271.6 165.6L271.3 167.7L271.0 169.7L270.8 171.8L270.6 173.9L270.4 176.0L270.2 178.1L270.1 180.2L269.9 182.2L269.8 184.3L269.7 186.4L269.6 188.5L269.5 190.6L269.4 192.0L267.1 192.0L267.0 192.7L266.4 194.7L265.9 196.8L265.4 198.9L265.0 201.0L264.9 201.9L262.5 201.9L262.4 201.0L262.0 198.9L261.6 196.8L261.0 194.7L260.2 192.7L257.9 192.7L257.9 192.7L257.6 190.6L257.1 188.5L256.6 186.4L255.9 184.3L255.6 183.4L253.3 183.4L253.2 182.2L252.9 180.2L252.7 178.1L252.3 176.0L252.0 173.9L251.6 171.8L251.1 169.7L251.0 169.4L248.7 169.4L248.7 169.7L248.3 171.8L248.0 173.9L247.7 176.0L247.5 178.1L247.3 180.2L247.1 182.2L246.9 184.3L246.8 186.4L246.7 188.5L246.5 190.6L246.4 191.8L244.1 191.8L244.0 192.7L243.3 194.7L242.8 196.8L242.5 198.9L242.3 201.0L242.1 203.1L241.9 205.2L241.8 206.3L239.5 206.3L238.2 207.2L237.2 207.9L234.9 207.9L234.9 207.2L234.7 205.2L234.6 203.1L234.4 201.0L234.2 198.9L234.0 196.8L233.8 194.7L233.5 192.7L233.2 190.6L232.9 188.5L232.6 186.9L230.3 186.9L228.0 186.9L225.8 186.9L225.5 188.5L225.2 190.6L224.9 192.7L224.7 194.7L224.4 196.8L224.2 198.9L224.0 201.0L223.8 203.1L223.6 205.2L223.5 207.2L223.4 207.5L221.1 207.5L219.8 209.3L218.9 211.4L218.8 211.4L216.5 211.4L215.9 211.4L214.2 211.3L211.9 211.3L209.6 209.4L207.3 209.4L207.3 209.3L207.1 207.2L206.8 205.2L206.5 203.1L206.2 201.0L205.8 198.9L205.3 196.8L205.0 195.4L202.8 195.4L202.6 194.7L202.3 192.7L201.8 190.6L201.3 188.5L200.7 186.4L200.4 185.5L198.1 185.5L198.0 186.4L197.7 188.5L197.4 190.6L197.1 192.7L196.9 194.7L196.7 196.8L196.5 198.9L196.4 201.0L196.2 203.1L196.1 205.2L196.0 207.2L195.9 209.3L195.8 209.9L193.5 209.9L192.5 211.4L191.5 213.5L191.2 214.0L188.9 214.0L186.6 214.0L184.3 214.0L184.3 213.5L184.3 211.4L184.2 209.3L184.2 207.2L184.1 205.2L184.1 203.1L184.0 201.0L184.0 198.9L184.0 196.8L183.9 194.7L183.9 192.7L183.8 190.6L183.8 188.5L183.8 186.4L183.7 184.3L183.7 182.2L183.7 180.2L183.6 178.1L183.6 176.0L183.6 173.9L183.5 171.8L183.5 169.7L183.5 167.7L183.5 165.6L183.4 163.5L183.4 161.4L183.4 159.3L183.4 157.3L183.4 155.2L183.3 153.1L183.3 151.0L183.3 148.9L183.3 146.8L183.3 144.8L183.3 142.7L183.3 140.6L183.3 138.5L183.3 136.4L183.3 134.3L183.3 132.3L183.3 130.2L183.3 128.1L183.3 126.0L183.2 123.9L183.2 121.9L183.2 119.8L183.2 117.7L183.2 115.6L183.2 113.5L183.2 111.4L183.2 109.4L183.2 107.3L183.1 105.2L183.1 103.1L183.1 101.0L183.1 98.9L183.2 96.9L183.2 94.8L183.2 92.7L183.2 90.6L183.2 88.5L183.3 86.4L183.3 84.4L183.4 82.3L183.4 80.2L183.4 78.1L183.6 76.0L183.9 74.0L184.1 71.9L184.1 69.8L184.1 67.7L184.2 65.6L184.2 63.5M275.1 63.5L275.1 65.6L275.1 67.7L275.1 69.8L275.0 71.9L275.0 74.0L275.0 76.0L275.0 78.1L275.0 80.2L275.0 82.3L275.0 84.4L275.0 86.4L275.0 88.5L274.9 90.6L274.9 92.7L274.9 94.8L274.8 96.9L274.7 98.9L274.7 101.0L274.6 103.1L274.6 105.2L274.6 107.3L274.5 109.4L274.5 111.4L274.5 113.5L274.4 115.6L274.4 117.7L274.4 119.8L274.3 121.9L274.3 123.9L274.2 126.0L274.2 128.1L274.2 130.2L274.1 132.3L274.1 134.3L274.1 136.4L274.0 137.7L271.8 137.7L271.5 136.4L271.3 134.3L270.9 132.3L270.5 130.2L269.9 128.1L269.4 126.5L267.1 126.5L266.8 128.1L266.4 130.2L266.1 132.3L265.8 134.3L265.6 136.4L265.5 138.5L265.3 140.6L265.2 142.7L265.1 144.8L265.0 146.8L265.0 148.9L264.9 151.0L264.9 152.6L262.5 152.6L262.1 153.1L260.4 155.2L260.2 155.4L257.9 155.4L257.9 155.2L257.8 153.1L257.7 151.0L257.5 148.9L257.2 146.8L256.4 144.8L255.6 143.1L253.3 143.1L253.3 142.7L253.2 140.6L253.1 138.5L253.0 136.4L252.9 134.3L252.7 132.3L252.5 130.2L252.2 128.1L251.8 126.0L251.2 123.9L251.0 123.1L248.7 123.1L248.6 123.9L248.2 126.0L247.8 128.1L247.5 130.2L247.2 132.3L246.9 134.3L246.6 136.4L246.4 137.7L244.1 137.7L244.0 138.5L243.6 140.6L243.4 142.7L243.1 144.8L242.9 146.8L242.7 148.9L242.4 151.0L242.2 153.1L241.9 155.2L241.8 155.9L239.5 155.9L237.2 155.7L234.9 155.7L234.8 155.2L234.4 153.1L233.8 151.0L233.0 148.9L232.6 148.0L230.3 148.0L228.9 146.8L228.0 146.1L225.8 146.1L225.5 146.8L224.7 148.9L224.1 151.0L223.6 153.1L223.4 153.5L221.1 153.5L220.8 155.2L220.3 157.3L219.8 159.3L219.4 161.4L219.0 163.5L218.8 164.0L216.5 164.0L214.2 164.6L211.9 164.6L211.5 163.5L210.6 161.4L209.6 159.5L207.3 159.5L207.3 159.3L206.7 157.3L206.0 155.2L205.0 153.1L202.8 153.1L202.7 153.1L202.3 151.0L201.7 148.9L200.9 146.8L200.4 145.7L198.1 145.7L197.6 146.8L196.7 148.9L196.0 151.0L195.8 151.5L193.5 151.5L193.2 153.1L192.9 155.2L192.6 157.3L192.2 159.3L191.9 161.4L191.6 163.5L191.3 165.6L191.2 165.7L188.9 165.7L188.7 165.6L186.6 164.8L184.3 164.8L184.3 163.5L184.3 161.4L184.3 159.3L184.2 157.3L184.2 155.2L184.2 153.1L184.2 151.0L184.2 148.9L184.2 146.8L184.2 144.8L184.2 142.7L184.2 140.6L184.2 138.5L184.2 136.4L184.2 134.3L184.2 132.3L184.2 130.2L184.2 128.1L184.1 126.0L184.1 123.9L184.1 121.9L184.1 119.8L184.1 117.7L184.1 115.6L184.1 113.5L184.1 111.4L184.1 109.4L184.1 107.3L184.1 105.2L184.1 103.1L184.1 101.0L184.1 98.9L184.1 96.9L184.1 94.8L184.1 92.7L184.1 90.6L184.1 88.5L184.2 86.4L184.2 84.4L184.3 82.3L184.3 80.2L184.3 78.1L184.3 78.1L186.6 78.1L188.8 76.0L188.9 75.9L191.2 75.9L191.5 76.0L193.5 77.5L195.8 77.5L196.0 78.1L196.8 80.2L198.1 81.8L200.4 81.8L202.4 80.2L202.8 79.9L205.0 79.9L207.3 79.7L209.6 79.7L210.2 80.2L211.9 81.8L214.2 81.8L216.5 81.6L218.8 81.6L221.1 82.0L223.4 82.0L223.7 82.3L225.8 84.1L228.0 84.1L228.1 84.4L228.5 86.4L229.2 88.5L230.3 90.4L232.6 90.4L234.9 89.9L237.2 89.9L239.0 88.5L239.5 88.0L241.8 88.0L244.0 86.4L244.1 86.3L246.4 86.3L246.8 84.4L247.2 82.3L247.4 80.2L247.5 78.1L247.6 76.0L247.7 74.0L247.8 71.9L247.9 69.8L248.0 67.7L248.1 65.6L248.2 63.5M517.8 142.9L515.5 142.9L515.5 142.7L515.0 140.6L513.4 138.5L513.2 138.3L510.9 138.3L510.5 136.4L509.7 134.3L508.6 132.9L506.3 132.9L505.7 134.3L505.1 136.4L504.7 138.5L504.4 140.6L504.3 142.7L504.1 144.8L504.0 145.6L501.7 145.6L501.5 144.8L500.5 142.7L499.4 141.3L497.1 141.3L494.8 140.6L492.5 140.6L490.4 142.7L490.2 142.8L487.9 142.8L485.6 143.1L483.3 143.1L482.9 142.7L481.0 140.9L478.7 140.9L476.4 140.9L474.1 140.9L472.8 142.7L472.1 144.8L471.9 146.8L471.8 146.8L469.5 146.8L468.1 148.9L467.6 151.0L467.4 153.1L467.3 155.2L467.2 155.4L464.9 155.4L462.6 155.6L460.3 155.6L459.9 155.2L458.0 153.4L455.7 153.4L455.6 153.1L454.9 151.0L453.4 149.3L451.1 149.3L448.9 151.0L448.8 151.1L446.5 151.1L446.5 151.0L445.9 148.9L444.2 147.1L441.9 147.1L441.6 146.8L439.6 145.2L437.3 145.2L435.0 144.8L432.7 144.8L432.4 144.8L430.4 143.8L428.1 143.8L426.9 144.8L425.8 145.2L423.5 145.2L422.1 146.8L421.3 148.9L421.2 149.1L418.9 149.1L418.8 148.9L417.5 146.8L416.6 145.9L414.3 145.9L412.9 146.8L412.0 147.2L409.8 147.2L407.4 148.9L405.1 148.9L405.1 148.9L403.1 151.0L402.8 151.7L400.5 151.7L400.2 151.0L398.2 149.1L395.9 149.1L393.6 149.1L391.3 149.1L389.4 151.0L389.0 151.5L386.8 151.5L386.6 151.0L386.2 148.9L384.8 146.8L384.4 146.2L382.1 146.2L381.5 146.8L379.9 148.9L379.8 149.0L377.5 149.0L377.5 148.9L377.0 146.8L375.2 144.8L372.9 144.8L372.0 146.8L371.5 148.9L371.3 151.0L371.1 153.1L370.9 155.2L370.8 157.3L370.8 159.3L370.7 161.4L370.7 163.5L370.6 163.6L368.3 163.6L366.4 165.6L366.1 167.7L366.0 167.7L363.8 167.7L363.7 167.7L363.7 165.6L363.5 163.5L363.2 161.4L362.3 159.3L361.4 157.7L359.1 157.7L358.5 157.3L356.8 155.9L354.5 155.9L353.8 157.3L352.8 159.3L352.5 161.4L352.3 163.5L352.2 163.7L349.9 163.7L349.9 163.5L349.5 161.4L347.6 159.4L345.3 159.4L343.0 159.4L340.8 159.4L338.9 161.4L338.5 163.5L338.4 163.7L336.1 163.7L333.9 165.6L333.8 165.6L331.5 165.6L329.6 167.7L329.3 169.7L329.2 169.8L326.9 169.8L324.6 170.1L322.3 170.1L322.1 169.7L320.0 167.9L317.8 167.9L315.4 167.7L313.1 167.7L313.1 167.7L313.1 165.6L312.9 163.5L312.8 161.4L312.4 159.3L311.6 157.3L310.9 155.7L308.5 155.7L308.4 155.2L308.0 153.1L306.2 151.1L303.9 151.1L302.7 153.1L302.2 155.2L301.9 157.3L301.8 159.3L301.7 161.4L301.6 161.5L299.4 161.5L299.3 161.4L299.3 159.3L299.1 157.3L299.0 155.2L298.7 153.1L298.1 151.0L297.0 149.1L294.8 149.1L293.5 151.0L292.9 153.1L292.6 155.2L292.4 157.0L290.1 157.0L290.1 155.2L290.1 153.1L290.1 151.0L290.1 148.9L290.0 146.8L290.0 144.8L289.9 142.7L289.9 140.6L289.8 138.5L289.7 136.4L289.6 134.3L289.4 132.3L289.2 130.2L288.9 128.1L288.2 126.0L287.9 124.8L285.5 124.8L285.5 123.9L285.5 121.9L285.5 119.8L285.4 117.7L285.4 115.6L285.3 113.5L285.3 111.4L285.3 109.4L285.3 107.3L285.2 105.2L285.2 103.1L285.2 101.0L285.2 98.9L285.1 96.9L285.1 94.8L285.1 92.7L285.1 90.6L285.0 88.5L285.0 86.4L285.0 84.4L285.0 82.3L285.0 80.2L285.0 78.1L285.0 76.0L285.0 74.0L285.0 71.9L285.0 69.8L285.0 67.7L285.0 65.6L284.9 63.5M63.4 74.0L62.8 71.9L64.8 70.0L67.0 70.0L67.2 69.8L69.3 67.9L71.7 67.9L71.7 67.7L71.8 65.6L71.9 63.5M104.0 71.9L104.2 69.8L103.9 67.7L103.8 67.5L101.5 67.5L101.5 67.7L101.1 69.8L101.2 71.9L101.5 72.4L103.8 72.4L104.0 71.9M64.8 76.8L67.0 76.8L67.8 76.0L69.3 74.6L71.7 74.6L71.9 74.0L72.0 71.9L71.7 70.4L69.3 70.4L69.1 69.8L69.3 69.6L71.7 69.6L72.5 67.7L72.5 65.6L73.0 63.5M77.7 63.5L78.5 64.7L80.8 64.7L83.2 65.0L85.5 65.0L86.8 63.5M100.3 63.5L100.5 65.6L100.4 67.7L100.1 69.8L99.8 71.9L99.2 72.9L96.9 72.9L94.9 71.9L94.7 71.2L92.3 71.2L91.0 69.8L90.0 68.8L87.8 68.8L87.6 69.8L86.9 71.9L85.5 73.5L83.2 73.5L82.7 74.0L82.8 76.0L83.2 76.4L85.5 76.4L85.6 76.0L87.8 74.2L90.0 74.2L92.3 74.7L94.7 74.7L95.9 76.0L96.9 77.3L99.2 77.3L100.1 76.0L101.5 74.6L103.8 74.6L104.2 74.0L104.7 71.9L104.8 69.8L104.7 67.7L104.3 65.6L104.2 63.5M115.3 63.5L115.0 65.6L115.0 67.7L115.3 68.9L117.7 68.9L119.0 69.8L119.9 70.5L122.2 70.5L122.7 69.8L123.2 67.7L123.2 65.6L123.1 63.5M133.4 63.5L133.8 64.6L136.1 64.6M67.0 72.0L64.8 72.0L64.7 71.9L64.8 71.8L67.0 71.8L67.2 71.9L67.0 72.0M108.9 80.2L108.8 78.1L108.4 77.5L106.2 77.5L105.8 78.1L105.7 80.2L106.2 81.7L108.4 81.7L108.9 80.2M64.8 78.8L67.0 78.8L67.8 78.1L69.3 76.7L71.7 76.7L72.2 76.0L72.8 74.0L72.9 71.9L72.8 69.8L73.2 67.7L73.3 65.6L74.0 63.7L76.2 63.7L77.6 65.6L78.5 67.1L80.8 67.1L83.2 66.6L85.5 66.6L86.5 67.7L86.4 69.8L85.5 71.2L83.2 71.2L81.1 71.9L80.8 72.1L78.5 72.1L78.1 74.0L77.9 76.0L78.5 77.7L80.8 77.7L81.3 78.1L83.2 79.3L85.5 79.3L85.9 78.1L87.4 76.0L87.8 75.8L90.0 75.8L90.7 76.0L92.3 76.6L94.7 76.6L96.1 78.1L96.7 80.2L96.6 82.3L96.9 83.6L99.2 83.6L99.6 82.3L99.6 80.2L100.4 78.1L101.5 76.5L103.8 76.5L104.7 78.1L104.9 80.2L105.4 82.3L105.9 84.4L106.1 86.4L106.2 86.8L108.4 86.8L110.8 87.7L113.0 87.7M96.2 63.5L95.9 65.6L94.7 66.4L92.3 66.4L91.5 65.6L90.5 63.5M113.0 85.8L110.8 85.8L109.0 84.4L109.3 82.3L109.7 80.2L109.7 78.1L108.8 76.0L108.4 75.7L106.2 75.7L105.2 74.0L105.3 71.9L105.5 69.8L105.4 67.7L105.2 65.6L105.0 63.5M114.4 63.5L114.2 65.6L114.3 67.7L114.8 69.8L115.3 71.7L117.7 71.7L118.0 71.9L117.7 72.7L115.3 72.7L115.2 74.0L114.8 76.0L115.2 78.1L115.3 78.6L117.7 78.6L117.8 78.1L118.4 76.0L118.3 74.0L119.9 73.1L122.2 73.1L123.5 71.9L124.2 69.8L124.3 67.7L124.3 65.6L124.3 63.5M131.9 63.5L131.5 65.6L131.4 66.0L129.1 66.0L128.6 67.7L129.1 69.2L131.4 69.2L133.8 68.0L136.1 68.0M99.2 67.9L96.9 67.9L96.9 67.7L96.9 67.7L99.2 67.7L99.3 67.7L99.2 67.9M132.1 76.0L131.7 74.0L131.4 72.3L129.1 72.3L128.6 74.0L128.5 76.0M95.2 63.5L94.7 64.4L92.3 64.4L91.7 63.5M113.4 63.5L113.5 65.6L113.6 67.7L113.9 69.8L114.0 71.9L113.5 74.0L113.3 76.0L113.4 78.1L113.9 80.2L113.8 82.3L113.0 83.1L110.8 83.1L110.4 82.3L110.4 80.2L110.6 78.1L110.5 76.0L109.1 74.0L108.4 73.3L106.2 73.3L106.0 71.9L106.1 69.8L106.2 68.8L108.4 68.8L108.6 67.7L108.4 67.1L106.2 67.1L106.0 65.6L105.9 63.5M76.2 68.5L74.0 68.5L73.9 67.7L74.0 67.1L76.2 67.1L76.5 67.7L76.2 68.5M76.2 76.9L74.0 76.9L73.8 76.0L73.7 74.0L73.9 71.9L74.0 71.1L76.2 71.1L76.4 71.9L76.7 74.0L76.4 76.0L76.2 76.9M133.5 76.0L132.5 74.0L132.4 71.9L133.8 69.9L136.1 69.9M126.8 78.1L124.5 78.1L123.5 76.0L124.5 74.8L126.8 74.8L127.1 76.0M86.1 80.2L86.9 78.1L87.8 77.1L90.0 77.1L92.3 77.9L94.7 77.9L94.9 78.1L95.7 80.2L95.4 82.3L94.7 83.8L92.3 83.8M136.1 76.4L133.8 76.4M67.4 80.2L69.3 78.5L71.7 78.5L73.5 80.2M103.8 85.7L101.5 85.7L101.1 84.4L100.9 82.3L101.0 80.2L101.5 78.9L103.8 78.9L104.2 80.2L104.4 82.3L104.2 84.4L103.8 85.7M96.4 86.4L96.9 86.0L99.2 86.0L100.8 86.4L101.5 87.2L103.8 87.2L104.3 88.5L105.6 90.6M109.1 90.6L110.8 89.7L113.0 89.7"/></g><g font-family="Liberation Serif" font-weight="bold" font-size="11.5" fill="#000" stroke="#000" stroke-width="0.25"><text x="82.0" y="229.2" textLength="12.4" lengthAdjust="spacingAndGlyphs">35</text><text x="130.4" y="204.5" textLength="12.4" lengthAdjust="spacingAndGlyphs">35</text><text x="174.7" y="281.4" textLength="13.3" lengthAdjust="spacingAndGlyphs">35</text><text x="275.3" y="315.0" textLength="11.7" lengthAdjust="spacingAndGlyphs">35</text><text x="483.5" y="418.3" textLength="13.0" lengthAdjust="spacingAndGlyphs">35</text><text x="513.0" y="460.1" textLength="6.5" lengthAdjust="spacingAndGlyphs">3</text><text x="183.0" y="131.6" textLength="12.0" lengthAdjust="spacingAndGlyphs">36</text><text x="232.5" y="87.8" textLength="23.0" lengthAdjust="spacingAndGlyphs">36.5</text><text x="250.0" y="88.3" textLength="26.0" lengthAdjust="spacingAndGlyphs">36.5</text><text x="250.0" y="95.3" textLength="25.0" lengthAdjust="spacingAndGlyphs">36.5</text><text x="398.9" y="225.0" textLength="21.6" lengthAdjust="spacingAndGlyphs">35.5</text><text x="488.0" y="138.3" textLength="22.7" lengthAdjust="spacingAndGlyphs">36.5</text><text x="504.5" y="132.0" textLength="15.0" lengthAdjust="spacingAndGlyphs">36.</text><text x="323.0" y="68.3" textLength="26.0" lengthAdjust="spacingAndGlyphs">36.5</text><text x="371.5" y="68.8" textLength="22.0" lengthAdjust="spacingAndGlyphs">36.5</text></g><path stroke="#000" stroke-width="1" shape-rendering="crispEdges" d="M78.5 231.4h6M81.5 228.4v6M127.4 206.7h6M130.4 203.7v6M171.7 284.0h6M174.7 281.0v6M271.1 317.2h6M274.1 314.2v6M479.8 416.4h6M482.8 413.4v6M509.0 461.3h6M512.0 458.3v6M178.0 133.0h6M181.0 130.0v6M227.8 91.5h6M230.8 88.5v6M246.8 96.7h6M249.8 93.7v6M395.9 228.0h6M398.9 225.0v6M483.0 141.4h6M486.0 138.4v6M501.5 133.2h6M504.5 130.2v6M319.3 69.0h6M322.3 66.0v6M367.0 69.8h6M370.0 66.8v6M515 65.5h6M518 62.5v6"/><path fill="none" stroke="#000" stroke-width="1" shape-rendering="crispEdges" d="M514.5 449.5h3v4l1 4v8l-1 6h-2l-1-6v-8l1-4z"/>
<g shape-rendering="crispEdges" stroke="#000" stroke-width="1" fill="none">
<path d="M59.5 61V481.5M59 481.5H520M59 61.5H520"/>
<path d="M59.5 56v5M64.1 56v5M68.7 56v5M73.3 56v5M77.9 56v5M82.5 56v5M87.1 56v5M91.7 56v5M96.3 56v5M100.9 56v5M105.5 56v5M110.1 56v5M114.7 56v5M119.3 56v5M123.9 56v5M128.5 56v5M133.1 56v5M137.7 56v5M142.3 56v5M146.9 56v5M151.5 56v5M156.1 56v5M160.7 56v5M165.3 56v5M174.5 56v5M179.1 56v5M183.7 56v5M188.3 56v5M192.9 56v5M197.5 56v5M202.1 56v5M206.7 56v5M211.3 56v5M215.9 56v5M220.5 56v5M225.1 56v5M229.7 56v5M234.3 56v5M238.9 56v5M243.5 56v5M248.1 56v5M252.7 56v5M257.3 56v5M261.9 56v5M266.5 56v5M271.1 56v5M275.7 56v5M280.3 56v5M284.9 56v5M289.5 56v5M294.1 56v5M298.7 56v5M303.3 56v5M307.9 56v5M312.5 56v5M317.1 56v5M321.7 56v5M326.3 56v5M330.9 56v5M335.5 56v5M340.1 56v5M344.7 56v5M349.3 56v5M353.9 56v5M358.5 56v5M363.1 56v5M367.7 56v5M372.3 56v5M376.9 56v5M381.5 56v5M386.1 56v5M390.7 56v5M395.3 56v5M399.9 56v5M404.5 56v5M409.1 56v5M413.7 56v5M418.3 56v5M422.9 56v5M427.5 56v5M432.1 56v5M436.7 56v5M441.3 56v5M445.9 56v5M450.5 56v5M455.1 56v5M459.7 56v5M464.3 56v5M468.9 56v5M473.5 56v5M478.1 56v5M482.7 56v5M487.3 56v5M491.9 56v5M496.5 56v5M59.5 481v-5M100.9 481v-5M146.9 481v-5M192.9 481v-5M238.9 481v-5M284.9 481v-5M330.9 481v-5M376.9 481v-5M422.9 481v-5M468.9 481v-5M514.9 481v-5"/>
</g>
<g filter="url(#cr)">
<g font-size="13" fill="#000"><text x="55" y="65.6" text-anchor="end">0</text><text x="55" y="107.4" text-anchor="end">200</text><text x="55" y="149.2" text-anchor="end">400</text><text x="55" y="190.9" text-anchor="end">600</text><text x="55" y="232.7" text-anchor="end">800</text><text x="55" y="274.5" text-anchor="end">1000</text><text x="55" y="316.3" text-anchor="end">1200</text><text x="55" y="358.1" text-anchor="end">1400</text><text x="55" y="399.8" text-anchor="end">1600</text><text x="55" y="441.6" text-anchor="end">1800</text><text x="55" y="483.4" text-anchor="end">2000</text><text x="59.5" y="496.5" text-anchor="middle">1</text><text x="100.9" y="496.5" text-anchor="middle">10</text><text x="146.9" y="496.5" text-anchor="middle">20</text><text x="192.9" y="496.5" text-anchor="middle">30</text><text x="238.9" y="496.5" text-anchor="middle">40</text><text x="284.9" y="496.5" text-anchor="middle">50</text><text x="330.9" y="496.5" text-anchor="middle">60</text><text x="376.9" y="496.5" text-anchor="middle">70</text><text x="422.9" y="496.5" text-anchor="middle">80</text><text x="468.9" y="496.5" text-anchor="middle">90</text><text x="514.9" y="496.5" text-anchor="middle">100</text></g>
<text x="218" y="38.5" font-size="18" font-weight="bold" textLength="143" lengthAdjust="spacingAndGlyphs">Salinity / Salinité</text>
<text x="262" y="512.6" font-size="15.5" font-weight="bold" textLength="52.5" lengthAdjust="spacingAndGlyphs">Station</text>
<text transform="translate(19.9,368.5) rotate(-90)" font-size="16" font-weight="bold" textLength="197.5" lengthAdjust="spacingAndGlyphs">Pressure / Pression (dbar)</text>
</g>
<g shape-rendering="crispEdges"><rect x="565.5" y="61.50" width="42.0" height="6.85" fill="#800000"/><rect x="565.5" y="68.05" width="42.0" height="6.85" fill="#8f0000"/><rect x="565.5" y="74.61" width="42.0" height="6.85" fill="#9f0000"/><rect x="565.5" y="81.16" width="42.0" height="6.85" fill="#af0000"/><rect x="565.5" y="87.72" width="42.0" height="6.85" fill="#bf0000"/><rect x="565.5" y="94.27" width="42.0" height="6.85" fill="#cf0000"/><rect x="565.5" y="100.83" width="42.0" height="6.85" fill="#df0000"/><rect x="565.5" y="107.38" width="42.0" height="6.85" fill="#ef0000"/><rect x="565.5" y="113.94" width="42.0" height="6.85" fill="#ff0000"/><rect x="565.5" y="120.49" width="42.0" height="6.85" fill="#ff1000"/><rect x="565.5" y="127.05" width="42.0" height="6.85" fill="#ff2000"/><rect x="565.5" y="133.60" width="42.0" height="6.85" fill="#ff3000"/><rect x="565.5" y="140.16" width="42.0" height="6.85" fill="#ff4000"/><rect x="565.5" y="146.71" width="42.0" height="6.85" fill="#ff5000"/><rect x="565.5" y="153.27" width="42.0" height="6.85" fill="#ff6000"/><rect x="565.5" y="159.82" width="42.0" height="6.85" fill="#ff7000"/><rect x="565.5" y="166.38" width="42.0" height="6.85" fill="#ff8000"/><rect x="565.5" y="172.93" width="42.0" height="6.85" fill="#ff8f00"/><rect x="565.5" y="179.48" width="42.0" height="6.85" fill="#ff9f00"/><rect x="565.5" y="186.04" width="42.0" height="6.85" fill="#ffaf00"/><rect x="565.5" y="192.59" width="42.0" height="6.85" fill="#ffbf00"/><rect x="565.5" y="199.15" width="42.0" height="6.85" fill="#ffcf00"/><rect x="565.5" y="205.70" width="42.0" height="6.85" fill="#ffdf00"/><rect x="565.5" y="212.26" width="42.0" height="6.85" fill="#ffef00"/><rect x="565.5" y="218.81" width="42.0" height="6.85" fill="#ffff00"/><rect x="565.5" y="225.37" width="42.0" height="6.85" fill="#efff20"/><rect x="565.5" y="231.92" width="42.0" height="6.85" fill="#dfff30"/><rect x="565.5" y="238.48" width="42.0" height="6.85" fill="#cfff40"/><rect x="565.5" y="245.03" width="42.0" height="6.85" fill="#bfff50"/><rect x="565.5" y="251.59" width="42.0" height="6.85" fill="#afff60"/><rect x="565.5" y="258.14" width="42.0" height="6.85" fill="#9fff70"/><rect x="565.5" y="264.70" width="42.0" height="6.85" fill="#8fff80"/><rect x="565.5" y="271.25" width="42.0" height="6.85" fill="#80ff8f"/><rect x="565.5" y="277.80" width="42.0" height="6.85" fill="#70ff9f"/><rect x="565.5" y="284.36" width="42.0" height="6.85" fill="#60ffaf"/><rect x="565.5" y="290.91" width="42.0" height="6.85" fill="#50ffbf"/><rect x="565.5" y="297.47" width="42.0" height="6.85" fill="#40ffcf"/><rect x="565.5" y="304.02" width="42.0" height="6.85" fill="#30ffdf"/><rect x="565.5" y="310.58" width="42.0" height="6.85" fill="#20ffef"/><rect x="565.5" y="317.13" width="42.0" height="6.85" fill="#10ffff"/><rect x="565.5" y="323.69" width="42.0" height="6.85" fill="#00ffff"/><rect x="565.5" y="330.24" width="42.0" height="6.85" fill="#00efff"/><rect x="565.5" y="336.80" width="42.0" height="6.85" fill="#00dfff"/><rect x="565.5" y="343.35" width="42.0" height="6.85" fill="#00cfff"/><rect x="565.5" y="349.91" width="42.0" height="6.85" fill="#00bfff"/><rect x="565.5" y="356.46" width="42.0" height="6.85" fill="#00afff"/><rect x="565.5" y="363.02" width="42.0" height="6.85" fill="#009fff"/><rect x="565.5" y="369.57" width="42.0" height="6.85" fill="#008fff"/><rect x="565.5" y="376.12" width="42.0" height="6.85" fill="#0080ff"/><rect x="565.5" y="382.68" width="42.0" height="6.85" fill="#0070ff"/><rect x="565.5" y="389.23" width="42.0" height="6.85" fill="#0060ff"/><rect x="565.5" y="395.79" width="42.0" height="6.85" fill="#0050ff"/><rect x="565.5" y="402.34" width="42.0" height="6.85" fill="#0040ff"/><rect x="565.5" y="408.90" width="42.0" height="6.85" fill="#0030ff"/><rect x="565.5" y="415.45" width="42.0" height="6.85" fill="#0020ff"/><rect x="565.5" y="422.01" width="42.0" height="6.85" fill="#0010ff"/><rect x="565.5" y="428.56" width="42.0" height="6.85" fill="#0000ef"/><rect x="565.5" y="435.12" width="42.0" height="6.85" fill="#0000df"/><rect x="565.5" y="441.67" width="42.0" height="6.85" fill="#0000cf"/><rect x="565.5" y="448.23" width="42.0" height="6.85" fill="#0000bf"/><rect x="565.5" y="454.78" width="42.0" height="6.85" fill="#0000af"/><rect x="565.5" y="461.34" width="42.0" height="6.85" fill="#00009f"/><rect x="565.5" y="467.89" width="42.0" height="6.85" fill="#00008f"/><rect x="565.5" y="474.45" width="42.0" height="6.85" fill="#000080"/></g>
<rect x="565.5" y="61.5" width="42" height="419.5" fill="none" stroke="#000" stroke-width="1" shape-rendering="crispEdges"/>
<path d="M565.5 146.5h4M607.5 146.5h-4M565.5 332.5h4M607.5 332.5h-4" stroke="#000" shape-rendering="crispEdges"/>
<g filter="url(#cr)">
<text x="611" y="152" font-size="13">36</text>
<text x="611" y="337" font-size="13">34</text>
<text x="577.5" y="51.5" font-size="10">PSU</text>
<text x="64.3" y="547.8" font-size="14" font-weight="bold" textLength="168" lengthAdjust="spacingAndGlyphs">Float/Profileur dérivant:</text>
<text x="239" y="547.8" font-size="14" textLength="57.3" lengthAdjust="spacingAndGlyphs">4900249</text>
<text x="64.3" y="567.5" font-size="14" font-weight="bold" textLength="109.2" lengthAdjust="spacingAndGlyphs">Period/Période:</text>
<text x="182.2" y="567.5" font-size="14" font-weight="bold" textLength="14.1" lengthAdjust="spacingAndGlyphs">11</text>
<text x="197.7" y="567.5" font-size="14" textLength="56.9" lengthAdjust="spacingAndGlyphs">/03/2002</text>
<text x="264.6" y="567.5" font-size="14" textLength="23.9" lengthAdjust="spacingAndGlyphs">to/à</text>
<text x="298.5" y="567.5" font-size="14" textLength="74.7" lengthAdjust="spacingAndGlyphs">07/30/2005</text>
<text x="63.1" y="586.8" font-size="11" textLength="283.7" lengthAdjust="spacingAndGlyphs">Tick marks at top indicate stations with delayed mode data</text>
<text x="63.1" y="605.9" font-size="11" textLength="290" lengthAdjust="spacingAndGlyphs">Traits de l'axe supérieur indiquent données en mode différé</text>
<text x="439.2" y="626.7" font-size="11" textLength="115.8" lengthAdjust="spacingAndGlyphs" xml:space="preserve">MEDS/SDMM  08/09/05</text>
</g>
</svg>
</body></html>
